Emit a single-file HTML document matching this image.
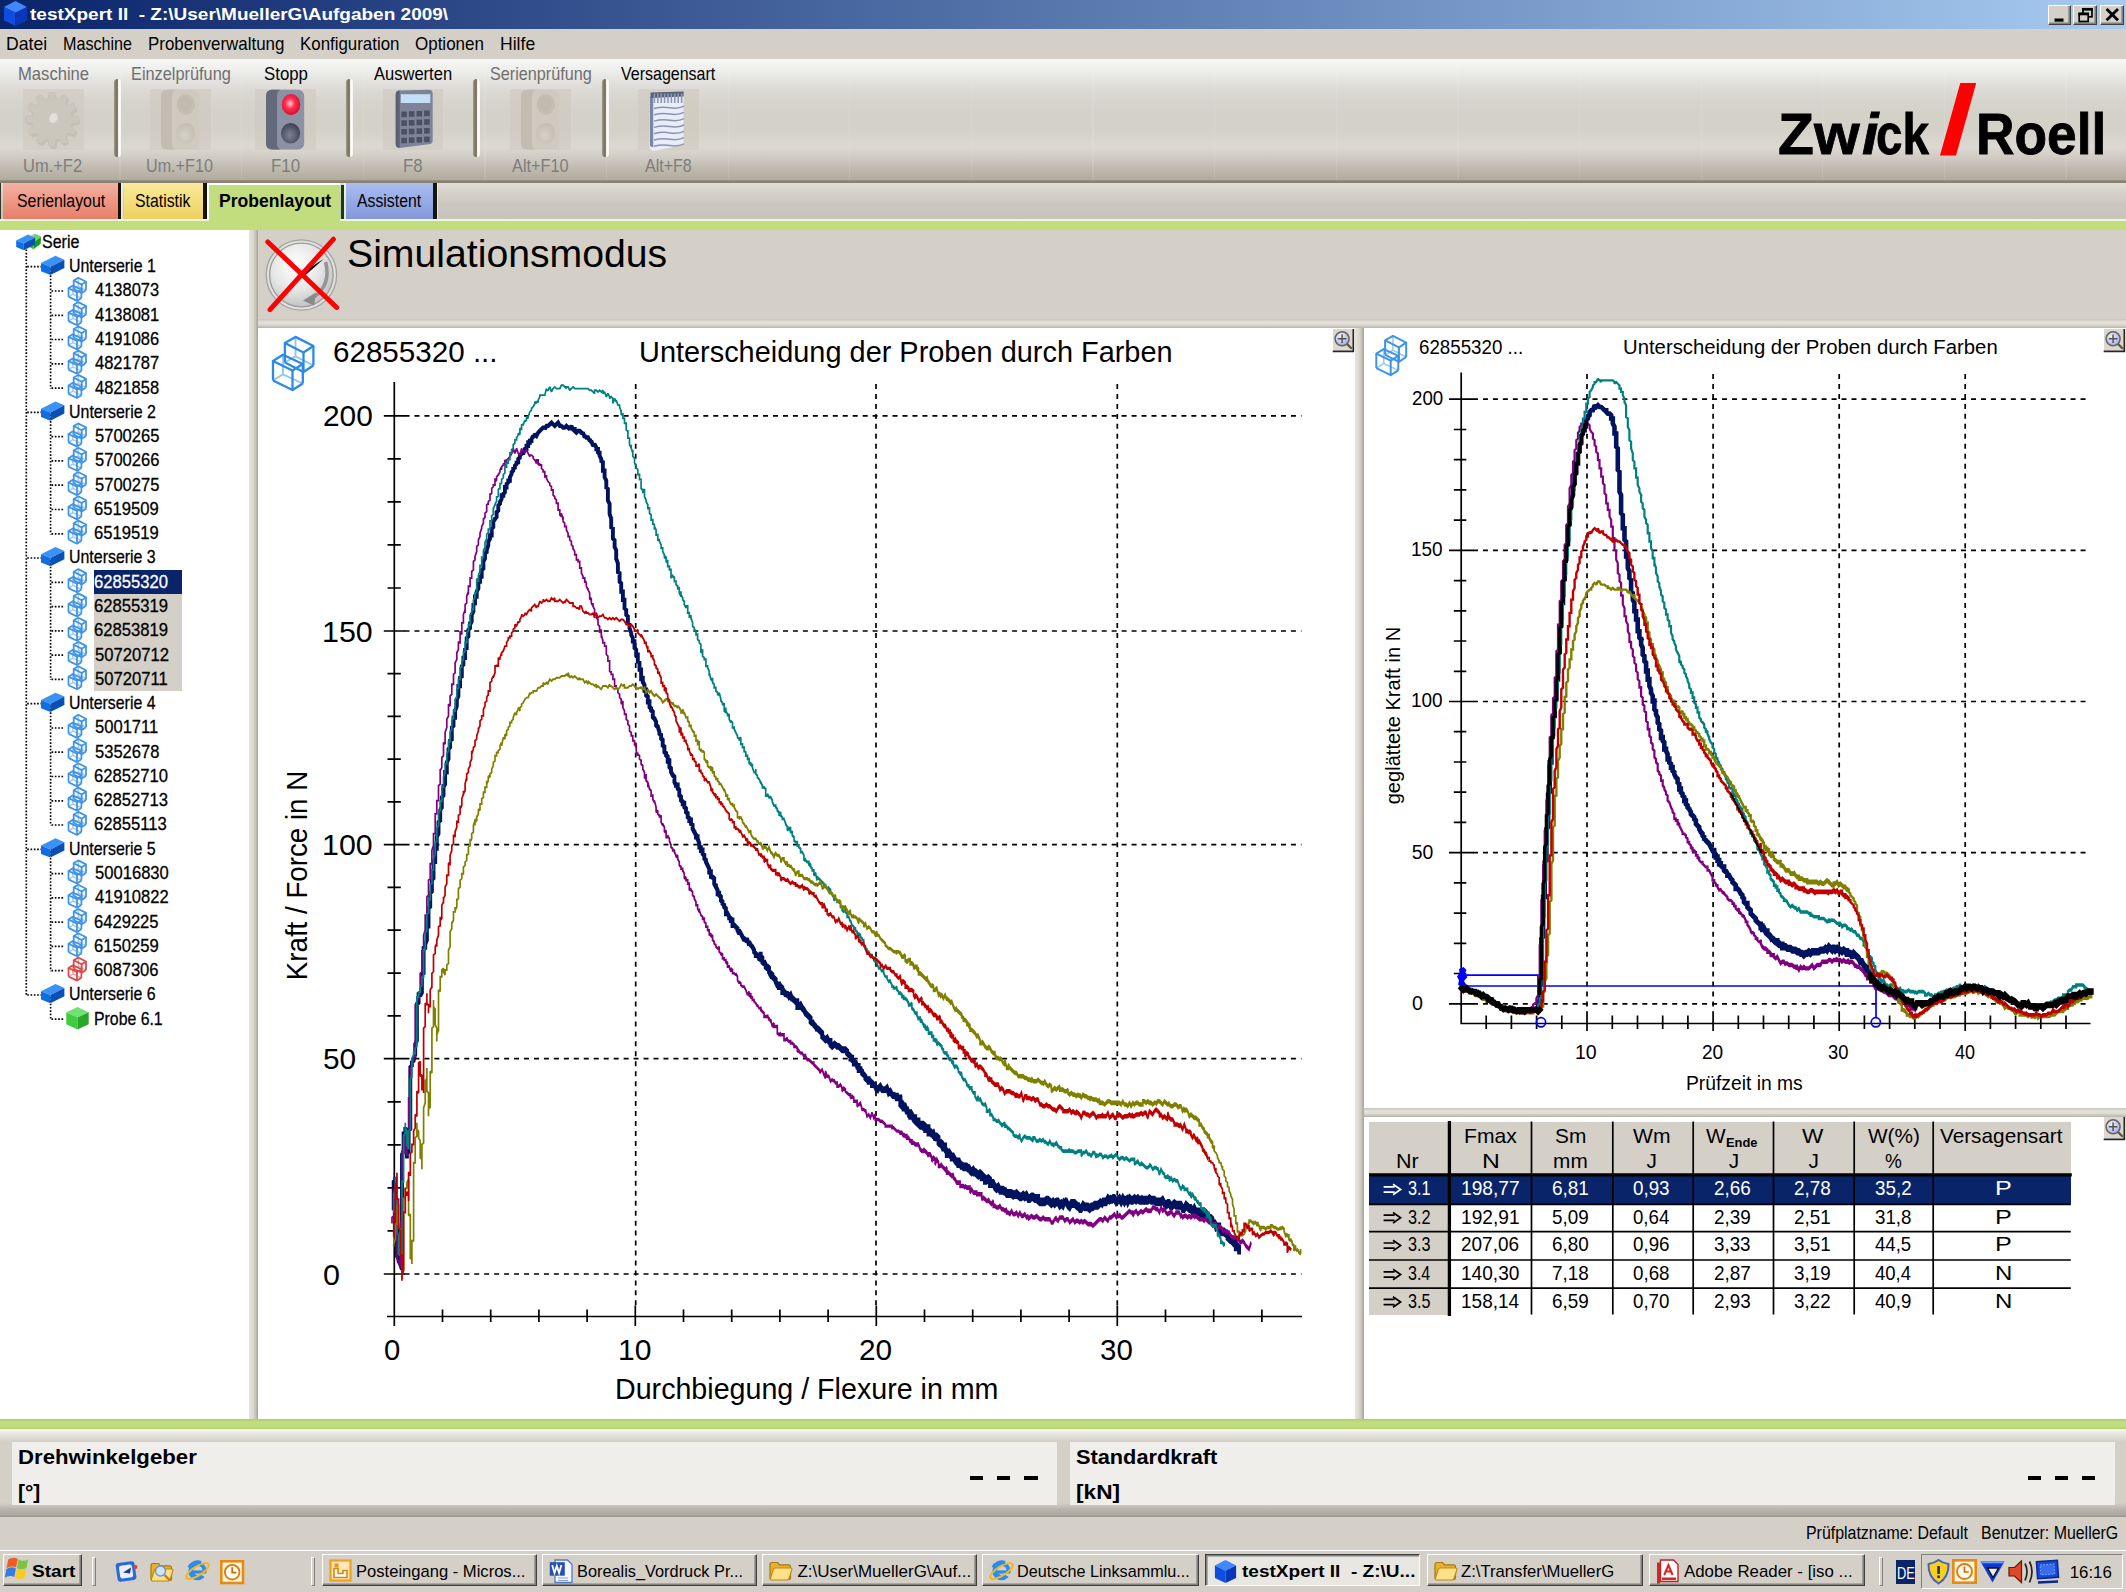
<!DOCTYPE html>
<html lang="de"><head><meta charset="utf-8"><title>testXpert II</title>
<style>
html,body{margin:0;padding:0;}
body{width:2126px;height:1592px;overflow:hidden;background:#d4d0c8;font-family:"Liberation Sans",sans-serif;color:#000;position:relative;}
.b{position:absolute;box-sizing:border-box;}
.t{position:absolute;white-space:pre;transform-origin:0 0;margin:0;padding:0;}
svg{position:absolute;overflow:visible;}
.dis{color:#6f6f6f;}
.tr{-webkit-text-stroke:0.3px currentColor;}
.logo{-webkit-text-stroke:0.8px #000;}
</style></head>
<body>
<div class="b titlebar" style="left:0.00px;top:0.00px;width:2126.00px;height:28.50px;background:linear-gradient(to right,#0a246a 0%,#a6caf0 100%);"></div>
<svg style="left:3.00px;top:1.00px" width="25.00" height="25.00" viewBox="3.00 1.00 25.00 25.00" ><polygon points="15.5,1.0 27.0,7.0 15.5,12.8 4.0,7.0" fill="#3f86ff"/><polygon points="4.0,7.0 15.5,12.8 15.5,26.0 4.0,20.5" fill="#0f4ce0"/><polygon points="15.5,12.8 27.0,7.0 27.0,20.5 15.5,26.0" fill="#0a36b8"/></svg>
<span class="t" style="left:30.07px;top:6.34px;font-size:17.20px;line-height:17.20px;transform:scaleX(1.1055);color:#fff;font-weight:bold;">testXpert II  - Z:\User\MuellerG\Aufgaben 2009\</span>
<div class="b" style="left:2048.2px;top:4.6px;width:22.6px;height:20.4px;background:#d4d0c8;border-top:1.7px solid #fff;border-left:1.7px solid #fff;border-right:1.7px solid #404040;border-bottom:1.7px solid #404040;box-shadow:inset -1.6px -1.6px 0 #808080;"></div><div class="b" style="left:2073.0px;top:4.6px;width:23.6px;height:20.4px;background:#d4d0c8;border-top:1.7px solid #fff;border-left:1.7px solid #fff;border-right:1.7px solid #404040;border-bottom:1.7px solid #404040;box-shadow:inset -1.6px -1.6px 0 #808080;"></div><div class="b" style="left:2100.0px;top:4.6px;width:23.8px;height:20.4px;background:#d4d0c8;border-top:1.7px solid #fff;border-left:1.7px solid #fff;border-right:1.7px solid #404040;border-bottom:1.7px solid #404040;box-shadow:inset -1.6px -1.6px 0 #808080;"></div><svg style="left:2040.00px;top:0.00px" width="86.00" height="28.00" viewBox="2040.00 0.00 86.00 28.00" ><rect x="2054.5" y="18.5" width="9" height="3.2" fill="#000"/><rect x="2083" y="8.8" width="9" height="8" fill="none" stroke="#000" stroke-width="1.7"/><rect x="2082.2" y="8" width="10.6" height="2.6" fill="#000"/><rect x="2079.2" y="13.5" width="9" height="8" fill="#d4d0c8" stroke="#000" stroke-width="1.7"/><rect x="2078.4" y="12.7" width="10.6" height="2.6" fill="#000"/><path d="M2106.6 9 L2118 20.3 M2118 9 L2106.6 20.3" stroke="#000" stroke-width="2.9" fill="none"/></svg>
<div class="b menubar" style="left:0.00px;top:28.50px;width:2126.00px;height:30.00px;background:#d4d0c8;"></div>
<span class="t" style="left:6.05px;top:34.76px;font-size:18.60px;line-height:18.60px;transform:scaleX(0.9473);">Datei</span>
<span class="t" style="left:62.68px;top:34.76px;font-size:18.60px;line-height:18.60px;transform:scaleX(0.8673);">Maschine</span>
<span class="t" style="left:147.61px;top:34.76px;font-size:18.60px;line-height:18.60px;transform:scaleX(0.9103);">Probenverwaltung</span>
<span class="t" style="left:299.62px;top:34.76px;font-size:18.60px;line-height:18.60px;transform:scaleX(0.9076);">Konfiguration</span>
<span class="t" style="left:415.20px;top:34.76px;font-size:18.60px;line-height:18.60px;transform:scaleX(0.9128);">Optionen</span>
<span class="t" style="left:499.56px;top:34.76px;font-size:18.60px;line-height:18.60px;transform:scaleX(0.9467);">Hilfe</span>
<div class="b toolbar" style="left:0.00px;top:58.50px;width:2126.00px;height:124.30px;background:linear-gradient(to bottom,#f6f6f4 0.00%,#efefed 8.05%,#e4e3e0 17.30%,#dcdad5 25.34%,#d7d4ce 33.39%,#d4d1c9 44.25%,#d4d1c9 57.52%,#dcd9d3 71.20%,#ccc8bf 81.66%,#c0bbb0 87.69%,#b7b1a5 94.13%,#b1ab9e 97.51%,#8b8374 98.15%,#877f70 100.00%);"></div>
<div class="b" style="left:119.45px;top:59.00px;width:1.20px;height:120.50px;background:rgba(255,255,255,0.09);"></div>
<div class="b" style="left:241.07px;top:59.00px;width:1.20px;height:120.50px;background:rgba(255,255,255,0.09);"></div>
<div class="b" style="left:362.70px;top:59.00px;width:1.20px;height:120.50px;background:rgba(255,255,255,0.09);"></div>
<div class="b" style="left:484.32px;top:59.00px;width:1.20px;height:120.50px;background:rgba(255,255,255,0.09);"></div>
<div class="b" style="left:605.95px;top:59.00px;width:1.20px;height:120.50px;background:rgba(255,255,255,0.09);"></div>
<div class="b" style="left:727.57px;top:59.00px;width:1.20px;height:120.50px;background:rgba(255,255,255,0.09);"></div>
<div class="b" style="left:849.20px;top:59.00px;width:1.20px;height:120.50px;background:rgba(255,255,255,0.09);"></div>
<div class="b" style="left:970.82px;top:59.00px;width:1.20px;height:120.50px;background:rgba(255,255,255,0.09);"></div>
<div class="b" style="left:1092.45px;top:59.00px;width:1.20px;height:120.50px;background:rgba(255,255,255,0.09);"></div>
<div class="b" style="left:1214.08px;top:59.00px;width:1.20px;height:120.50px;background:rgba(255,255,255,0.09);"></div>
<div class="b" style="left:1335.70px;top:59.00px;width:1.20px;height:120.50px;background:rgba(255,255,255,0.09);"></div>
<div class="b" style="left:1457.33px;top:59.00px;width:1.20px;height:120.50px;background:rgba(255,255,255,0.09);"></div>
<div class="b" style="left:1578.95px;top:59.00px;width:1.20px;height:120.50px;background:rgba(255,255,255,0.09);"></div>
<div class="b" style="left:1700.58px;top:59.00px;width:1.20px;height:120.50px;background:rgba(255,255,255,0.09);"></div>
<div class="b" style="left:1822.20px;top:59.00px;width:1.20px;height:120.50px;background:rgba(255,255,255,0.09);"></div>
<div class="b" style="left:1943.83px;top:59.00px;width:1.20px;height:120.50px;background:rgba(255,255,255,0.09);"></div>
<div class="b" style="left:2065.45px;top:59.00px;width:1.20px;height:120.50px;background:rgba(255,255,255,0.09);"></div>
<div class="b" style="left:23.00px;top:89.00px;width:60.50px;height:60.50px;background:rgba(205,200,190,0.55);"></div>
<svg style="left:23.00px;top:89.00px" width="60.50" height="60.50" viewBox="23.00 89.00 60.50 60.50" ><polygon points="71.7,115.4 78.3,116.8 78.3,122.2 71.7,123.6 71.0,126.0 76.1,130.6 73.5,135.3 67.1,133.1 65.3,134.9 67.5,141.4 62.9,144.1 58.4,138.9 56.0,139.6 54.6,146.4 49.4,146.4 48.0,139.6 45.6,138.9 41.1,144.1 36.5,141.4 38.7,134.9 36.9,133.1 30.5,135.3 27.9,130.6 33.0,126.0 32.3,123.6 25.7,122.2 25.7,116.8 32.3,115.4 33.0,113.0 27.9,108.4 30.5,103.7 36.9,105.9 38.7,104.1 36.5,97.6 41.1,94.9 45.6,100.1 48.0,99.4 49.4,92.6 54.6,92.6 56.0,99.4 58.4,100.1 62.9,94.9 67.5,97.6 65.3,104.1 67.1,105.9 73.5,103.7 76.1,108.4 71.0,113.0" fill="#cbc6ba" stroke="#c2bdb0" stroke-width="1"/><polygon points="73.2,117.9 79.8,119.3 79.8,124.7 73.2,126.1 72.5,128.5 77.6,133.1 75.0,137.8 68.6,135.6 66.8,137.4 69.0,143.9 64.4,146.6 59.9,141.4 57.5,142.1 56.1,148.9 50.9,148.9 49.5,142.1 47.1,141.4 42.6,146.6 38.0,143.9 40.2,137.4 38.4,135.6 32.0,137.8 29.4,133.1 34.5,128.5 33.8,126.1 27.2,124.7 27.2,119.3 33.8,117.9 34.5,115.5 29.4,110.9 32.0,106.2 38.4,108.4 40.2,106.6 38.0,100.1 42.6,97.4 47.1,102.6 49.5,101.9 50.9,95.1 56.1,95.1 57.5,101.9 59.9,102.6 64.4,97.4 69.0,100.1 66.8,106.6 68.6,108.4 75.0,106.2 77.6,110.9 72.5,115.5" fill="#bcb6a9" opacity="0.55"/><polygon points="71.7,115.4 78.3,116.8 78.3,122.2 71.7,123.6 71.0,126.0 76.1,130.6 73.5,135.3 67.1,133.1 65.3,134.9 67.5,141.4 62.9,144.1 58.4,138.9 56.0,139.6 54.6,146.4 49.4,146.4 48.0,139.6 45.6,138.9 41.1,144.1 36.5,141.4 38.7,134.9 36.9,133.1 30.5,135.3 27.9,130.6 33.0,126.0 32.3,123.6 25.7,122.2 25.7,116.8 32.3,115.4 33.0,113.0 27.9,108.4 30.5,103.7 36.9,105.9 38.7,104.1 36.5,97.6 41.1,94.9 45.6,100.1 48.0,99.4 49.4,92.6 54.6,92.6 56.0,99.4 58.4,100.1 62.9,94.9 67.5,97.6 65.3,104.1 67.1,105.9 73.5,103.7 76.1,108.4 71.0,113.0" fill="#ccc7bc"/><ellipse cx="53.5" cy="118.0" rx="4" ry="5" fill="#e4e1da" transform="rotate(25 53.5 118.0)"/></svg>
<span class="t dis" style="left:17.64px;top:64.76px;font-size:18.60px;line-height:18.60px;transform:scaleX(0.8932);">Maschine</span>
<span class="t" style="left:22.73px;top:156.76px;font-size:18.60px;line-height:18.60px;transform:scaleX(0.8866);color:#7d7d7d;">Um.+F2</span>
<div class="b" style="left:150.00px;top:89.00px;width:60.50px;height:60.50px;background:rgba(205,200,190,0.55);"></div>
<svg style="left:150.00px;top:89.00px" width="60.50" height="62.00" viewBox="150.00 89.00 60.50 62.00" ><defs><radialGradient id="ltd1" cx="45%" cy="45%" r="55%"><stop offset="0" stop-color="#c4beb2"/><stop offset="0.45" stop-color="#c0baae"/><stop offset="1" stop-color="#c6c1b6"/></radialGradient><radialGradient id="lbd1" cx="45%" cy="60%" r="60%"><stop offset="0" stop-color="#d6d2c9"/><stop offset="1" stop-color="#c3bdb1"/></radialGradient></defs><rect x="161.0" y="89.8" width="38.2" height="59.6" rx="6" ry="6" fill="#cfcabf"/><path d="M161.0 95.8 q0 -5.5 6 -6 l8.5 0 q-3.5 1.5 -3.5 6 l0 47.6 q0 4.5 3.5 6 l-8.5 0 q-6 -0.5 -6 -6 z" fill="#c3bdb1"/><ellipse cx="186.0" cy="104.6" rx="9.3" ry="10.6" fill="url(#ltd1)"/><ellipse cx="185.6" cy="133.2" rx="9.6" ry="10.2" fill="url(#lbd1)"/></svg>
<span class="t dis" style="left:130.66px;top:64.76px;font-size:18.60px;line-height:18.60px;transform:scaleX(0.8782);">Einzelprüfung</span>
<span class="t" style="left:146.25px;top:156.76px;font-size:18.60px;line-height:18.60px;transform:scaleX(0.8685);color:#7d7d7d;">Um.+F10</span>
<div class="b" style="left:255.00px;top:89.00px;width:60.50px;height:60.50px;background:rgba(205,200,190,0.55);"></div>
<svg style="left:255.00px;top:89.00px" width="60.50" height="62.00" viewBox="255.00 89.00 60.50 62.00" ><defs><radialGradient id="lte2" cx="45%" cy="45%" r="55%"><stop offset="0" stop-color="#ffd0d8"/><stop offset="0.45" stop-color="#ff3050"/><stop offset="1" stop-color="#d81030"/></radialGradient><radialGradient id="lbe2" cx="45%" cy="60%" r="60%"><stop offset="0" stop-color="#7c8494"/><stop offset="1" stop-color="#3c4454"/></radialGradient></defs><rect x="266.0" y="89.8" width="38.2" height="59.6" rx="6" ry="6" fill="#8c92a4"/><path d="M266.0 95.8 q0 -5.5 6 -6 l8.5 0 q-3.5 1.5 -3.5 6 l0 47.6 q0 4.5 3.5 6 l-8.5 0 q-6 -0.5 -6 -6 z" fill="#626a7c"/><ellipse cx="291.0" cy="104.6" rx="9.3" ry="10.6" fill="url(#lte2)"/><ellipse cx="290.6" cy="133.2" rx="9.6" ry="10.2" fill="url(#lbe2)"/></svg>
<span class="t" style="left:263.74px;top:64.76px;font-size:18.60px;line-height:18.60px;transform:scaleX(0.9046);">Stopp</span>
<span class="t" style="left:270.62px;top:156.76px;font-size:18.60px;line-height:18.60px;transform:scaleX(0.9061);color:#7d7d7d;">F10</span>
<div class="b" style="left:382.50px;top:89.00px;width:60.50px;height:60.50px;background:rgba(205,200,190,0.55);"></div>
<svg style="left:382.50px;top:89.00px" width="60.50" height="62.00" viewBox="382.50 89.00 60.50 62.00" ><path d="M395.2 94.5 q0 -4 4 -4 l29 -0.8 q4 0 4 4 l0 47 q0 3 -4 3.6 l-29 3.6 q-4 0.4 -4 -4 z" fill="#7d8498"/><path d="M395.2 94.5 q0 -4 4 -4 l0 57 q-4 0.4 -4 -4 z" fill="#5a6176"/><rect x="400.3" y="94.2" width="29.5" height="8.8" fill="#c4def8"/><rect x="400.8" y="111.6" width="5.6" height="5.6" fill="#4a5166"/><rect x="408.4" y="111.2" width="5.6" height="5.6" fill="#4a5166"/><rect x="416.0" y="110.9" width="5.6" height="5.6" fill="#4a5166"/><rect x="423.6" y="110.5" width="5.6" height="5.6" fill="#4a5166"/><rect x="400.8" y="120.3" width="5.6" height="5.6" fill="#4a5166"/><rect x="408.4" y="120.0" width="5.6" height="5.6" fill="#4a5166"/><rect x="416.0" y="119.6" width="5.6" height="5.6" fill="#4a5166"/><rect x="423.6" y="119.2" width="5.6" height="5.6" fill="#4a5166"/><rect x="400.8" y="129.0" width="5.6" height="5.6" fill="#4a5166"/><rect x="408.4" y="128.7" width="5.6" height="5.6" fill="#4a5166"/><rect x="416.0" y="128.3" width="5.6" height="5.6" fill="#4a5166"/><rect x="423.6" y="128.0" width="5.6" height="5.6" fill="#4a5166"/><rect x="400.8" y="137.7" width="5.6" height="5.6" fill="#4a5166"/><rect x="408.4" y="137.3" width="5.6" height="5.6" fill="#4a5166"/><rect x="416.0" y="137.0" width="5.6" height="5.6" fill="#4a5166"/><rect x="423.6" y="136.6" width="5.6" height="5.6" fill="#4a5166"/></svg>
<span class="t" style="left:373.97px;top:64.76px;font-size:18.60px;line-height:18.60px;transform:scaleX(0.8888);">Auswerten</span>
<span class="t" style="left:403.12px;top:156.76px;font-size:18.60px;line-height:18.60px;transform:scaleX(0.9034);color:#7d7d7d;">F8</span>
<div class="b" style="left:510.00px;top:89.00px;width:60.50px;height:60.50px;background:rgba(205,200,190,0.55);"></div>
<svg style="left:510.00px;top:89.00px" width="60.50" height="62.00" viewBox="510.00 89.00 60.50 62.00" ><defs><radialGradient id="ltd3" cx="45%" cy="45%" r="55%"><stop offset="0" stop-color="#c4beb2"/><stop offset="0.45" stop-color="#c0baae"/><stop offset="1" stop-color="#c6c1b6"/></radialGradient><radialGradient id="lbd3" cx="45%" cy="60%" r="60%"><stop offset="0" stop-color="#d6d2c9"/><stop offset="1" stop-color="#c3bdb1"/></radialGradient></defs><rect x="521.0" y="89.8" width="38.2" height="59.6" rx="6" ry="6" fill="#cfcabf"/><path d="M521.0 95.8 q0 -5.5 6 -6 l8.5 0 q-3.5 1.5 -3.5 6 l0 47.6 q0 4.5 3.5 6 l-8.5 0 q-6 -0.5 -6 -6 z" fill="#c3bdb1"/><ellipse cx="546.0" cy="104.6" rx="9.3" ry="10.6" fill="url(#ltd3)"/><ellipse cx="545.6" cy="133.2" rx="9.6" ry="10.2" fill="url(#lbd3)"/></svg>
<span class="t dis" style="left:490.26px;top:64.76px;font-size:18.60px;line-height:18.60px;transform:scaleX(0.8710);">Serienprüfung</span>
<span class="t" style="left:511.97px;top:156.76px;font-size:18.60px;line-height:18.60px;transform:scaleX(0.8770);color:#7d7d7d;">Alt+F10</span>
<div class="b" style="left:638.00px;top:89.00px;width:60.50px;height:60.50px;background:rgba(205,200,190,0.55);"></div>
<svg style="left:638.00px;top:89.00px" width="60.50" height="62.00" viewBox="638.00 89.00 60.50 62.00" ><path d="M650.0 96.0 l33.5 -1 l0 50 l-30 6 l-4 -2 z" fill="#e9edf8"/><path d="M650.0 96.5 l3.2 0 l0 51 l-3.2 -1.5 z" fill="#7a86a8"/><path d="M650.6 92.5 l33 -1 l0 5 l-33 1.5 z" fill="#59617a"/><rect x="653.6" y="93.5" width="1.6" height="9.5" fill="#8e98b4"/><rect x="657.0" y="93.5" width="1.6" height="9.5" fill="#8e98b4"/><rect x="660.4" y="93.5" width="1.6" height="9.5" fill="#8e98b4"/><rect x="663.8" y="93.5" width="1.6" height="9.5" fill="#8e98b4"/><rect x="667.2" y="93.5" width="1.6" height="9.5" fill="#8e98b4"/><rect x="670.6" y="93.5" width="1.6" height="9.5" fill="#8e98b4"/><rect x="674.0" y="93.5" width="1.6" height="9.5" fill="#8e98b4"/><rect x="677.4" y="93.5" width="1.6" height="9.5" fill="#8e98b4"/><rect x="680.8" y="93.5" width="1.6" height="9.5" fill="#8e98b4"/><path d="M654.0 108.5 q8 -2.2 16 -0.8 t14 -1.6" stroke="#8a93b2" stroke-width="1.5" fill="none"/><path d="M654.0 114.8 q8 -2.2 16 -0.8 t14 -1.6" stroke="#8a93b2" stroke-width="1.5" fill="none"/><path d="M654.0 121.1 q8 -2.2 16 -0.8 t14 -1.6" stroke="#8a93b2" stroke-width="1.5" fill="none"/><path d="M654.0 127.4 q8 -2.2 16 -0.8 t14 -1.6" stroke="#8a93b2" stroke-width="1.5" fill="none"/><path d="M654.0 133.7 q8 -2.2 16 -0.8 t14 -1.6" stroke="#8a93b2" stroke-width="1.5" fill="none"/><path d="M654.0 140.0 q8 -2.2 16 -0.8 t14 -1.6" stroke="#8a93b2" stroke-width="1.5" fill="none"/><path d="M654.0 146.3 q8 -2.2 16 -0.8 t14 -1.6" stroke="#8a93b2" stroke-width="1.5" fill="none"/></svg>
<span class="t" style="left:620.93px;top:64.76px;font-size:18.60px;line-height:18.60px;transform:scaleX(0.8604);">Versagensart</span>
<span class="t" style="left:644.97px;top:156.76px;font-size:18.60px;line-height:18.60px;transform:scaleX(0.8609);color:#7d7d7d;">Alt+F8</span>
<span class="t logo" style="left:1778.25px;top:107.37px;font-size:56.50px;line-height:56.50px;transform:scaleX(1.0405);font-weight:bold;">Zw</span>
<span class="t logo" style="left:1861.99px;top:107.37px;font-size:56.50px;line-height:56.50px;transform:scaleX(1.0511);font-weight:bold;font-style:italic;">i</span>
<span class="t logo" style="left:1876.14px;top:107.37px;font-size:56.50px;line-height:56.50px;transform:scaleX(0.8436);font-weight:bold;">ck</span>
<svg style="left:1935px;top:80px" width="50" height="80" viewBox="1935 80 50 80"><polygon points="1960.3,83 1976.2,83 1956,155.6 1940,155.6" fill="#ff0000"/></svg>
<span class="t logo" style="left:1976.43px;top:107.37px;font-size:56.50px;line-height:56.50px;transform:scaleX(0.9436);font-weight:bold;">Roell</span>
<div class="b" style="left:114.00px;top:79.00px;width:7.00px;height:78.00px;background:linear-gradient(to right,#a59c8c 0%,#7d7362 30%,#857b6a 50%,#f2f0ec 64%,#ffffff 80%,#f4f2ee 100%);border-radius:3.5px;"></div>
<div class="b" style="left:346.00px;top:79.00px;width:7.00px;height:78.00px;background:linear-gradient(to right,#a59c8c 0%,#7d7362 30%,#857b6a 50%,#f2f0ec 64%,#ffffff 80%,#f4f2ee 100%);border-radius:3.5px;"></div>
<div class="b" style="left:473.00px;top:79.00px;width:7.00px;height:78.00px;background:linear-gradient(to right,#a59c8c 0%,#7d7362 30%,#857b6a 50%,#f2f0ec 64%,#ffffff 80%,#f4f2ee 100%);border-radius:3.5px;"></div>
<div class="b" style="left:601.50px;top:79.00px;width:7.00px;height:78.00px;background:linear-gradient(to right,#a59c8c 0%,#7d7362 30%,#857b6a 50%,#f2f0ec 64%,#ffffff 80%,#f4f2ee 100%);border-radius:3.5px;"></div>
<div class="b tabstrip" style="left:0.00px;top:182.80px;width:2126.00px;height:37.70px;background:linear-gradient(to bottom,#e2dfd9 0%,#d6d3cc 22%,#ccc8bf 55%,#c8c4bb 100%);"></div>
<div class="b" style="left:2.50px;top:183.40px;width:115.00px;height:35.90px;background:linear-gradient(to bottom,#f3b3a3 0%,#ef9f8d 35%,#eb8e7a 70%,#e77f69 100%);"></div>
<div class="b" style="left:117.50px;top:183.40px;width:3.80px;height:35.90px;background:#1a1008;"></div>
<div class="b" style="left:121.30px;top:183.40px;width:1.40px;height:35.90px;background:rgba(255,255,255,0.55);"></div>
<span class="t" style="left:16.88px;top:192.39px;font-size:18.80px;line-height:18.80px;transform:scaleX(0.8443);">Serienlayout</span>
<div class="b" style="left:124.00px;top:183.40px;width:79.00px;height:35.90px;background:linear-gradient(to bottom,#f9ea9c 0%,#f5e184 35%,#f1d972 70%,#edcf60 100%);"></div>
<div class="b" style="left:203.00px;top:183.40px;width:3.80px;height:35.90px;background:#181000;"></div>
<div class="b" style="left:206.80px;top:183.40px;width:1.40px;height:35.90px;background:rgba(255,255,255,0.55);"></div>
<span class="t" style="left:135.48px;top:192.39px;font-size:18.80px;line-height:18.80px;transform:scaleX(0.8432);">Statistik</span>
<div class="b" style="left:207.30px;top:183.20px;width:133.20px;height:38.00px;background:#c1dd7e;border-left:2.1px solid #fff;border-top:2.7px solid #fff;"></div>
<div class="b" style="left:340.50px;top:184.50px;width:3.80px;height:34.80px;background:#0c4400;"></div>
<div class="b" style="left:344.30px;top:183.40px;width:1.40px;height:35.90px;background:rgba(255,255,255,0.55);"></div>
<span class="t" style="left:219.02px;top:191.25px;font-size:19.20px;line-height:19.20px;transform:scaleX(0.9153);font-weight:bold;">Probenlayout</span>
<div class="b" style="left:345.80px;top:183.40px;width:87.00px;height:35.90px;background:linear-gradient(to bottom,#abbef1 0%,#9bb0e9 35%,#8ea4e1 70%,#8397d7 100%);"></div>
<div class="b" style="left:432.80px;top:183.40px;width:3.80px;height:35.90px;background:#181410;"></div>
<div class="b" style="left:436.60px;top:183.40px;width:1.40px;height:35.90px;background:rgba(255,255,255,0.55);"></div>
<span class="t" style="left:356.97px;top:192.09px;font-size:18.80px;line-height:18.80px;transform:scaleX(0.8410);">Assistent</span>
<div class="b" style="left:0.00px;top:183.40px;width:1.00px;height:35.90px;background:#3a342c;"></div>
<div class="b" style="left:0.00px;top:219.40px;width:2126.00px;height:1.80px;background:#eef6dc;"></div>
<div class="b" style="left:0.00px;top:221.00px;width:2126.00px;height:9.00px;background:#c1dd7e;"></div>
<div class="b" style="left:209.40px;top:219.00px;width:131.10px;height:4.00px;background:#c1dd7e;"></div>
<div class="b tree" style="left:0.00px;top:230.00px;width:249.00px;height:1189.00px;background:#fff;"></div>
<div class="b" style="left:94.00px;top:570.00px;width:88.20px;height:23.90px;background:#0a246a;"></div>
<div class="b" style="left:94.00px;top:593.90px;width:88.20px;height:96.90px;background:#d4d0c8;"></div>
<svg class="tree-icons" style="left:0;top:230px" width="249" height="1189" viewBox="0 230 249 1189"><g stroke="#000" stroke-width="1.66" stroke-dasharray="1.66 1.66" fill="none"><path d="M26.3 249.4 V994.8"/><path d="M27.2 266.7 H41"/><path d="M50.6 268.7 V388.7"/><path d="M51.5 291.0 H64.5"/><path d="M51.5 315.3 H64.5"/><path d="M51.5 339.5 H64.5"/><path d="M51.5 363.8 H64.5"/><path d="M51.5 388.1 H64.5"/><path d="M27.2 412.4 H41"/><path d="M50.6 414.4 V534.4"/><path d="M51.5 436.6 H64.5"/><path d="M51.5 460.9 H64.5"/><path d="M51.5 485.2 H64.5"/><path d="M51.5 509.5 H64.5"/><path d="M51.5 533.8 H64.5"/><path d="M27.2 558.0 H41"/><path d="M50.6 560.0 V680.0"/><path d="M51.5 582.3 H64.5"/><path d="M51.5 606.6 H64.5"/><path d="M51.5 630.8 H64.5"/><path d="M51.5 655.1 H64.5"/><path d="M51.5 679.4 H64.5"/><path d="M27.2 703.7 H41"/><path d="M50.6 705.7 V825.6"/><path d="M51.5 728.0 H64.5"/><path d="M51.5 752.2 H64.5"/><path d="M51.5 776.5 H64.5"/><path d="M51.5 800.8 H64.5"/><path d="M51.5 825.0 H64.5"/><path d="M27.2 849.3 H41"/><path d="M50.6 851.3 V971.3"/><path d="M51.5 873.6 H64.5"/><path d="M51.5 897.9 H64.5"/><path d="M51.5 922.1 H64.5"/><path d="M51.5 946.4 H64.5"/><path d="M51.5 970.7 H64.5"/><path d="M27.2 995.0 H41"/><path d="M50.6 997.0 V1019.9"/><path d="M51.5 1019.2 H64.5"/></g><polygon points="26.2,237.9 35.2,233.5 40.7,235.9 32.0,240.2" fill="#b8b8b8"/><polygon points="26.2,237.9 32.0,240.2 32.0,245.3 26.2,243.0" fill="#8a8a8a"/><polygon points="32.0,240.2 40.7,235.9 40.7,240.9 32.0,245.3" fill="#707070"/><polygon points="28.7,240.1 36.1,234.5 40.7,237.5 33.5,242.9" fill="#5ee05e"/><polygon points="28.7,240.1 33.5,242.9 33.5,249.2 28.7,246.4" fill="#2cc02c"/><polygon points="33.5,242.9 40.7,237.5 40.7,243.8 33.5,249.2" fill="#1a9a1a"/><polygon points="16.2,240.4 28.0,234.5 35.2,237.7 23.8,243.5" fill="#3a92f6"/><polygon points="16.2,240.4 23.8,243.5 23.8,250.2 16.2,247.1" fill="#0e6ee6"/><polygon points="23.8,243.5 35.2,237.7 35.2,244.4 23.8,250.2" fill="#0a50b4"/><polygon points="41.0,263.0 55.5,255.7 64.4,259.7 50.4,266.8" fill="#3a92f6"/><polygon points="41.0,263.0 50.4,266.8 50.4,275.0 41.0,271.3" fill="#0e6ee6"/><polygon points="50.4,266.8 64.4,259.7 64.4,267.9 50.4,275.0" fill="#0a50b4"/><g fill="none" stroke="#3f93e6" stroke-width="1.75" stroke-linejoin="round"><path d="M73.7 289.0 L78.3 286.3 L86.0 290.3 M78.3 277.8 L78.3 286.3" opacity="0.5" stroke-width="1.40"/><polygon points="73.7,280.5 78.3,277.8 86.0,281.8 81.7,284.6"/><path d="M73.7 289.0 L81.7 293.1 L86.0 290.3"/><path d="M73.7 280.5 L73.7 289.0"/><path d="M86.0 281.8 L86.0 290.3"/><path d="M81.7 284.6 L81.7 293.1"/></g><g fill="none" stroke="#3f93e6" stroke-width="1.75" stroke-linejoin="round"><path d="M68.5 296.8 L72.8 294.1 L81.4 298.1 M72.8 285.6 L72.8 294.1" opacity="0.5" stroke-width="1.40"/><polygon points="68.5,288.3 72.8,285.6 81.4,289.6 77.0,292.4"/><path d="M68.5 296.8 L77.0 300.9 L81.4 298.1"/><path d="M68.5 288.3 L68.5 296.8"/><path d="M81.4 289.6 L81.4 298.1"/><path d="M77.0 292.4 L77.0 300.9"/></g><g fill="none" stroke="#3f93e6" stroke-width="1.75" stroke-linejoin="round"><path d="M73.7 313.2 L78.3 310.6 L86.0 314.5 M78.3 302.1 L78.3 310.6" opacity="0.5" stroke-width="1.40"/><polygon points="73.7,304.7 78.3,302.1 86.0,306.1 81.7,308.9"/><path d="M73.7 313.2 L81.7 317.4 L86.0 314.5"/><path d="M73.7 304.7 L73.7 313.2"/><path d="M86.0 306.1 L86.0 314.5"/><path d="M81.7 308.9 L81.7 317.4"/></g><g fill="none" stroke="#3f93e6" stroke-width="1.75" stroke-linejoin="round"><path d="M68.5 321.1 L72.8 318.4 L81.4 322.4 M72.8 309.9 L72.8 318.4" opacity="0.5" stroke-width="1.40"/><polygon points="68.5,312.6 72.8,309.9 81.4,313.9 77.0,316.7"/><path d="M68.5 321.1 L77.0 325.2 L81.4 322.4"/><path d="M68.5 312.6 L68.5 321.1"/><path d="M81.4 313.9 L81.4 322.4"/><path d="M77.0 316.7 L77.0 325.2"/></g><g fill="none" stroke="#3f93e6" stroke-width="1.75" stroke-linejoin="round"><path d="M73.7 337.5 L78.3 334.8 L86.0 338.8 M78.3 326.4 L78.3 334.8" opacity="0.5" stroke-width="1.40"/><polygon points="73.7,329.0 78.3,326.4 86.0,330.3 81.7,333.2"/><path d="M73.7 337.5 L81.7 341.6 L86.0 338.8"/><path d="M73.7 329.0 L73.7 337.5"/><path d="M86.0 330.3 L86.0 338.8"/><path d="M81.7 333.2 L81.7 341.6"/></g><g fill="none" stroke="#3f93e6" stroke-width="1.75" stroke-linejoin="round"><path d="M68.5 345.3 L72.8 342.6 L81.4 346.6 M72.8 334.2 L72.8 342.6" opacity="0.5" stroke-width="1.40"/><polygon points="68.5,336.9 72.8,334.2 81.4,338.2 77.0,341.0"/><path d="M68.5 345.3 L77.0 349.5 L81.4 346.6"/><path d="M68.5 336.9 L68.5 345.3"/><path d="M81.4 338.2 L81.4 346.6"/><path d="M77.0 341.0 L77.0 349.5"/></g><g fill="none" stroke="#3f93e6" stroke-width="1.75" stroke-linejoin="round"><path d="M73.7 361.8 L78.3 359.1 L86.0 363.1 M78.3 350.6 L78.3 359.1" opacity="0.5" stroke-width="1.40"/><polygon points="73.7,353.3 78.3,350.6 86.0,354.6 81.7,357.4"/><path d="M73.7 361.8 L81.7 365.9 L86.0 363.1"/><path d="M73.7 353.3 L73.7 361.8"/><path d="M86.0 354.6 L86.0 363.1"/><path d="M81.7 357.4 L81.7 365.9"/></g><g fill="none" stroke="#3f93e6" stroke-width="1.75" stroke-linejoin="round"><path d="M68.5 369.6 L72.8 366.9 L81.4 370.9 M72.8 358.4 L72.8 366.9" opacity="0.5" stroke-width="1.40"/><polygon points="68.5,361.1 72.8,358.4 81.4,362.4 77.0,365.3"/><path d="M68.5 369.6 L77.0 373.7 L81.4 370.9"/><path d="M68.5 361.1 L68.5 369.6"/><path d="M81.4 362.4 L81.4 370.9"/><path d="M77.0 365.3 L77.0 373.7"/></g><g fill="none" stroke="#3f93e6" stroke-width="1.75" stroke-linejoin="round"><path d="M73.7 386.1 L78.3 383.4 L86.0 387.4 M78.3 374.9 L78.3 383.4" opacity="0.5" stroke-width="1.40"/><polygon points="73.7,377.6 78.3,374.9 86.0,378.9 81.7,381.7"/><path d="M73.7 386.1 L81.7 390.2 L86.0 387.4"/><path d="M73.7 377.6 L73.7 386.1"/><path d="M86.0 378.9 L86.0 387.4"/><path d="M81.7 381.7 L81.7 390.2"/></g><g fill="none" stroke="#3f93e6" stroke-width="1.75" stroke-linejoin="round"><path d="M68.5 393.9 L72.8 391.2 L81.4 395.2 M72.8 382.7 L72.8 391.2" opacity="0.5" stroke-width="1.40"/><polygon points="68.5,385.4 72.8,382.7 81.4,386.7 77.0,389.5"/><path d="M68.5 393.9 L77.0 398.0 L81.4 395.2"/><path d="M68.5 385.4 L68.5 393.9"/><path d="M81.4 386.7 L81.4 395.2"/><path d="M77.0 389.5 L77.0 398.0"/></g><polygon points="41.0,408.7 55.5,401.4 64.4,405.3 50.4,412.4" fill="#3a92f6"/><polygon points="41.0,408.7 50.4,412.4 50.4,420.7 41.0,416.9" fill="#0e6ee6"/><polygon points="50.4,412.4 64.4,405.3 64.4,413.6 50.4,420.7" fill="#0a50b4"/><g fill="none" stroke="#3f93e6" stroke-width="1.75" stroke-linejoin="round"><path d="M73.7 434.6 L78.3 431.9 L86.0 435.9 M78.3 423.5 L78.3 431.9" opacity="0.5" stroke-width="1.40"/><polygon points="73.7,426.1 78.3,423.5 86.0,427.4 81.7,430.3"/><path d="M73.7 434.6 L81.7 438.7 L86.0 435.9"/><path d="M73.7 426.1 L73.7 434.6"/><path d="M86.0 427.4 L86.0 435.9"/><path d="M81.7 430.3 L81.7 438.7"/></g><g fill="none" stroke="#3f93e6" stroke-width="1.75" stroke-linejoin="round"><path d="M68.5 442.4 L72.8 439.7 L81.4 443.7 M72.8 431.3 L72.8 439.7" opacity="0.5" stroke-width="1.40"/><polygon points="68.5,434.0 72.8,431.3 81.4,435.3 77.0,438.1"/><path d="M68.5 442.4 L77.0 446.6 L81.4 443.7"/><path d="M68.5 434.0 L68.5 442.4"/><path d="M81.4 435.3 L81.4 443.7"/><path d="M77.0 438.1 L77.0 446.6"/></g><g fill="none" stroke="#3f93e6" stroke-width="1.75" stroke-linejoin="round"><path d="M73.7 458.9 L78.3 456.2 L86.0 460.2 M78.3 447.7 L78.3 456.2" opacity="0.5" stroke-width="1.40"/><polygon points="73.7,450.4 78.3,447.7 86.0,451.7 81.7,454.5"/><path d="M73.7 458.9 L81.7 463.0 L86.0 460.2"/><path d="M73.7 450.4 L73.7 458.9"/><path d="M86.0 451.7 L86.0 460.2"/><path d="M81.7 454.5 L81.7 463.0"/></g><g fill="none" stroke="#3f93e6" stroke-width="1.75" stroke-linejoin="round"><path d="M68.5 466.7 L72.8 464.0 L81.4 468.0 M72.8 455.5 L72.8 464.0" opacity="0.5" stroke-width="1.40"/><polygon points="68.5,458.2 72.8,455.5 81.4,459.5 77.0,462.4"/><path d="M68.5 466.7 L77.0 470.8 L81.4 468.0"/><path d="M68.5 458.2 L68.5 466.7"/><path d="M81.4 459.5 L81.4 468.0"/><path d="M77.0 462.4 L77.0 470.8"/></g><g fill="none" stroke="#3f93e6" stroke-width="1.75" stroke-linejoin="round"><path d="M73.7 483.2 L78.3 480.5 L86.0 484.5 M78.3 472.0 L78.3 480.5" opacity="0.5" stroke-width="1.40"/><polygon points="73.7,474.7 78.3,472.0 86.0,476.0 81.7,478.8"/><path d="M73.7 483.2 L81.7 487.3 L86.0 484.5"/><path d="M73.7 474.7 L73.7 483.2"/><path d="M86.0 476.0 L86.0 484.5"/><path d="M81.7 478.8 L81.7 487.3"/></g><g fill="none" stroke="#3f93e6" stroke-width="1.75" stroke-linejoin="round"><path d="M68.5 491.0 L72.8 488.3 L81.4 492.3 M72.8 479.8 L72.8 488.3" opacity="0.5" stroke-width="1.40"/><polygon points="68.5,482.5 72.8,479.8 81.4,483.8 77.0,486.6"/><path d="M68.5 491.0 L77.0 495.1 L81.4 492.3"/><path d="M68.5 482.5 L68.5 491.0"/><path d="M81.4 483.8 L81.4 492.3"/><path d="M77.0 486.6 L77.0 495.1"/></g><g fill="none" stroke="#3f93e6" stroke-width="1.75" stroke-linejoin="round"><path d="M73.7 507.4 L78.3 504.8 L86.0 508.7 M78.3 496.3 L78.3 504.8" opacity="0.5" stroke-width="1.40"/><polygon points="73.7,498.9 78.3,496.3 86.0,500.3 81.7,503.1"/><path d="M73.7 507.4 L81.7 511.6 L86.0 508.7"/><path d="M73.7 498.9 L73.7 507.4"/><path d="M86.0 500.3 L86.0 508.7"/><path d="M81.7 503.1 L81.7 511.6"/></g><g fill="none" stroke="#3f93e6" stroke-width="1.75" stroke-linejoin="round"><path d="M68.5 515.3 L72.8 512.6 L81.4 516.6 M72.8 504.1 L72.8 512.6" opacity="0.5" stroke-width="1.40"/><polygon points="68.5,506.8 72.8,504.1 81.4,508.1 77.0,510.9"/><path d="M68.5 515.3 L77.0 519.4 L81.4 516.6"/><path d="M68.5 506.8 L68.5 515.3"/><path d="M81.4 508.1 L81.4 516.6"/><path d="M77.0 510.9 L77.0 519.4"/></g><g fill="none" stroke="#3f93e6" stroke-width="1.75" stroke-linejoin="round"><path d="M73.7 531.7 L78.3 529.0 L86.0 533.0 M78.3 520.6 L78.3 529.0" opacity="0.5" stroke-width="1.40"/><polygon points="73.7,523.2 78.3,520.6 86.0,524.5 81.7,527.4"/><path d="M73.7 531.7 L81.7 535.8 L86.0 533.0"/><path d="M73.7 523.2 L73.7 531.7"/><path d="M86.0 524.5 L86.0 533.0"/><path d="M81.7 527.4 L81.7 535.8"/></g><g fill="none" stroke="#3f93e6" stroke-width="1.75" stroke-linejoin="round"><path d="M68.5 539.5 L72.8 536.8 L81.4 540.8 M72.8 528.4 L72.8 536.8" opacity="0.5" stroke-width="1.40"/><polygon points="68.5,531.1 72.8,528.4 81.4,532.4 77.0,535.2"/><path d="M68.5 539.5 L77.0 543.7 L81.4 540.8"/><path d="M68.5 531.1 L68.5 539.5"/><path d="M81.4 532.4 L81.4 540.8"/><path d="M77.0 535.2 L77.0 543.7"/></g><polygon points="41.0,554.3 55.5,547.0 64.4,551.0 50.4,558.1" fill="#3a92f6"/><polygon points="41.0,554.3 50.4,558.1 50.4,566.3 41.0,562.6" fill="#0e6ee6"/><polygon points="50.4,558.1 64.4,551.0 64.4,559.2 50.4,566.3" fill="#0a50b4"/><g fill="none" stroke="#3f93e6" stroke-width="1.75" stroke-linejoin="round"><path d="M73.7 580.3 L78.3 577.6 L86.0 581.6 M78.3 569.1 L78.3 577.6" opacity="0.5" stroke-width="1.40"/><polygon points="73.7,571.8 78.3,569.1 86.0,573.1 81.7,575.9"/><path d="M73.7 580.3 L81.7 584.4 L86.0 581.6"/><path d="M73.7 571.8 L73.7 580.3"/><path d="M86.0 573.1 L86.0 581.6"/><path d="M81.7 575.9 L81.7 584.4"/></g><g fill="none" stroke="#3f93e6" stroke-width="1.75" stroke-linejoin="round"><path d="M68.5 588.1 L72.8 585.4 L81.4 589.4 M72.8 576.9 L72.8 585.4" opacity="0.5" stroke-width="1.40"/><polygon points="68.5,579.6 72.8,576.9 81.4,580.9 77.0,583.7"/><path d="M68.5 588.1 L77.0 592.2 L81.4 589.4"/><path d="M68.5 579.6 L68.5 588.1"/><path d="M81.4 580.9 L81.4 589.4"/><path d="M77.0 583.7 L77.0 592.2"/></g><g fill="none" stroke="#3f93e6" stroke-width="1.75" stroke-linejoin="round"><path d="M73.7 604.5 L78.3 601.9 L86.0 605.8 M78.3 593.4 L78.3 601.9" opacity="0.5" stroke-width="1.40"/><polygon points="73.7,596.0 78.3,593.4 86.0,597.4 81.7,600.2"/><path d="M73.7 604.5 L81.7 608.7 L86.0 605.8"/><path d="M73.7 596.0 L73.7 604.5"/><path d="M86.0 597.4 L86.0 605.8"/><path d="M81.7 600.2 L81.7 608.7"/></g><g fill="none" stroke="#3f93e6" stroke-width="1.75" stroke-linejoin="round"><path d="M68.5 612.4 L72.8 609.7 L81.4 613.7 M72.8 601.2 L72.8 609.7" opacity="0.5" stroke-width="1.40"/><polygon points="68.5,603.9 72.8,601.2 81.4,605.2 77.0,608.0"/><path d="M68.5 612.4 L77.0 616.5 L81.4 613.7"/><path d="M68.5 603.9 L68.5 612.4"/><path d="M81.4 605.2 L81.4 613.7"/><path d="M77.0 608.0 L77.0 616.5"/></g><g fill="none" stroke="#3f93e6" stroke-width="1.75" stroke-linejoin="round"><path d="M73.7 628.8 L78.3 626.1 L86.0 630.1 M78.3 617.7 L78.3 626.1" opacity="0.5" stroke-width="1.40"/><polygon points="73.7,620.3 78.3,617.7 86.0,621.6 81.7,624.5"/><path d="M73.7 628.8 L81.7 632.9 L86.0 630.1"/><path d="M73.7 620.3 L73.7 628.8"/><path d="M86.0 621.6 L86.0 630.1"/><path d="M81.7 624.5 L81.7 632.9"/></g><g fill="none" stroke="#3f93e6" stroke-width="1.75" stroke-linejoin="round"><path d="M68.5 636.6 L72.8 633.9 L81.4 637.9 M72.8 625.5 L72.8 633.9" opacity="0.5" stroke-width="1.40"/><polygon points="68.5,628.2 72.8,625.5 81.4,629.5 77.0,632.3"/><path d="M68.5 636.6 L77.0 640.8 L81.4 637.9"/><path d="M68.5 628.2 L68.5 636.6"/><path d="M81.4 629.5 L81.4 637.9"/><path d="M77.0 632.3 L77.0 640.8"/></g><g fill="none" stroke="#3f93e6" stroke-width="1.75" stroke-linejoin="round"><path d="M73.7 653.1 L78.3 650.4 L86.0 654.4 M78.3 641.9 L78.3 650.4" opacity="0.5" stroke-width="1.40"/><polygon points="73.7,644.6 78.3,641.9 86.0,645.9 81.7,648.7"/><path d="M73.7 653.1 L81.7 657.2 L86.0 654.4"/><path d="M73.7 644.6 L73.7 653.1"/><path d="M86.0 645.9 L86.0 654.4"/><path d="M81.7 648.7 L81.7 657.2"/></g><g fill="none" stroke="#3f93e6" stroke-width="1.75" stroke-linejoin="round"><path d="M68.5 660.9 L72.8 658.2 L81.4 662.2 M72.8 649.7 L72.8 658.2" opacity="0.5" stroke-width="1.40"/><polygon points="68.5,652.4 72.8,649.7 81.4,653.7 77.0,656.6"/><path d="M68.5 660.9 L77.0 665.0 L81.4 662.2"/><path d="M68.5 652.4 L68.5 660.9"/><path d="M81.4 653.7 L81.4 662.2"/><path d="M77.0 656.6 L77.0 665.0"/></g><g fill="none" stroke="#3f93e6" stroke-width="1.75" stroke-linejoin="round"><path d="M73.7 677.4 L78.3 674.7 L86.0 678.7 M78.3 666.2 L78.3 674.7" opacity="0.5" stroke-width="1.40"/><polygon points="73.7,668.9 78.3,666.2 86.0,670.2 81.7,673.0"/><path d="M73.7 677.4 L81.7 681.5 L86.0 678.7"/><path d="M73.7 668.9 L73.7 677.4"/><path d="M86.0 670.2 L86.0 678.7"/><path d="M81.7 673.0 L81.7 681.5"/></g><g fill="none" stroke="#3f93e6" stroke-width="1.75" stroke-linejoin="round"><path d="M68.5 685.2 L72.8 682.5 L81.4 686.5 M72.8 674.0 L72.8 682.5" opacity="0.5" stroke-width="1.40"/><polygon points="68.5,676.7 72.8,674.0 81.4,678.0 77.0,680.8"/><path d="M68.5 685.2 L77.0 689.3 L81.4 686.5"/><path d="M68.5 676.7 L68.5 685.2"/><path d="M81.4 678.0 L81.4 686.5"/><path d="M77.0 680.8 L77.0 689.3"/></g><polygon points="41.0,700.0 55.5,692.7 64.4,696.6 50.4,703.7" fill="#3a92f6"/><polygon points="41.0,700.0 50.4,703.7 50.4,712.0 41.0,708.2" fill="#0e6ee6"/><polygon points="50.4,703.7 64.4,696.6 64.4,704.9 50.4,712.0" fill="#0a50b4"/><g fill="none" stroke="#3f93e6" stroke-width="1.75" stroke-linejoin="round"><path d="M73.7 725.9 L78.3 723.2 L86.0 727.2 M78.3 714.8 L78.3 723.2" opacity="0.5" stroke-width="1.40"/><polygon points="73.7,717.4 78.3,714.8 86.0,718.7 81.7,721.6"/><path d="M73.7 725.9 L81.7 730.0 L86.0 727.2"/><path d="M73.7 717.4 L73.7 725.9"/><path d="M86.0 718.7 L86.0 727.2"/><path d="M81.7 721.6 L81.7 730.0"/></g><g fill="none" stroke="#3f93e6" stroke-width="1.75" stroke-linejoin="round"><path d="M68.5 733.7 L72.8 731.0 L81.4 735.0 M72.8 722.6 L72.8 731.0" opacity="0.5" stroke-width="1.40"/><polygon points="68.5,725.3 72.8,722.6 81.4,726.6 77.0,729.4"/><path d="M68.5 733.7 L77.0 737.9 L81.4 735.0"/><path d="M68.5 725.3 L68.5 733.7"/><path d="M81.4 726.6 L81.4 735.0"/><path d="M77.0 729.4 L77.0 737.9"/></g><g fill="none" stroke="#3f93e6" stroke-width="1.75" stroke-linejoin="round"><path d="M73.7 750.2 L78.3 747.5 L86.0 751.5 M78.3 739.0 L78.3 747.5" opacity="0.5" stroke-width="1.40"/><polygon points="73.7,741.7 78.3,739.0 86.0,743.0 81.7,745.8"/><path d="M73.7 750.2 L81.7 754.3 L86.0 751.5"/><path d="M73.7 741.7 L73.7 750.2"/><path d="M86.0 743.0 L86.0 751.5"/><path d="M81.7 745.8 L81.7 754.3"/></g><g fill="none" stroke="#3f93e6" stroke-width="1.75" stroke-linejoin="round"><path d="M68.5 758.0 L72.8 755.3 L81.4 759.3 M72.8 746.8 L72.8 755.3" opacity="0.5" stroke-width="1.40"/><polygon points="68.5,749.5 72.8,746.8 81.4,750.8 77.0,753.7"/><path d="M68.5 758.0 L77.0 762.1 L81.4 759.3"/><path d="M68.5 749.5 L68.5 758.0"/><path d="M81.4 750.8 L81.4 759.3"/><path d="M77.0 753.7 L77.0 762.1"/></g><g fill="none" stroke="#3f93e6" stroke-width="1.75" stroke-linejoin="round"><path d="M73.7 774.5 L78.3 771.8 L86.0 775.8 M78.3 763.3 L78.3 771.8" opacity="0.5" stroke-width="1.40"/><polygon points="73.7,766.0 78.3,763.3 86.0,767.3 81.7,770.1"/><path d="M73.7 774.5 L81.7 778.6 L86.0 775.8"/><path d="M73.7 766.0 L73.7 774.5"/><path d="M86.0 767.3 L86.0 775.8"/><path d="M81.7 770.1 L81.7 778.6"/></g><g fill="none" stroke="#3f93e6" stroke-width="1.75" stroke-linejoin="round"><path d="M68.5 782.3 L72.8 779.6 L81.4 783.6 M72.8 771.1 L72.8 779.6" opacity="0.5" stroke-width="1.40"/><polygon points="68.5,773.8 72.8,771.1 81.4,775.1 77.0,777.9"/><path d="M68.5 782.3 L77.0 786.4 L81.4 783.6"/><path d="M68.5 773.8 L68.5 782.3"/><path d="M81.4 775.1 L81.4 783.6"/><path d="M77.0 777.9 L77.0 786.4"/></g><g fill="none" stroke="#3f93e6" stroke-width="1.75" stroke-linejoin="round"><path d="M73.7 798.7 L78.3 796.1 L86.0 800.0 M78.3 787.6 L78.3 796.1" opacity="0.5" stroke-width="1.40"/><polygon points="73.7,790.2 78.3,787.6 86.0,791.6 81.7,794.4"/><path d="M73.7 798.7 L81.7 802.9 L86.0 800.0"/><path d="M73.7 790.2 L73.7 798.7"/><path d="M86.0 791.6 L86.0 800.0"/><path d="M81.7 794.4 L81.7 802.9"/></g><g fill="none" stroke="#3f93e6" stroke-width="1.75" stroke-linejoin="round"><path d="M68.5 806.6 L72.8 803.9 L81.4 807.9 M72.8 795.4 L72.8 803.9" opacity="0.5" stroke-width="1.40"/><polygon points="68.5,798.1 72.8,795.4 81.4,799.4 77.0,802.2"/><path d="M68.5 806.6 L77.0 810.7 L81.4 807.9"/><path d="M68.5 798.1 L68.5 806.6"/><path d="M81.4 799.4 L81.4 807.9"/><path d="M77.0 802.2 L77.0 810.7"/></g><g fill="none" stroke="#3f93e6" stroke-width="1.75" stroke-linejoin="round"><path d="M73.7 823.0 L78.3 820.3 L86.0 824.3 M78.3 811.9 L78.3 820.3" opacity="0.5" stroke-width="1.40"/><polygon points="73.7,814.5 78.3,811.9 86.0,815.8 81.7,818.7"/><path d="M73.7 823.0 L81.7 827.1 L86.0 824.3"/><path d="M73.7 814.5 L73.7 823.0"/><path d="M86.0 815.8 L86.0 824.3"/><path d="M81.7 818.7 L81.7 827.1"/></g><g fill="none" stroke="#3f93e6" stroke-width="1.75" stroke-linejoin="round"><path d="M68.5 830.8 L72.8 828.1 L81.4 832.1 M72.8 819.7 L72.8 828.1" opacity="0.5" stroke-width="1.40"/><polygon points="68.5,822.4 72.8,819.7 81.4,823.7 77.0,826.5"/><path d="M68.5 830.8 L77.0 835.0 L81.4 832.1"/><path d="M68.5 822.4 L68.5 830.8"/><path d="M81.4 823.7 L81.4 832.1"/><path d="M77.0 826.5 L77.0 835.0"/></g><polygon points="41.0,845.6 55.5,838.3 64.4,842.3 50.4,849.4" fill="#3a92f6"/><polygon points="41.0,845.6 50.4,849.4 50.4,857.6 41.0,853.9" fill="#0e6ee6"/><polygon points="50.4,849.4 64.4,842.3 64.4,850.5 50.4,857.6" fill="#0a50b4"/><g fill="none" stroke="#3f93e6" stroke-width="1.75" stroke-linejoin="round"><path d="M73.7 871.6 L78.3 868.9 L86.0 872.9 M78.3 860.4 L78.3 868.9" opacity="0.5" stroke-width="1.40"/><polygon points="73.7,863.1 78.3,860.4 86.0,864.4 81.7,867.2"/><path d="M73.7 871.6 L81.7 875.7 L86.0 872.9"/><path d="M73.7 863.1 L73.7 871.6"/><path d="M86.0 864.4 L86.0 872.9"/><path d="M81.7 867.2 L81.7 875.7"/></g><g fill="none" stroke="#3f93e6" stroke-width="1.75" stroke-linejoin="round"><path d="M68.5 879.4 L72.8 876.7 L81.4 880.7 M72.8 868.2 L72.8 876.7" opacity="0.5" stroke-width="1.40"/><polygon points="68.5,870.9 72.8,868.2 81.4,872.2 77.0,875.0"/><path d="M68.5 879.4 L77.0 883.5 L81.4 880.7"/><path d="M68.5 870.9 L68.5 879.4"/><path d="M81.4 872.2 L81.4 880.7"/><path d="M77.0 875.0 L77.0 883.5"/></g><g fill="none" stroke="#3f93e6" stroke-width="1.75" stroke-linejoin="round"><path d="M73.7 895.8 L78.3 893.2 L86.0 897.1 M78.3 884.7 L78.3 893.2" opacity="0.5" stroke-width="1.40"/><polygon points="73.7,887.3 78.3,884.7 86.0,888.7 81.7,891.5"/><path d="M73.7 895.8 L81.7 900.0 L86.0 897.1"/><path d="M73.7 887.3 L73.7 895.8"/><path d="M86.0 888.7 L86.0 897.1"/><path d="M81.7 891.5 L81.7 900.0"/></g><g fill="none" stroke="#3f93e6" stroke-width="1.75" stroke-linejoin="round"><path d="M68.5 903.7 L72.8 901.0 L81.4 905.0 M72.8 892.5 L72.8 901.0" opacity="0.5" stroke-width="1.40"/><polygon points="68.5,895.2 72.8,892.5 81.4,896.5 77.0,899.3"/><path d="M68.5 903.7 L77.0 907.8 L81.4 905.0"/><path d="M68.5 895.2 L68.5 903.7"/><path d="M81.4 896.5 L81.4 905.0"/><path d="M77.0 899.3 L77.0 907.8"/></g><g fill="none" stroke="#3f93e6" stroke-width="1.75" stroke-linejoin="round"><path d="M73.7 920.1 L78.3 917.4 L86.0 921.4 M78.3 909.0 L78.3 917.4" opacity="0.5" stroke-width="1.40"/><polygon points="73.7,911.6 78.3,909.0 86.0,912.9 81.7,915.8"/><path d="M73.7 920.1 L81.7 924.2 L86.0 921.4"/><path d="M73.7 911.6 L73.7 920.1"/><path d="M86.0 912.9 L86.0 921.4"/><path d="M81.7 915.8 L81.7 924.2"/></g><g fill="none" stroke="#3f93e6" stroke-width="1.75" stroke-linejoin="round"><path d="M68.5 927.9 L72.8 925.2 L81.4 929.2 M72.8 916.8 L72.8 925.2" opacity="0.5" stroke-width="1.40"/><polygon points="68.5,919.5 72.8,916.8 81.4,920.8 77.0,923.6"/><path d="M68.5 927.9 L77.0 932.1 L81.4 929.2"/><path d="M68.5 919.5 L68.5 927.9"/><path d="M81.4 920.8 L81.4 929.2"/><path d="M77.0 923.6 L77.0 932.1"/></g><g fill="none" stroke="#3f93e6" stroke-width="1.75" stroke-linejoin="round"><path d="M73.7 944.4 L78.3 941.7 L86.0 945.7 M78.3 933.2 L78.3 941.7" opacity="0.5" stroke-width="1.40"/><polygon points="73.7,935.9 78.3,933.2 86.0,937.2 81.7,940.0"/><path d="M73.7 944.4 L81.7 948.5 L86.0 945.7"/><path d="M73.7 935.9 L73.7 944.4"/><path d="M86.0 937.2 L86.0 945.7"/><path d="M81.7 940.0 L81.7 948.5"/></g><g fill="none" stroke="#3f93e6" stroke-width="1.75" stroke-linejoin="round"><path d="M68.5 952.2 L72.8 949.5 L81.4 953.5 M72.8 941.0 L72.8 949.5" opacity="0.5" stroke-width="1.40"/><polygon points="68.5,943.7 72.8,941.0 81.4,945.0 77.0,947.9"/><path d="M68.5 952.2 L77.0 956.3 L81.4 953.5"/><path d="M68.5 943.7 L68.5 952.2"/><path d="M81.4 945.0 L81.4 953.5"/><path d="M77.0 947.9 L77.0 956.3"/></g><g fill="none" stroke="#d84a4a" stroke-width="1.75" stroke-linejoin="round"><path d="M73.7 968.7 L78.3 966.0 L86.0 970.0 M78.3 957.5 L78.3 966.0" opacity="0.5" stroke-width="1.40"/><polygon points="73.7,960.2 78.3,957.5 86.0,961.5 81.7,964.3"/><path d="M73.7 968.7 L81.7 972.8 L86.0 970.0"/><path d="M73.7 960.2 L73.7 968.7"/><path d="M86.0 961.5 L86.0 970.0"/><path d="M81.7 964.3 L81.7 972.8"/></g><g fill="none" stroke="#d84a4a" stroke-width="1.75" stroke-linejoin="round"><path d="M68.5 976.5 L72.8 973.8 L81.4 977.8 M72.8 965.3 L72.8 973.8" opacity="0.5" stroke-width="1.40"/><polygon points="68.5,968.0 72.8,965.3 81.4,969.3 77.0,972.1"/><path d="M68.5 976.5 L77.0 980.6 L81.4 977.8"/><path d="M68.5 968.0 L68.5 976.5"/><path d="M81.4 969.3 L81.4 977.8"/><path d="M77.0 972.1 L77.0 980.6"/></g><polygon points="41.0,991.3 55.5,984.0 64.4,987.9 50.4,995.0" fill="#3a92f6"/><polygon points="41.0,991.3 50.4,995.0 50.4,1003.3 41.0,999.5" fill="#0e6ee6"/><polygon points="50.4,995.0 64.4,987.9 64.4,996.2 50.4,1003.3" fill="#0a50b4"/><polygon points="77.5,1007.0 88.7,1012.2 77.5,1017.4 66.3,1012.2" fill="#6fe26f"/><polygon points="66.3,1012.2 77.5,1017.4 77.5,1029.5 66.3,1024.3" fill="#3fcc3f"/><polygon points="77.5,1017.4 88.7,1012.2 88.7,1024.3 77.5,1029.5" fill="#2aa62a"/></svg>
<span class="t tr" style="left:42.47px;top:232.47px;font-size:19.00px;line-height:19.00px;transform:scaleX(0.8441);">Serie</span>
<span class="t tr" style="left:68.57px;top:256.14px;font-size:19.00px;line-height:19.00px;transform:scaleX(0.8388);">Unterserie 1</span>
<span class="t tr" style="left:94.82px;top:280.42px;font-size:19.00px;line-height:19.00px;transform:scaleX(0.8666);">4138073</span>
<span class="t tr" style="left:94.82px;top:304.69px;font-size:19.00px;line-height:19.00px;transform:scaleX(0.8677);">4138081</span>
<span class="t tr" style="left:94.82px;top:328.97px;font-size:19.00px;line-height:19.00px;transform:scaleX(0.8666);">4191086</span>
<span class="t tr" style="left:94.82px;top:353.24px;font-size:19.00px;line-height:19.00px;transform:scaleX(0.8680);">4821787</span>
<span class="t tr" style="left:94.82px;top:377.52px;font-size:19.00px;line-height:19.00px;transform:scaleX(0.8665);">4821858</span>
<span class="t tr" style="left:68.57px;top:401.79px;font-size:19.00px;line-height:19.00px;transform:scaleX(0.8390);">Unterserie 2</span>
<span class="t tr" style="left:94.54px;top:426.07px;font-size:19.00px;line-height:19.00px;transform:scaleX(0.8700);">5700265</span>
<span class="t tr" style="left:94.54px;top:450.34px;font-size:19.00px;line-height:19.00px;transform:scaleX(0.8705);">5700266</span>
<span class="t tr" style="left:94.54px;top:474.62px;font-size:19.00px;line-height:19.00px;transform:scaleX(0.8700);">5700275</span>
<span class="t tr" style="left:94.36px;top:498.89px;font-size:19.00px;line-height:19.00px;transform:scaleX(0.8737);">6519509</span>
<span class="t tr" style="left:94.36px;top:523.17px;font-size:19.00px;line-height:19.00px;transform:scaleX(0.8737);">6519519</span>
<span class="t tr" style="left:68.57px;top:547.44px;font-size:19.00px;line-height:19.00px;transform:scaleX(0.8380);">Unterserie 3</span>
<span class="t tr" style="left:94.36px;top:571.72px;font-size:19.00px;line-height:19.00px;transform:scaleX(0.8753);color:#fff;">62855320</span>
<span class="t tr" style="left:94.35px;top:595.99px;font-size:19.00px;line-height:19.00px;transform:scaleX(0.8770);">62855319</span>
<span class="t tr" style="left:94.35px;top:620.27px;font-size:19.00px;line-height:19.00px;transform:scaleX(0.8770);">62853819</span>
<span class="t tr" style="left:94.53px;top:644.54px;font-size:19.00px;line-height:19.00px;transform:scaleX(0.8754);">50720712</span>
<span class="t tr" style="left:94.53px;top:668.82px;font-size:19.00px;line-height:19.00px;transform:scaleX(0.8751);">50720711</span>
<span class="t tr" style="left:68.57px;top:693.09px;font-size:19.00px;line-height:19.00px;transform:scaleX(0.8357);">Unterserie 4</span>
<span class="t tr" style="left:94.54px;top:717.37px;font-size:19.00px;line-height:19.00px;transform:scaleX(0.8716);">5001711</span>
<span class="t tr" style="left:94.54px;top:741.64px;font-size:19.00px;line-height:19.00px;transform:scaleX(0.8704);">5352678</span>
<span class="t tr" style="left:94.36px;top:765.92px;font-size:19.00px;line-height:19.00px;transform:scaleX(0.8753);">62852710</span>
<span class="t tr" style="left:94.35px;top:790.19px;font-size:19.00px;line-height:19.00px;transform:scaleX(0.8763);">62852713</span>
<span class="t tr" style="left:94.35px;top:814.47px;font-size:19.00px;line-height:19.00px;transform:scaleX(0.8763);">62855113</span>
<span class="t tr" style="left:68.57px;top:838.74px;font-size:19.00px;line-height:19.00px;transform:scaleX(0.8377);">Unterserie 5</span>
<span class="t tr" style="left:94.54px;top:863.02px;font-size:19.00px;line-height:19.00px;transform:scaleX(0.8732);">50016830</span>
<span class="t tr" style="left:94.82px;top:887.29px;font-size:19.00px;line-height:19.00px;transform:scaleX(0.8720);">41910822</span>
<span class="t tr" style="left:94.36px;top:911.57px;font-size:19.00px;line-height:19.00px;transform:scaleX(0.8725);">6429225</span>
<span class="t tr" style="left:94.36px;top:935.84px;font-size:19.00px;line-height:19.00px;transform:scaleX(0.8737);">6150259</span>
<span class="t tr" style="left:94.36px;top:960.12px;font-size:19.00px;line-height:19.00px;transform:scaleX(0.8730);">6087306</span>
<span class="t tr" style="left:68.57px;top:984.39px;font-size:19.00px;line-height:19.00px;transform:scaleX(0.8380);">Unterserie 6</span>
<span class="t tr" style="left:93.70px;top:1008.67px;font-size:19.00px;line-height:19.00px;transform:scaleX(0.8335);">Probe 6.1</span>
<div class="b" style="left:248.80px;top:230.00px;width:9.00px;height:1189.00px;background:linear-gradient(to right,#e6e3dc 0%,#dedbd3 35%,#cfcbc1 65%,#b3ada2 90%,#a8a297 100%);"></div>
<div class="b simpanel" style="left:258.00px;top:230.00px;width:1868.00px;height:89.00px;background:#d4d0c8;"></div>
<svg style="left:258.00px;top:232.00px" width="90.00" height="86.00" viewBox="258.00 232.00 90.00 86.00" ><defs><radialGradient id="simg" cx="42%" cy="35%" r="70%"><stop offset="0" stop-color="#ffffff"/><stop offset="0.55" stop-color="#e6e6e6"/><stop offset="1" stop-color="#bdbdbd"/></radialGradient></defs><circle cx="301.4" cy="275.0" r="35.2" fill="#e3e1dc" stroke="#a2a2a2" stroke-width="1.3"/><circle cx="301.4" cy="275.0" r="31.8" fill="url(#simg)" stroke="#9c9c9c" stroke-width="1.3"/><path d="M325.6 262 Q331.5 285 313.5 297.5" stroke="#959595" stroke-width="3.6" fill="none"/><polygon points="303,300.5 316,292.5 314,305.5" fill="#8a8a8a"/><polygon points="302.8,277.4 324,258.8 300.6,273.6" fill="#000"/><path d="M267.8 241.9 L336.7 307.5 M333.5 239.2 L270 309.7" stroke="#ff0000" stroke-width="4.9" stroke-linecap="round" fill="none"/></svg>
<span class="t" style="left:347.22px;top:234.49px;font-size:39.00px;line-height:39.00px;transform:scaleX(1.0049);">Simulationsmodus</span>
<div class="b" style="left:258.00px;top:318.70px;width:1868.00px;height:9.70px;background:linear-gradient(to bottom,#c9c5bc 0%,#e4e1da 35%,#dedbd4 60%,#b9b4a9 100%);"></div>
<div class="b chart-panel" style="left:258.00px;top:328.40px;width:1097.00px;height:1090.60px;background:#fff;"></div>
<svg style="left:258px;top:328px" width="70" height="70" viewBox="258 328 70 70"><g fill="none" stroke="#2c8ae4" stroke-width="2.30" stroke-linejoin="round"><path d="M284.9 362.5 L295.5 356.4 L313.4 365.5 M295.5 336.9 L295.5 356.4" opacity="0.5" stroke-width="1.84"/><polygon points="284.9,343.0 295.5,336.9 313.4,346.0 303.5,352.5"/><path d="M284.9 362.5 L303.5 372.0 L313.4 365.5"/><path d="M284.9 343.0 L284.9 362.5"/><path d="M313.4 346.0 L313.4 365.5"/><path d="M303.5 352.5 L303.5 372.0"/></g><g fill="none" stroke="#2c8ae4" stroke-width="2.30" stroke-linejoin="round"><path d="M273.0 380.5 L283.0 374.3 L302.8 383.5 M283.0 354.8 L283.0 374.3" opacity="0.5" stroke-width="1.84"/><polygon points="273.0,361.0 283.0,354.8 302.8,364.0 292.5,370.5"/><path d="M273.0 380.5 L292.5 390.0 L302.8 383.5"/><path d="M273.0 361.0 L273.0 380.5"/><path d="M302.8 364.0 L302.8 383.5"/><path d="M292.5 370.5 L292.5 390.0"/></g></svg>
<svg class="chart-main" style="left:258px;top:328px" width="1097" height="1091" viewBox="258 328 1097 1091"><g stroke="#000" stroke-width="1.7" fill="none"><path d="M394.3 382 V1326 M387 1316.5 H1302"/><g stroke-dasharray="5 4.96"><path d="M404.5 1274.0 H1301.5"/><path d="M404.5 1058.7 H1301.5"/><path d="M404.5 844.6 H1301.5"/><path d="M404.5 631.0 H1301.5"/><path d="M404.5 415.8 H1301.5"/><path d="M635.7 384 V1306"/><path d="M876.0 384 V1306"/><path d="M1117.3 384 V1306"/></g><path d="M383.8 1274.0 H405M387.5 1230.9 H400.8M387.5 1187.9 H400.8M387.5 1144.8 H400.8M387.5 1101.8 H400.8M383.8 1058.7 H405M387.5 1015.9 H400.8M387.5 973.1 H400.8M387.5 930.2 H400.8M387.5 887.4 H400.8M383.8 844.6 H405M387.5 801.9 H400.8M387.5 759.2 H400.8M387.5 716.4 H400.8M387.5 673.7 H400.8M383.8 631.0 H405M387.5 588.0 H400.8M387.5 544.9 H400.8M387.5 501.9 H400.8M387.5 458.8 H400.8M383.8 415.8 H405M442.5 1309.5 V1322M490.7 1309.5 V1322M538.9 1309.5 V1322M587.1 1309.5 V1322M635.3 1305.5 V1326M683.5 1309.5 V1322M731.7 1309.5 V1322M779.9 1309.5 V1322M828.1 1309.5 V1322M876.3 1305.5 V1326M924.5 1309.5 V1322M972.7 1309.5 V1322M1020.9 1309.5 V1322M1069.1 1309.5 V1322M1117.3 1305.5 V1326M1165.5 1309.5 V1322M1213.7 1309.5 V1322M1261.9 1309.5 V1322"/></g><g stroke="#00135f" fill="none" stroke-linejoin="miter" stroke-miterlimit="1.6" stroke-linecap="square"><path transform="scale(1 1.11)" d="M393.7 1088.42l0-2.98 0-2.99 0-4.48 0-1.49 0,1.49 0-2.99 0-1.49 0-2.98 0-1.5 0,2.99 0-5.97 0-1.5 1.6-1.49 0-1.49 0-1.5 0,2.99 0,1.49 0,1.5 0,2.98 0,2.99 0-1.49 0,2.98 0,1.49 0,1.5 0,5.97 0-2.99 0,2.99 0-1.49 0,2.98 0,1.5 0,2.98 0,4.48 1.7-1.49 0,4.48 0-1.5 0,2.99 0,1.49 0,1.5 0,2.98 0,2.99 0,1.49 0,2.99 0,1.49 0,2.99 0-1.5 0,2.99 0,1.49 0,1.5 0,1.49 0,1.49 0,1.49 0,2.99 0,2.99 0,1.49 1.6,1.49 0,1.5 0,1.49 1.7,2.98 0-1.49 0,1.49 1.7,4.48 0-2.98 0-1.5 0-4.47 0,2.98 0-1.49 0-2.99 0-1.49 0-1.49 0-2.99 0-1.49 0-1.5 0-1.49 0-4.48 0-2.98 0-2.99 0-1.49 0-4.48 0-1.5 0-1.49 0-4.48 0,2.99 0-2.99 0-2.98 0-1.5 0,1.5 0-4.48 0-1.5 0-2.98 0,1.49 0-4.48 0-1.49 0-2.99 0-1.49 0-4.48 0-1.49 0-2.99 0-1.49 0-2.99 0-1.49 0-2.99 0-1.49 0-2.99 0,2.99 0-1.49 0-4.48 0-1.49 0-1.5 0-1.49 0,1.49 0-4.48 0-1.49 0-4.48 0,4.48 0-2.99 1.6-4.47 0,1.49 0-2.99 0,4.48 0-4.48 0-1.49 0-2.99 0-2.98 0-2.99 0,1.49 0-4.47 1.7,0 0,1.49 0-1.49 0-4.48 0-1.5 0,4.48 0,1.5 0,1.49 0,2.98 0,2.99 1.6,1.49 0,2.99 0-1.49 0,1.49 0,1.49 0,1.5 0,4.47 0,1.5 0,1.49 0-2.99 0-1.49 1.7-1.49 0-1.49 0-1.5 0-2.98 0-1.5 0,1.5 0-1.5 0-1.49 0-2.99 0-1.49 0-2.98 0-2.99 0,1.49 0-2.98 1.7,1.49 0-2.99 0-1.49 0-4.48 0,1.49 0-2.98 0-1.5 0-1.49 0-1.49 0-4.48 0-4.48 0,1.49 0-2.98 0-1.5 0-4.47 0-1.5 0,1.5 0-2.99 0-2.99 0-1.49 0-1.49 0-1.5 0-1.49 0-2.99 0,1.5 0-2.99 0-2.98 0-1.5 0-1.49 0-2.99 1.6-1.49 0-1.49 0-1.5 1.7-1.49 0-1.49 0,1.49 1.6-5.97 0,1.49 0-1.49 0-1.49 0-2.99 0-1.49 0-1.5 0-1.49 1.7-2.98 0-2.99 0-1.49 0-1.5 0,1.5 0-2.99 0-1.49 0-2.99 0-1.49 0-4.48 0-1.49 0-4.48 0,1.49 0-2.99 0-1.49 0-1.49 0-1.5 0-2.98 0-1.49 0,1.49 1.7-1.49 0-4.48 0-2.99 1.6,0 0-1.49 0,2.98 1.7-2.98 0-2.99 0-1.49 0-4.48 0-1.49 0-1.5 0-1.49 0-1.49 0-1.5 0-1.49 1.7,1.49 0-2.98 0-1.5 0-2.98 0-4.48 0,1.49 0-2.98 0-2.99 0-2.99 0-4.47 0-1.5 1.6,2.99 0-2.99 0-1.49 1.7-4.48 0,1.49 0-2.98 0-2.99 0-1.49 0-2.99 0-1.49 0-1.49 1.6,0 0-2.99 0-2.99 0,1.5 0-2.99 0-1.49 0-1.5 0-2.98 0,1.49 0-4.48 1.7-1.49 0,1.49 0-2.98 0-1.5 0-4.48 0-1.49 0-2.98 1.7-1.5 0-1.49 0-1.49 0-1.5 0-2.98 0-1.5 0-1.49 1.6-1.49 0-1.5 0-1.49 0-2.98 0-4.48 0-1.5 0-2.98 1.7,0 0-1.5 0-2.98 0-1.49 0-2.99 0-2.99 1.6,0 0-4.48 0,2.99 0-2.99 0-1.49 0,1.49 0-2.98 0,1.49 0-4.48 1.7-2.98 0-2.99 0-1.49 0-2.99 0-2.99 1.7-1.49 0,1.49 0-2.98 0-1.49 0-2.99 0-1.49 0,1.49 0-2.99 1.6-2.98 0,1.49 0-2.99 0-1.49 0-1.49 0-1.49 0-1.5 0-1.49 1.7-1.49 0-1.5 0-1.49 0-1.49 0-5.98 0,2.99 1.6-2.99 0,1.5 0-2.99 0-4.48 0,1.5 0-1.5 0-4.48 1.7,0 0-1.49 0-1.49 0-1.5 0-2.98 0,1.49 0-2.98 1.7-2.99 0-2.99 0-4.48 0-1.49 1.6-1.49 0-1.49 0-1.5 0-1.49 0,1.49 0-2.98 0-1.5 1.7,1.5 0-4.48 0-2.99 0,1.49 0-2.98 0,1.49 0-4.48 1.7-1.49 0-1.49 0-2.99 0-1.49 0-1.5 1.6,0 0-1.49 0-1.49 0-2.99 0-1.49 0,1.49 1.7-4.48 0-1.49 0-1.49 0-1.5 0-1.49 1.6-2.99 0-1.49 0-2.98 0,1.49 0-2.99 0-1.49 0-1.49 1.7,0 0-1.5 0-2.98 0-1.5 0-2.98 1.7,1.49 0-4.48 0-2.98 0-2.99 1.6-1.49 0-1.5 0-1.49 0-1.49 0,2.98 0-4.48 1.7,0 0-1.49 0-1.49 0-1.49 0-2.99 0-1.49 1.6,1.49 0-2.99 0-2.98 0-1.5 0-2.98 1.7-1.5 0-1.49 0,1.49 0-2.98 0-1.49 0-1.5 1.7-1.49 0-5.97 0,2.98 1.6-2.98 0-1.5 0,1.5 0-4.48 0,1.49 0-2.98 1.7-2.99 0-1.49 0-1.5 0-4.48 1.6,1.5 0-1.5 0-2.98 0,2.98 0-4.47 0-1.5 1.7,0 0-2.98 0-1.5 1.7-2.98 0-1.5 0-1.49 0-2.99 1.6,0 0-2.98 0-2.99 1.7,2.99 0-4.48 0-1.49 0-2.99 0,1.49 1.7-1.49 0-1.49 0-4.48 1.6-2.99 0-1.49 0-1.49 0-1.5 1.7-1.49 0,1.49 0-2.98 1.6-4.48 0-1.49 0-1.5 1.7-2.98 0-1.5 0-1.49 1.7,0 0-1.49 0-4.48 1.6-1.5 0-1.49 0-2.98 1.7-2.99 0,1.49 0-1.49 1.6-1.49 0-2.99 0-1.49 1.7-1.5 0-1.49 0-2.98 1.7-1.5 0-2.98 0,1.49 1.6-2.99 0-2.98 1.7,0 0-1.5 1.6-1.49 0-1.49 0-2.99 1.7,0 0-1.49 0-1.49 1.7-1.5 0-1.49 1.6,0 0-1.49 0-1.5 1.7-2.98 0-2.99 0,1.49 1.6-1.49 0-2.98 1.7,1.49 0-2.99 1.7-1.49 0-2.99 1.6,2.99 0-4.48 1.7-1.49 0-1.5 1.7-1.49 0-1.49 1.6,1.49 1.7-4.48 1.6,0 0-2.98 1.7,0 0-2.99 1.7,0 0-1.49 1.6,0 0-1.5 1.7-2.98 0,1.49 1.6-2.99 1.7,1.5 1.7-2.99 1.6-1.49 1.7-1.49 1.6-1.5 1.7,0 0,1.5 1.7-2.99 1.6,0 1.7-1.49 1.7-1.5 1.6,1.5 1.7,1.49 1.6-1.49 1.7-1.5 1.7,2.99 1.6,0 1.7,1.49 1.6,0 1.7-1.49 1.7,1.49 1.6,1.5 1.7-2.99 1.6,2.99 1.7,0 0,1.49 1.7,1.49 1.6-1.49 1.7,0 1.7,1.49 0,1.49 1.6-1.49 1.7,4.48 0-1.49 1.6,1.49 1.7,0 1.7,2.99 0-1.5 1.6,2.99 0-1.49 1.7,4.48 1.6-1.5 1.7,2.99 0,1.49 1.7,0 0,1.5 0,1.49 1.6,1.49 0-2.98 0,4.47 1.7,2.99 0,2.99 1.6-1.5 0,5.98 0-1.5 0,1.5 0,1.49 0,1.49 1.7,0 0,1.49 0,2.99 0-1.49 0,2.98 1.7,2.99 0,1.49 0,2.99 0,2.98 0-1.49 1.6,1.49 0,2.99 0,1.49 0,1.5 0,1.49 0,2.99 1.7,2.98 0,2.99 0-1.49 0,4.47 0,1.5 0,1.49 1.6,4.48 0-1.49 0,1.49 0,1.49 0,1.5 0,1.49 0,4.48 1.7-1.5 0,4.48 0,2.99 0,2.99 1.7,1.49 0,1.49 0,1.5 0,1.49 0,1.49 1.6,2.99 0,2.98 0,1.5 0,1.49 0,1.49 0,1.5 0-1.5 1.7,4.48 0,1.49 0,1.5 0,2.98 0,2.99 1.7-1.49 0,2.98 0,1.5 0,2.98 0,1.49 1.6,1.5 0,1.49 0,1.49 0,2.99 0,1.49 1.7,0 0,2.99 0,1.49 0-1.49 0,4.48 1.6,0 0,2.98 0,1.5 0,1.49 0-2.99 0,4.48 1.7,1.5 0,2.98 0,1.5 1.7,1.49 0,2.98 0,4.48 0-1.49 1.6,1.49 0,1.5 0,1.49 1.7,4.48 0,1.49 1.6,2.99 0,2.98 1.7,0 0,4.48 0-1.49 0,1.49 0,1.5 1.7,1.49 0,1.49 0,1.5 0,1.49 1.6,0 0,4.48 0,1.49 0,1.49 1.7-1.49 0,2.99 0,1.49 0,1.49 0,1.5 1.6,0" stroke-width="3.90"/><path transform="scale(1 1.38)" d="M641.1 488.03l0,1.21 0,2.42 1.7,0 0,2.41 0,1.21 0-1.21 1.7,2.42 0,2.41 0,1.21 1.6,0 0,2.42 0,2.41 0-1.2 1.7,1.2 0,3.63 1.7,0 0,2.41 0,1.21 1.6,1.21 0-1.21 0,2.42 1.7,1.21 0,2.41 0,1.21 1.6,1.21 0-1.21 0,1.21 1.7,2.41 0,1.21 0,1.21 1.7,1.21 0,1.21 0-1.21 1.6,3.62 0,2.42 0-1.21 1.7,1.21 0,2.41 1.6,1.21 0,1.21 0,3.62 1.7-1.2 0,2.41 0,1.21 0,1.21 1.7,1.21 0,1.2 0-2.41 0,2.41 1.6,1.21 0,1.21 0,3.62 1.7-3.62 0,3.62 0-1.2 0,3.62 1.6,1.21 0,2.41 1.7,2.42 1.7,1.21 0,1.21 0,1.2 0,1.21 1.6,2.42 0-1.21 0,1.21 1.7,0 0,1.21 0,1.2 1.6,1.21 0,2.42 0,1.21 1.7,1.2 0,2.42 1.7,1.21 0,1.21 1.6,0 0,2.41 1.7,1.21 0,1.21 0,1.21 1.7,1.2 0,3.63 1.6-1.21 0,1.21 0,1.21 1.7,0 0,1.2 0,2.42 1.6-1.21 0,3.63 1.7,2.41 0-1.21 0,1.21 1.7,2.42 0-1.21 0,2.42 1.6,0 0,2.41 0-1.21 1.7,3.63 0,2.41 1.6,0 0-1.2 0,3.62 1.7,0 0,1.21 0,1.21 1.7,1.2 0,1.21 0,1.21 1.6,1.21 0,1.21 1.7,2.41 1.6,2.42 0,2.41 1.7,0 0,1.21 0,3.63 1.7-2.42 0,1.21 1.6,1.21 0,3.62 1.7,2.42 0-2.42 0,2.42 1.7,2.41 0,1.21 0,1.21 1.6,0 0,1.21 1.7,1.2 0,2.42 1.6,1.21 0,2.41 0-1.2 1.7,1.2 0,1.21 1.7,1.21 0,3.62 1.6,0 1.7,2.42 0,2.42 0-2.42 1.6,1.21 0,1.21 1.7,0 0,3.62 1.7,0 1.6,1.21 1.7,1.21 0,1.2 1.6,2.42 0-2.42 1.7,2.42 1.7,2.42 1.6,2.41 0-1.21 1.7,1.21 1.7,0 1.6,3.63 0-2.42 1.7,2.42 1.6,1.2 1.7,2.42 0,1.21 1.7,1.21 0,1.2 1.6,0 1.7,2.42 0,1.21 1.6-1.21" stroke-width="3.90"/><path transform="scale(1 1.75)" d="M760.7 545.76l0,0.95 1.7,0.95 0,1.89 1.7,0.95 0-0.95 1.6,1.9 0,0.95 1.7,0.95 0-0.95 1.6,0.95 0,1.9 1.7,1.9 1.7-0.95 0,1.9 1.6,0.95 1.7,0.94 0,0.95 1.6,1.9 1.7,0 0,0.95 1.7,0 1.6,0.95 0,1.9 1.7,0 1.7,1.9 0-0.95 1.6,0.95 0-0.95 1.7,1.9 1.6-0.95 1.7,2.84 0-0.95 1.7,0.95 1.6,0.95 1.7,0 0,2.85 1.6,0 1.7-0.95 1.7,1.9 1.6,0.95 1.7,1.9 1.6,0.95 1.7,0.95 0,0.94 1.7-0.94 0,2.84 1.6,0.95 0-0.95 1.7,1.9 1.7,0.95 1.6,1.9 0-0.95 1.7,0.95 1.6,0.95 1.7,0.95 0,1.9 1.7,0.94 1.6,0.95 1.7-0.95 1.6,1.9 1.7,0 0,1.9 1.7,0.95 1.6-0.95 1.7-0.95 0,0.95 1.6,0.95 1.7,0 1.7,0.95 1.6,0.95 1.7,0 1.6,0 1.7,0.95 0,0.95 1.7,0.95 1.6,0.94 0,0.95 1.7,0 0,0.95 1.7,0.95 0,0.95 1.6,0 0-0.95 1.7,2.85 1.6,0 0,1.9 1.7,0 0,0.95 1.7-0.95 0,1.9 1.6,0.95 0,0.94 1.7-0.94 0,1.89 1.6,0.95 1.7,0 0,0.95 1.7,0 1.6,0.95 0,0.95 1.7,0 1.6,0.95 1.7,2.85 1.7-1.9 1.6-0.95 1.7,1.9 1.7,0 1.6,0 1.7-0.95 1.6,2.85 1.7-0.95 1.7,1.9 1.6,0.94 0-0.94 1.7,0.94 1.6,0 0,0.95 1.7,0 1.7,0" stroke-width="3.90"/><path transform="scale(1 2.28)" d="M900.3 482.60l0,1.46 1.6,0.73 1.7-0.73 0,1.46 1.6,0 1.7,2.19 0-1.46 1.7,2.19 1.6,0 0,0.73 1.7,0 1.7,1.46 1.6,0 0,0.73 1.7,0.73 1.6,0 0,0.73 1.7,0.73 1.7,0 0,0.73 1.6-0.73 1.7,0.73 0,0.73 1.6,0 1.7,0 0,1.46 1.7,0 1.6,0.73 0,0.73 1.7-0.73 1.6,2.2 0-0.73 1.7,0 1.7,0.73 0,1.46 1.6,0.73 0-0.73 1.7,1.46 1.6-0.73 0,1.46 1.7,0 0,0.73 1.7,1.46 0,0.73 1.6,0 1.7-0.73 0,2.19 1.7-0.73 0,0.73 1.6,0 1.7,1.46 1.6,0.73 1.7,0 0,0.73 1.7,0 1.6,1.46 0-0.73 1.7,0.73 1.6,0 1.7,0 1.7,0.73 0-0.73 1.6,1.46 1.7,0.73 1.6-0.73 1.7,1.46 0-0.73 1.7,0.73 1.6,0.73 1.7-0.73 1.7,0.73 0,0.73 1.6,0 1.7,0.73 0,0.73 1.6,0 1.7-0.73 1.7,0.73 0,1.46 1.6,0 1.7,0 1.6,1.46 1.7,0.73 1.7-0.73 1.6,1.46 1.7,0 1.6,0 1.7,0.73 0-0.73 1.7,1.46 1.6,0 1.7,0 1.6,0 1.7,0.73 1.7-0.73 0,0.73 1.6-0.73 1.7,0.73 1.7,0.73 1.6,0 1.7-0.73 1.6,0.73 1.7-0.73 1.7,1.46 1.6,0 1.7-0.73 1.6,0 1.7,0.73 1.7,0 1.6,0 0,0.73 1.7,0.73 1.6,0 1.7,0 1.7,0 1.6-0.73 1.7,0 1.7,0.73 1.6,0.73 1.7-0.73 1.6,0.73 1.7-0.73 1.7,0 1.6,1.46 1.7-0.73 1.6,0.73 1.7-2.19 0,0.73 1.7,0 1.6,1.46 1.7,0.73 1.6-1.46 1.7,0 1.7,0 1.6,0.73 1.7,0.73 0-0.73 1.7,1.46 1.6,0 1.7-1.46 1.6,0.73 1.7,0 1.7,0 1.6,0.73 1.7-0.73 1.6,0 1.7-0.73 1.7,0 1.6,0 1.7-0.73 1.6-0.73 0,1.46 1.7-1.46 1.7,0 1.6,0 1.7-1.46 1.6,0.73 1.7-0.73 0,0.73 1.7-0.73 1.6,0 1.7,1.46 1.7-0.73 1.6-0.73 1.7,1.46 1.6-1.46 1.7,1.46 1.7-1.46 0-0.73 1.6,2.19 1.7-1.46 1.6,0.73 1.7,0 1.7-0.73 1.6,0.73 1.7-0.73 1.6,0.73 1.7,0 0-0.73 1.7,0.73 1.6,0 1.7,0 1.7,0 1.6-0.73 1.7,0.73 1.6,0 1.7,0 1.7,0.73 1.6,0 1.7,0 1.6,0 1.7-0.73 1.7,1.46 1.6,0.73 1.7-0.73 1.6,0 1.7,1.46 1.7-0.73 1.6-0.73 1.7,0.73 1.6,0 1.7,0 1.7,0 1.6,1.46 1.7,0 1.7-1.46 1.6,0.73 1.7,0.73 1.6,0 1.7,1.46 1.7-1.46 1.6,1.46 1.7,0 1.6,0 1.7,0.73 1.7,0.73 1.6-1.46 1.7,0.73 0,1.46 1.6,0 1.7,0.73 1.7,0 1.6,0.73 1.7,2.19 0-1.46 1.7,2.19 1.6-0.73 0,0.73 1.7,0 0,0.73 1.6,1.46 1.7,0 1.7,0 1.6,0.73 1.7,0.73 0,0.73 1.6,0.73 1.7,0.73 0-0.73 1.7,1.46 0,0.73 1.6-0.73 1.7,0.73 0,1.46 1.6,0 1.7,0.73 0,0.73" stroke-width="3.90"/></g><g stroke="#800080" fill="none" stroke-linejoin="miter" stroke-miterlimit="1.6" stroke-linecap="square"><path transform="scale(1 1.15)" d="M392.0 1063.04l0-1.44 0-1.45 0-1.44 1.7-1.45 0-2.89 0-2.88 0-1.45 0-1.44 0-1.45 0-1.44 0-2.89 0-1.45 0-2.88 0-1.45 0-2.89 0,1.45 1.6,1.44 0,4.33 0-1.44 0,2.89 0,1.44 0,1.45 0,1.44 0,1.45 0,1.44 0,2.89 0,2.89 0-2.89 0,2.89 0,1.44 0,1.45 0,2.89 0-1.45 0,7.22 0-1.44 0,1.44 0,2.89 0-1.44 1.7,1.44 0,2.89 0,1.44 0,2.89 0,1.45 0-1.45 0,5.78 0-1.44 0,2.89 0,1.44 0,1.44 0-1.44 0,4.33 0,1.45 0,1.44 0,1.45 1.6,1.44 0,1.44 1.7,2.89 0,1.45 0-1.45 0-5.77 0,2.88 0-5.77 0,2.89 0-4.34 0-1.44 0-1.45 0-4.33 0,2.89 0-2.89 0-2.89 0-1.44 0-2.89 0,2.89 0-5.78 0-1.44 0-1.45 0-1.44 0,1.44 0-2.89 0-2.89 1.7-4.33 0-1.44 0,2.89 0-4.34 0-2.89 0-1.44 0,2.89 0-4.33 0,1.44 0-5.78 0-1.44 0-1.45 0-1.44 0-2.89 0-1.44 0,1.44 0-1.44 0-2.89 0-5.78 0,2.89 0-4.33 0,2.88 0-5.77 0-2.89 0-1.45 0-1.44 0,1.44 0-4.33 0-1.44 0-2.89 0,1.44 0-2.89 0-4.33 0,2.89 0-5.78 0-1.44 0-1.45 1.6-1.44 0-1.45 0-2.88 0-2.89 0-1.45 0-1.44 0-2.89 0,1.44 1.7-1.44 0,4.33 0,1.45 0,4.33 0-1.44 0,4.33 0,2.89 1.6,0 0,2.89 0-2.89 0-1.45 0-1.44 0-1.45 0-1.44 0-1.44 0-5.78 1.7,1.44 0-1.44 0-4.33 0-1.45 0-1.44 0-4.34 0,1.45 0-2.89 0-2.89 0-1.44 0-1.45 0,1.45 0-2.89 0-1.45 0-1.44 0-2.89 0-1.44 0-1.45 0-2.89 0-2.89 1.7,0 0-1.44 0-2.89 0,1.45 0-2.89 0-2.89 0,1.44 0-1.44 0-2.89 0-1.45 0-1.44 0-2.89 0-2.89 0-1.44 0-1.45 0-2.88 1.6-1.45 0-2.89 1.7-1.44 0-2.89 0,1.44 0-2.88 1.6,0 0-4.34 0-1.44 0,1.44 0-2.89 0-5.77 0,1.44 0,1.44 0-2.88 0-2.89 0-2.89 0-4.33 0-1.45 0-1.44 0-4.34 0,1.45 0-1.45 0-4.33 0-2.89 0-2.89 0-1.44 0-1.45 0-1.44 1.7-2.89 0,1.45 0-2.89 0-1.45 1.7,1.45 0-2.89 0-4.33 1.6,2.88 0-4.33 0-1.44 0-2.89 0-1.45 0-1.44 0-1.44 0-1.45 0-1.44 0-1.45 0-1.44 1.7-1.45 0-5.77 0,2.88 0-4.33 0-1.44 0-1.45 0,1.45 0-5.78 0-1.44 0-2.89 0,1.44 1.7,1.45 0-4.34 0-1.44 0,2.89 0-2.89 0-2.89 0-1.44 0,1.44 0-5.78 0-1.44 1.6-4.34 0,1.45 0-4.33 0-7.23 0,1.45 0-2.89 0-1.44 1.7,0 0-4.34 0,1.45 0-1.45 0-1.44 0-4.33 0-1.45 0-1.44 0-2.89 1.6-1.45 0-2.89 0-1.44 0-1.44 0-1.45 0-2.89 0-2.89 1.7-1.44 0-1.44 0-4.34 0,1.45 0-1.45 0-2.89 0-1.44 0,1.44 0-4.33 1.7,0 0-1.44 0-1.45 0-1.44 0-1.45 0-1.44 0,1.44 0-1.44 0-4.33 1.6-4.34 0,2.89 0-4.33 0-4.33 0-1.45 0-1.44 0,1.44 0-2.89 1.7,0 0-2.89 0-2.88 0-1.45 0-2.89 0,1.45 0-2.89 0-2.89 0-1.45 0-1.44 1.6,0 0-2.89 0-4.33 0-2.89 0,2.89 0-2.89 0-1.44 1.7,0 0-4.34 0-2.89 0-1.44 0-1.44 0-1.45 0-1.44 1.7-1.45 0-2.89 0-4.33 0-1.44 0-4.34 0,1.45 1.6-2.89 0-1.45 0-4.33 0-2.89 0,1.45 0-1.45 1.7-1.44 0-2.89 0-1.44 0-1.45 0,1.45 0-5.78 0-1.45 1.6,1.45 0-2.89 0-1.45 0-1.44 0-4.33 1.7-4.34 0-1.44 0-2.89 0-1.44 0-1.45 1.7-2.89 0-2.88 0-1.45 0,2.89 0-1.44 0-1.45 0-4.33 0-1.45 1.6,1.45 0-2.89 0-1.45 0-1.44 0-1.44 0-1.45 1.7-1.44 0-1.45 0-1.44 0-1.45 0-1.44 0-2.89 1.7,0 0-1.44 0-5.78 0,1.44 0-2.88 1.6-1.45 0-2.89 0-4.33 0,1.44 0-2.89 1.7-2.88 0-2.89 0-1.45 0,1.45 0-2.89 1.6-2.89 0-2.89 0-4.33 0,1.44 1.7,0 0-2.89 0-2.88 0-1.45 0-2.89 1.7,2.89 0-4.33 0-1.45 0-1.44 0-1.45 0-1.44 1.6,0 0-1.44 0-1.45 0-4.33 0,2.89 0-2.89 1.7-4.33 0,2.88 0-2.88 0-4.34 1.6-1.44 0-1.45 0-2.88 0-1.45 1.7-4.33 0,2.89 0-1.45 0-2.89 0-1.44 0-1.45 1.7,0 0-2.88 0,2.88 0-4.33 0-1.44 0-1.45 1.6,0 0-4.33 0-1.44 1.7-1.45 0-5.78 0,4.34 0-5.78 1.6-1.44 0-1.45 0,1.45 0-1.45 0,1.45 0-2.89 1.7-4.34 0-1.44 0-1.45 0-1.44 1.7-1.44 0-1.45 0-1.44 0-1.45 1.6-2.89 0-1.44 0,1.44 0-2.88 1.7-4.34 0-1.44 1.7-2.89 0-2.89 0-1.44 0,1.44 1.6-2.89 0,1.45 0-4.34 1.7-1.44 0-1.45 0-4.33 1.6-1.44 0-1.45 0,2.89 0-2.89 1.7-1.44 0-1.45 0-4.33 0,1.45 1.7-1.45 0-1.44 0-1.45 0-1.44 1.6-1.45 0-1.44 1.7,0 0-5.78 0,2.89 1.6-1.44 0-2.89 1.7-1.45 0-1.44 0,1.44 1.7-2.89 0-1.44 1.6-2.89 0,2.89 0-2.89 1.7-1.44 0-1.45 1.6,1.45 0-4.34 1.7,1.45 0-1.45 1.7-1.44 1.6-1.44 1.7-2.89 1.6-2.89 0-1.45 1.7,4.34 1.7-4.34 1.6,4.34 1.7,1.44 1.7-5.78 1.6,2.89 1.7,0 1.6-1.44 1.7,2.89 1.7,2.89 0-1.45 1.6,0 1.7,1.45 0,1.44 1.6,1.44 1.7,2.89 0-2.89 1.7,0 0,4.34 1.6-1.45 0,1.45 1.7,0 0,2.89 1.6,1.44 0,1.44 1.7,0 0,4.34 1.7,0 0-1.45 0,2.89 1.6,2.89 1.7,1.45 0,1.44 1.7,1.44 0,2.89 1.6,0 0,2.89 0,1.45 1.7,1.44 0,1.44 1.6,1.45 0,2.89 1.7,0 0,2.89 0,1.44 0,1.44 1.7,0 0,1.45 0,2.89 1.6,1.44 0-1.44 0-1.45 1.7,5.78 0-2.89 0,4.34 1.6,1.44 0,2.89 0-1.45 0,1.45 1.7,0 0,2.89 1.7,2.89 0,1.44 0,1.44 1.6,0 0,1.45 0,1.44 1.7,1.45 0,1.44 0,1.45 1.6,1.44 0,2.89 0-1.45 1.7,2.89 0,1.45 0,1.44 1.7,0 0,1.45 0,2.89 1.6,0 0,1.44 1.7,0 0,4.33 0,1.45 1.7,0 0,1.44 0,1.45 0,1.44 1.6,2.89 0,1.44 1.7,0 0,4.34 0-2.89 1.6,2.89 0,1.44 0,1.44 1.7,2.89 0-1.44 0,1.44 1.7,2.89 0,1.45 0,4.33 1.6-1.44 0,1.44 0,2.89 1.7,2.89 0-2.89 0,2.89 1.6,2.89 0,2.88 0,1.45 1.7,0 0,2.89 1.7,1.44 0,2.89 0-1.44 0,2.88 1.6,1.45 0,2.89 0-2.89 0,5.78 1.7-2.89 0,2.89 0,4.33 0-2.89 1.6,5.78 0-1.45 0,2.89 1.7,0 0,2.89 1.7,0 0,4.33 0-1.44 0,4.33 1.6,1.45 0,1.44 0,2.89 1.7,0 0,1.44 0,1.45 0,2.89 0,2.89 1.6,1.44 0-1.44 0,1.44 0,1.45 1.7,0 0,1.44 0-1.44 0,4.33 1.7,0 0,2.89 0,2.89 1.6,0 0,1.44 0,1.44 0-1.44 1.7,1.44 0,2.89 1.7,1.45 0,2.89 1.6,1.44 0,2.89 0,1.44 1.7-2.89 0,4.34 0,1.44 1.6,2.89 0,1.45 0,1.44 1.7,0 0,4.33 1.7,1.45 0,1.44 0,1.45 1.6,1.44 0,2.89 0-1.45 0,2.89 1.7,1.45 0,2.89 1.6,0 0,2.88 0,1.45 1.7,0 0,4.33 0-1.44 1.7,0 0,2.89 0,1.44 0,1.45 1.6,4.33 0-2.89 0,2.89 0-1.45 1.7,1.45 0,1.44 0,1.45 1.6,1.44" stroke-width="1.70"/><path transform="scale(1 1.5)" d="M641.1 507.16l0,1.11 0,1.1 1.7,1.11 0,2.22 1.7,2.21 0,2.21 0-2.21 0,3.32 1.6,1.11 0-3.32 0,4.43 1.7,1.1 0,3.33 0-3.33 1.7,4.43 1.6,1.11 0,3.32 1.7,0 0,2.22 0,1.1 0-1.1 1.6,2.21 0-1.11 1.7,4.43 0,1.11 0,2.22 1.7-1.11 0,2.21 1.6,1.11 0,1.11 1.7-1.11 0,2.22 0,2.21 1.6,2.21 0-1.1 1.7,2.21 0,2.22 0,1.1 1.7-1.1 0,2.21 0,2.22 1.6,0 0-1.11 1.7,2.21 0,1.11 1.6,3.32 0-1.1 0,2.21 1.7,1.11 0,1.1 1.7,0 0,1.11 1.6,2.22 0,1.1 1.7-1.1 0,2.21 1.6,2.22 0,2.21 1.7,1.11 0-1.11 0,2.22 1.7,0 0,2.21 0-1.11 1.6,2.22 0,3.32 1.7-1.11 0,2.22 1.7,0 0,1.1 0,1.11 1.6,0 0,2.22 0,2.21 1.7-1.11 0,1.11 1.6,1.11 0,2.21 1.7,1.11 0,1.11 1.7,2.21 0,1.11 0,1.11 1.6,0 0,2.21 1.7,2.22 0-2.22 0,1.11 1.6,3.32 1.7,1.11 0,2.21 0-1.1 1.7,0 0,1.1 0,1.11 1.6,1.11 0,2.21 1.7,0 0,2.22 1.6,0 0,2.21 0,1.11 1.7-1.11 0,2.22 1.7-1.11 0,3.32 1.6,1.11 0,1.11 1.7,1.1 0,1.11 1.7,1.11 1.6-1.11 0,3.32 1.7,1.11 0,1.11 1.6-1.11 0,3.32 1.7,0 0,1.11 1.7,0 0,2.21 1.6-1.1 0,3.32 1.7,0 0-1.11 0,1.11 1.6,3.32 0-2.21 1.7,1.1 0,2.22 1.7,0 1.6,1.1 0-1.1 1.7,2.21 0,2.22 1.6,2.21 0-1.11 1.7,1.11 0,1.11 1.7,1.11 1.6,0 1.7,2.21 1.7,3.32 1.6-2.21 0,3.32 1.7-2.21 0,3.32 1.6-1.11 0,2.21 1.7,0 0,1.11 1.7,1.11 1.6,2.21 0-1.1 1.7,2.21 1.6,0" stroke-width="1.70"/><path transform="scale(1 2)" d="M760.7 504.11l0,0.83 1.7,0.83 1.7,0.84 0,1.66 1.6,0 1.7,0 0-0.83 1.6,2.49 0-0.83 1.7,1.66 0-0.83 1.7,3.32 1.6-1.66 0,1.66 1.7,0 1.6,0 0,3.32 1.7,0.83 1.7-0.83 0,0.83 1.6,0 1.7,0 0,2.49 1.7,0 1.6-0.83 0,0.83 1.7,0.83 1.6,0 0,0.83 1.7,0 1.7,0.83 0,0.84 1.6,0 1.7,0.83 0,1.66 1.6-0.83 0,0.83 1.7,0.83 1.7,0 1.6,1.66 1.7-0.83 0,0.83 1.6,1.66 1.7,0 1.7,0.83 1.6,0.83 1.7,0 0,0.83 1.7,0.83 1.6,0.83 1.7,0.83 1.6,1.66 0-0.83 1.7-0.83 1.7,2.49 1.6,1.66 0-3.32 1.7,2.49 1.6,0 1.7,2.5 1.7-0.83 1.6,0.83 0-0.83 1.7,1.66 1.6,0 0,1.66 1.7,0 1.7-0.83 1.6,1.66 0,1.66 1.7-1.66 1.6,0.83 0,0.83 1.7,0.83 1.7,0.83 1.6,0 0,1.66 1.7-0.83 1.7,0.83 0,1.66 1.6,0 1.7,0 0,2.49 1.6-0.83 1.7-0.83 1.7,3.32 1.6,0 1.7,0.83 0-0.83 1.6,3.33 1.7-0.83 1.7,1.66 1.6-2.49 1.7,2.49 1.6-1.66 0,2.49 1.7,0 1.7,0 1.6,0.83 1.7,0 1.7,0.83 1.6,0.83 0,0.83 1.7,0 1.6,0 1.7,0 1.7,0 0,0.83 1.6,0 1.7,0.83 1.6,0.83 1.7,0 1.7,0.83" stroke-width="1.70"/><path transform="scale(1 2.7)" d="M900.3 419.56l1.6,0 1.7,1.23 0-0.62 1.6,0.62 1.7,0 0,0.61 1.7,0 1.6,1.23 1.7,0 0,0.62 1.7,0 1.6,0.61 1.7,0 1.6,0 1.7,1.85 1.7,0.61 1.6,0 0-0.61 1.7,0.61 1.6,0.62 1.7,1.23 0-0.62 1.7,0 1.6,1.23 0,1.23 1.7-1.23 1.6,0.62 0,1.84 1.7-1.84 1.7,1.23 0,1.23 1.6,0 1.7-0.62 0,0.62 1.6,0.62 1.7,0.61 0,0.62 1.7-1.23 0,1.84 1.6,0 1.7,0.62 1.7,0.61 1.6-0.61 0,1.23 1.7,0.61 1.6,1.23 1.7,0 1.7,0 0,1.23 1.6,0 1.7,0 1.6,0.62 0-0.62 1.7,0.62 1.7,0 1.6,0 0,1.84 1.7-1.23 1.6,1.23 1.7,0 1.7,0 0,0.62 1.6,0 1.7,0 1.7,0 0,1.84 1.6-0.61 1.7,0.61 1.6,0.62 1.7,0 0-0.62 1.7,1.23 1.6,0.62 1.7-1.23 0,1.84 1.6,0 1.7,0.62 1.7,0 1.6-0.62 1.7,1.23 1.6,0 1.7,0.62 1.7-0.62 0,1.24 1.6,0 1.7,0.61 1.6-1.23 1.7,1.23 1.7,0 1.6-0.61 1.7,1.23 1.7-1.23 1.6,1.23 1.7,0 1.6-0.62 1.7,1.23 1.7-0.61 0,1.23 1.6-0.62 1.7-0.61 1.6,0.61 1.7,0 1.7-0.61 1.6,0.61 1.7,0.62 1.6,0 1.7-0.62 1.7,0.62 1.6,0 1.7,0 1.7,0 1.6,1.23 1.7,0 1.6-1.23 1.7-0.62 0,0.62 1.7,0.61 1.6-1.23 1.7,0 1.6,0 1.7,1.23 1.7-0.61 1.6,0 1.7,1.23 1.6-0.62 1.7-0.61 1.7,1.23 1.6-0.62 1.7,0 1.7,0.62 1.6-0.62 1.7,0.62 1.6-0.62 1.7,0.62 1.7,0.61 1.6,0 1.7,0 1.6,0.62 1.7-0.62 1.7-0.61 1.6-0.62 1.7-0.61 1.6,0 1.7,0.61 1.7-1.23 1.6,0.62 1.7,0.61 1.6-1.23 1.7,0 1.7-0.61 1.6-0.62 1.7,1.23 1.7-0.61 1.6,0 0-0.62 1.7,1.23 1.6,0 1.7-0.61 1.7-0.62 1.6-0.61 1.7-0.62 1.6,0.62 1.7,0 0,1.23 1.7-1.23 1.6-0.62 1.7,1.23 1.6-0.61 1.7-0.62 1.7,0.62 1.6-0.62 1.7-0.62 1.7,0.62 1.6,0 1.7,0 1.6-1.23 1.7,0 1.7,0.61 1.6,0 1.7,1.24 1.6-1.85 1.7,1.23 1.7-0.62 1.6,1.24 1.7,0.61 1.6-0.61 0,0.61 1.7-1.23 1.7,1.23 1.6,0.62 1.7-1.23 1.6,0 1.7,0 1.7,1.84 0-1.23 1.6,1.23 1.7-0.61 1.7,0 1.6,0.61 1.7-0.61 1.6,0.61 1.7-0.61 1.7,0 0,0.61 1.6-0.61 1.7,0.61 1.6,0.62 1.7,0 1.7,0 1.6,0.61 1.7-1.23 0,0.62 1.6,0.61 1.7,0.62 1.7,0 1.6,0.61 0,0.62 1.7-0.62 1.7,0 1.6,1.23 0,0.62 1.7-1.23 1.6,0.61 1.7,0.62 0,0.61 1.7,0 1.6,0.62 1.7-0.62 0,0.62 1.6,0 1.7,1.23 1.7,0.61 1.6,0 1.7,0 1.6,0.62 1.7-0.62 0,1.23 1.7,0.62 1.6-0.62 1.7,0.62 1.7,1.23 1.6,0.61 1.7,0.62 1.6-1.85" stroke-width="1.70"/></g><g stroke="#008080" fill="none" stroke-linejoin="miter" stroke-miterlimit="1.6" stroke-linecap="square"><path transform="scale(1 1.1)" d="M393.7 1101.82l0-4.51 0-1.5 0,1.5 0-1.5 0-1.5 0-1.51 0-1.5 0-3.01 0-1.5 0-1.5 1.6-1.51 0-4.51 0,1.51 0-1.51 0-1.5 0-3.01 0-3 0,1.5 0-3 0,6.01 0-1.51 0,1.51 0,4.51 0-4.51 0,4.51 0,1.5 0,1.5 0,3.01 0,1.5 1.7,3.01 0-3.01 0,6.02 0-1.51 0,3.01 0,3.01 0,1.5 0,1.5 0,1.5 0,3.01 0,3.01 0-1.51 0,1.51 0,3 0,1.51 0,3 0,3.01 0,1.5 1.6,1.51 0,1.5 0-1.5 0,6.01 0,3.01 0-3.01 0,3.01 0,1.5 0,4.51 0,3 1.7-3 1.7,3 0,1.51 0-4.51 0,1.5 0-1.5 0-6.01 0-1.51 0-4.51 0-1.5 0,1.5 0-4.51 0-1.5 0-1.5 0-1.51 0-1.5 0-1.5 0-3.01 0-1.5 0,1.5 0-3.01 0-1.5 0-1.5 0,3 0-6.01 0-1.5 0-3.01 0,1.51 0-1.51 0-3 0-3.01 0,1.5 0-1.5 0-3.01 0-4.51 0,1.51 0-1.51 0-3 0-1.51 0,1.51 0-3.01 0-4.51 1.6,1.5 0-3 0-3.01 0-1.5 0-1.5 0-3.01 0-1.5 0-1.51 0-3 0-1.51 0-1.5 0-1.5 0-3.01 0-1.5 0-1.51 0-3 0-1.5 0-1.51 0-1.5 0-1.5 0-1.51 0-1.5 0-1.5 1.7-3.01 0,1.5 0-7.51 0,3 0-3 0-1.51 0-1.5 0,4.51 0-1.5 0,1.5 1.6,3.01 0,1.5 0,1.5 0,3.01 0,4.51 0,3.01 0-3.01 0,1.5 1.7,4.51 0-1.5 0,1.5 0-4.51 0-1.5 0,1.5 0-1.5 0-1.5 0-1.51 0-4.51 0,3.01 0-6.01 1.7-1.51 0-1.5 0-1.5 0-1.51 0-1.5 0-3.01 0,3.01 0-4.51 0-3.01 0,1.51 0-1.51 0-3 0,1.5 0-3 0-1.51 0-1.5 0-3.01 0-1.5 0,1.5 0-3 0-1.51 0-3 0-3.01 0,3.01 0-4.51 0,1.5 0-3.01 0-3 0,1.5 0-3.01 0-3 1.6-4.51 0,3.01 0-3.01 0-1.5 0-1.51 0-1.5 0-4.51 0-1.5 0-3.01 0-1.5 1.7-3.01 0-3.01 0,1.51 1.6,0 0-4.51 1.7-1.51 0-1.5 0-1.5 0-1.5 0-3.01 0,1.5 0-3 0-1.51 0-1.5 0-3.01 0-1.5 0-1.5 0-1.51 0-1.5 0-3.01 0-1.5 0-1.5 0-3.01 0,1.5 0-3 0,1.5 0-1.5 0-1.5 0-4.51 0-3.01 0-3.01 0-1.5 1.7,0 0-4.51 1.6,0 0-3.01 0-1.5 1.7-1.5 0-3.01 0-3 0-1.51 1.7,0 0-3 0-3.01 0-1.5 0-3.01 0,1.5 0-3 0,1.5 0-1.5 0-4.51 0,1.5 0-1.5 0-6.02 0,1.51 0-3.01 0-1.5 1.6,1.5 0-1.5 0-1.51 0-1.5 0-3 0,3 0-4.51 0,1.51 0-4.51 0-1.51 0-3 1.7-1.51 0-1.5 0-1.5 0-1.51 0-1.5 0-3.01 0-1.5 0-4.51 1.6-1.5 0-1.5 0-1.51 0-3 0,1.5 0-1.5 0-1.51 0-4.51 1.7,0 0-3 0-3.01 0-3.01 0,1.51 0-6.02 1.7-1.5 0,1.5 0-1.5 0-1.5 0-1.5 0-3.01 0-3.01 0-3 1.6,0 0-1.51 0-1.5 0-1.5 0-1.51 0-3 0-1.51 0,1.51 0-1.51 1.7-3 0-1.51 0-1.5 0-1.5 0,1.5 0-3.01 0-1.5 0-3 0-1.51 1.6,0 0-3 0-1.51 0-3 0-1.51 0-1.5 0,1.5 0-3 1.7-3.01 0-3.01 0-1.5 0-1.5 0,1.5 0-4.51 0,1.5 0-3 1.7-3.01 0-1.5 0,1.5 0-3 0-3.01 0-3.01 1.6,1.51 0-4.51 0,1.5 0-4.51 0-3.01 0-3 1.7,0 0-4.51 0,3 0-4.5 0-1.51 0-1.5 1.6-4.51 0,1.5 0-3 0-1.51 0-3 0,1.5 0-3.01 1.7,0 0-3 0-1.51 0-3 0,1.5 0-3.01 1.7-3 0-3.01 0-1.5 0-3.01 0-1.5 1.6,1.5 0-1.5 0-1.5 0-1.51 0-4.51 0-1.5 0,1.5 1.7-3 0-1.51 0-1.5 0-4.51 0,1.5 0-1.5 1.7-4.51 0,3.01 0-1.51 0-4.5 0,3 0-3 0-1.51 1.6,0 0-7.51 0,3 0-1.5 0-3.01 0-1.5 1.7-1.5 0-1.51 0-1.5 0-3.01 0-1.5 1.6-1.5 0-1.51 0-1.5 0-1.5 0-1.51 0-1.5 1.7,0 0-1.5 0-1.5 0-3.01 0-1.5 0-3.01 1.7-1.5 0-3.01 0,4.51 0-1.5 0-3.01 0-1.5 1.6-1.51 0-4.51 0-1.5 0-1.5 0,1.5 1.7-1.5 0-3.01 0-1.5 0-1.5 0-1.51 0-1.5 1.6,1.5 0-3 0-1.51 0-1.5 0-1.5 0-1.51 1.7-3 0,1.5 0-4.51 0-1.5 1.7,0 0-1.51 0-4.51 0,3.01 0-3.01 0-3 1.6-1.5 0-3.01 0-1.5 1.7,1.5 0-1.5 0-4.51 0-1.51 0-1.5 1.6-3.01 0,1.51 0-4.51 0-1.51 0,1.51 1.7-1.51 0-4.51 0-3 0-4.51 1.7,1.5 0,1.5 0-4.5 0,1.5 0-3.01 1.6-4.51 0,3.01 0-3.01 0-3 0-1.51 1.7,0 0-3 0-1.51 0,1.51 0-4.51 1.7,0 0-1.51 0-3 0-1.51 1.6-3 0,3 0-6.01 0,1.51 0-3.01 1.7-3.01 0-1.5 0-3.01 1.6-1.5 0-1.5 0-1.51 1.7,0 0-1.5 0-4.51 0-1.5 1.7,0 0-3.01 0-1.5 1.6-1.5 0-1.51 0-4.51 0,1.51 1.7-4.51 0,1.5 0-1.5 1.6-3.01 0-1.5 0-3.01 0,1.5 1.7-1.5 0-4.51 0-1.5 1.7-1.51 0-1.5 0,3.01 0-6.02 0,1.51 1.6-1.51 0-3 1.7-1.5 0-3.01 1.6-1.5 0-1.51 0-4.51 1.7-1.5 0,3.01 0-1.51 0-3 1.7,0 0-3.01 1.6,0 0-3.01 0-3 1.7,0 0-1.51 0-1.5 1.6-1.5 0-3.01 1.7-1.5 0-3.01 1.7,0 0-3 0,1.5 1.6-3.01 0-1.5 1.7,1.5 0-1.5 0-4.51 1.7,1.5 0-4.51 1.6,0 0-1.5 0,1.5 1.7-4.51 0,1.51 1.6-1.51 0-1.5 0-1.5 1.7,1.5 0-1.5 1.7-4.51 1.6-1.5 0-1.51 1.7-1.5 1.6-3.01 0-1.5 1.7,1.5 0-1.5 1.7,0 0-1.5 1.6-3.01 0-1.5 1.7,0 1.6,0 1.7,0 1.7-6.02 0,1.51 1.6,0 1.7-3.01 1.7,4.51 1.6-3.01 1.7-1.5 1.6,1.5 1.7,0 1.7,0 1.6-3 1.7,0 1.6,1.5 1.7,1.5 0-1.5 1.7,0 1.6,3.01 1.7-1.51 1.6-1.5 1.7,1.5 1.7,0 1.6,0 1.7,0 1.7,0 1.6,0 1.7,0 1.6,0 1.7,0 1.7,1.51 1.6,0 1.7,1.5 1.6,1.5 0-3 1.7,0 1.7,1.5 1.6-1.5 1.7,1.5 1.6-1.5 0,3 1.7-1.5 1.7,4.51 1.6-3.01 1.7,3.01 0,1.5 1.6-1.5 1.7,1.5 0,4.51 1.7-4.51 1.6,3.01 0-1.5 1.7,4.51 1.7,0 0,1.5 1.6,4.51 0-1.5 0,4.51 1.7-1.51 0,1.51 0,3 1.6,0 0,3.01 0,1.5 1.7,0 0,1.5 0,1.51 0-1.51 0,4.51 1.7,1.51 0-1.51 0,3.01 0,3.01 0,1.5 1.6,0 0,1.5 0,4.51 1.7,3.01 0-3.01 0,3.01 1.6,4.51 0-3.01 0,4.51 0,1.5 1.7,1.51 0,1.5 0,3.01 1.7,3 0,1.51 1.6,1.5 0,3.01 0,1.5 1.7,0 0,1.5 0,3.01 1.6,0" stroke-width="1.70"/><path transform="scale(1 1.35)" d="M641.1 356.81l0,1.23 0,2.46 0,1.23 1.7,1.23 0,2.46 0-2.46 1.7,0 0,3.69 0,1.23 1.6,2.46 0,1.23 1.7,2.46 0,1.23 0,1.23 1.7,0 0,1.23 0,2.46 1.6,1.23 0,1.24 0,2.46 1.7,0 0,3.69 0-1.23 1.6,1.23 0,3.69 0-3.69 0,1.23 1.7,2.46 0,1.23 0,2.46 1.7,0 0,3.69 1.6,0 0,1.23 1.7,2.46 0,2.46 1.6,0 0,2.46 1.7,2.46 0,2.46 1.7-1.23 0,2.46 0,1.24 1.6,1.23 0-2.47 0,4.93 1.7,0 0,1.23 0,1.23 1.6,0 0,6.15 1.7-2.46 0,1.23 1.7,1.23 0-1.23 0,3.69 1.6,0 0,2.46 1.7,1.23 0,2.46 0-1.23 1.6,0 0,2.46 0,1.23 1.7,2.46 0-3.69 0,2.46 1.7,2.46 0,1.23 1.6,1.23 0,2.46 1.7,2.47 0-1.23 1.7,0 0,2.46 0,2.46 1.6,0 0,3.69 0-1.23 1.7,0 0,2.46 0-1.23 1.6,3.69 0,2.46 1.7,1.23 0,2.46 0-1.23 1.7,1.23 0,1.23 0,1.23 1.6,0 0,2.46 0,1.23 1.7,1.23 0,1.23 1.6,1.23 0,2.46 0,1.23 0,2.47 1.7-2.47 0,1.24 0,1.23 0,2.46 1.7,1.23 0,1.23 1.6,0 0,1.23 0,1.23 0,2.46 1.7,0 0,1.23 1.6,2.46 0,3.69 0-2.46 1.7,4.92 0-1.23 0,1.23 1.7,1.23 0-2.46 0,3.69 1.6,1.23 0,1.23 0,1.23 1.7,0 0,2.46 1.7,1.23 0,1.23 1.6,0 0,1.24 0-2.47 1.7,4.93 0,1.23 1.6,1.23 0,1.23 1.7,0 0,1.23 0,3.69 1.7,1.23 0-3.69 0,2.46 1.6,2.46 0,1.23 1.7-1.23 0,2.46 0,1.23 1.6,2.46 0-1.23 1.7,1.23 0,1.23 0,2.46 1.7,0 0,1.23 1.6,2.46 1.7,2.46 0,1.23 1.6,1.23 0,1.24 0-1.24 1.7-1.23 0,2.47 0,2.46 1.7,0 0,2.46 1.6,0 0,3.69 0-1.23 1.7,1.23 0,1.23 0,1.23 1.7,0 0,2.46 1.6,0 0-1.23 0,4.92 1.7-1.23 0,2.46 1.6-1.23 0,2.46 1.7,3.69 1.7,0 0-2.46 0,3.69 1.6,1.23 0,1.23 1.7,1.23 1.6,2.46" stroke-width="1.70"/><path transform="scale(1 1.7)" d="M760.7 460.19l1.7,1.96 0,0.98 1.7,0 1.6,0.97 0,3.91 1.7,0 0-0.98 1.6,1.96 1.7,0 1.7,1.95 0,0.98 1.6,1.95 1.7,0 0,0.98 1.6,0.98 0,0.97 1.7,0.98 0,1.96 1.7-1.96 0,1.96 1.6,0.97 0,0.98 1.7,0 1.7,2.93 0,0.98 0-0.98 1.6,1.96 0,1.95 1.7-1.95 0,1.95 1.6-1.95 0,2.93 1.7,0 0,1.95 1.7,0.98 0,1.95 1.6,0.98 1.7,0 0,0.98 0,0.97 1.6,0 0,0.98 1.7,0.98 0,1.95 1.7,0 1.6,1.96 0,2.93 1.7-0.98 0,0.98 1.6,0.97 1.7,0 0,1.96 1.7-0.98 0,1.95 1.6,0.98 0,0.98 1.7,0 0,2.93 1.7-0.98 1.6,3.91 0-1.95 1.7,0.97 1.6,0.98 1.7,0.98 1.7,0.98 0,0.97 1.6,0 0,0.98 1.7,0.98 1.6-0.98 0,2.93 1.7-1.95 0,1.95 1.7,0.98 0,0.97 1.6,0.98 0,1.96 1.7-0.98 1.6,0.98 0,0.97 1.7,0 1.7,0.98 0,1.95 1.6,0 0,1.96 1.7,0.98 0-1.96 1.6,0.98 0,0.98 1.7,0.97 0,1.96 1.7,0 1.6,2.93 0-0.98 1.7,2.93 1.7,0.98 0,0.98 1.6,0 0,0.97 1.7,0.98 0,1.95 1.6-0.97 1.7,0.97 0,1.96 0-0.98 1.7,0.98 0,0.98 1.6,0 0,2.93 1.7,1.95 0,0.98 1.6-0.98 0,1.95 1.7,0 1.7,1.96 1.6,0 0,0.98 1.7,0.97 0,0.98 1.6,0.98 0-0.98 1.7,1.95 1.7,2.94 1.6,0 1.7,1.95 0-0.98 1.7,0.98 0,0.98 1.6,1.95 1.7,0 0,0.98 1.6,1.95 1.7-0.98 0,0.98 1.7,1.96 0,0.97 1.6,0 0,0.98 1.7,0 1.6-0.98 0,1.96 1.7,0.97 0,0.98 1.7,0" stroke-width="1.70"/><path transform="scale(1 2.19)" d="M900.3 453.55l1.6,0.76 0,0.76 1.7,0 0,0.76 1.6,0 1.7,0.76 1.7,1.51 0,0.76 1.6,0 1.7-0.76 0,2.28 1.7,0.76 1.6,1.51 1.7,0 0,0.76 1.6,2.28 0-0.76 1.7,0 0,1.52 1.7-0.76 0,0.76 1.6,1.51 0,0.76 1.7-0.76 0,1.52 1.6,0.76 0-1.52 1.7,1.52 0,1.51 1.7,0 1.6,0 0,1.52 1.7,0 0,1.52 1.6,0 0,0.76 1.7-0.76 0,2.27 1.7-0.75 1.6,0.75 1.7,0.76 0,0.76 1.6,0.76 0,0.76 1.7,0.76 1.7,0 0,0.75 1.6,0.76 0,0.76 1.7,0.76 0-0.76 1.7,1.52 0,0.76 1.6-0.76 0,1.51 1.7,1.52 0-0.76 1.6,0 1.7,1.52 0,0.76 1.7,0.76 0,0.76 1.6-0.76 0,1.51 1.7,1.52 0,0.76 0-0.76 1.6,0 1.7,1.52 0,0.76 1.7,0.75 0-0.75 1.6,2.27 0-0.76 1.7,0 0,0.76 1.6,1.52 1.7,0 0,1.52 1.7,1.51 1.6-1.51 0,1.51 1.7,0 0-0.76 1.7,2.28 1.6,0.76 1.7,0 0-0.76 1.6,2.27 0,1.52 1.7,0 1.7-0.76 0,2.28 1.6,0 1.7,1.52 0,0.75 1.6,0 1.7,0.76 1.7,0 0-0.76 1.6,1.52 1.7,0.76 0,0.76 1.6-0.76 1.7-0.76 0,1.52 1.7,0 1.6,1.51 0-0.75 1.7,0.75 1.6,0.76 1.7,0.76 0,0.76 1.7,0.76 1.6,0 1.7,0.76 1.7-1.52 0,1.52 1.6,1.51 1.7-1.51 1.6-0.76 1.7,0.76 1.7,0 1.6,0 1.7,0.75 1.6,0.76 0-1.51 1.7,0 1.7,1.51 1.6,0 1.7-0.76 1.6,0.76 1.7-0.76 1.7,1.52 0-0.76 1.6,0.76 1.7,0.76 1.7-1.52 1.6,1.52 1.7,0 0,0.76 1.6-0.76 1.7-0.76 1.7,1.52 1.6,0.76 1.7,0 0,0.76 1.6,0.75 1.7,0 1.7,0 1.6,0 1.7-0.75 0,0.75 1.6,0 1.7,0 1.7,0.76 1.6,0 1.7-0.76 1.7,0 1.6,0 0,2.28 1.7-1.52 1.6,0 1.7-0.76 1.7,1.52 1.6,0 1.7,0.76 1.6-1.52 1.7,0 1.7,2.28 0-1.52 1.6,0.76 1.7-0.76 1.6,0 1.7,1.52 1.7-0.76 1.6,0 1.7,0.76 1.6-0.76 1.7,0 0-0.76 1.7,1.52 1.6-0.76 1.7-0.76 1.7,1.52 1.6,0.76 1.7-0.76 1.6,0 1.7,0.76 1.7-0.76 1.6,0.76 1.7,0.75 1.6-0.75 1.7,0 1.7,0 0,2.27 1.6-0.76 1.7-0.76 1.6,1.52 1.7,0 0-0.76 1.7,0.76 1.6,0.76 1.7,0.76 1.7,0 1.6-0.76 0-0.76 1.7,0.76 1.6,1.52 1.7-0.76 1.7,0 1.6,0.76 0-0.76 1.7,3.03 1.6-2.27 1.7,1.51 1.7,0.76 0,0.76 1.6,0.76 1.7-0.76 1.6,0.76 0,1.52 1.7-1.52 1.7,1.52 1.6-0.76 1.7,0.76 1.6,0 1.7,2.27 1.7,1.52 1.6-1.52 1.7,0.76 0,0.76 1.7,0 1.6,0 0,0.76 1.7,1.51 1.6-0.75 0,2.27 1.7-1.52 1.7,1.52 0,0.76 1.6-0.76 0,0.76 1.7,1.52 0-0.76 1.6,1.51 1.7,0 0,1.52 1.7,0.76 1.6,0 0,0.76 1.7,0 1.6,3.03 0-1.51 1.7-0.76 0,3.03 1.7-0.76 0,1.52 0,1.52 1.6,0.75 1.7,0 1.7,0 0,0.76 1.6,1.52 0,2.27 1.7-0.75 0,0.75 1.6,1.52 0-0.76 0,2.28 1.7,0 1.7,1.52 0-0.76" stroke-width="1.70"/></g><g stroke="#808000" fill="none" stroke-linejoin="miter" stroke-miterlimit="1.6" stroke-linecap="square"><path transform="scale(1 1.15)" d="M393.7 1083.26l0-1.44 1.6-4.34 0-2.89 0,1.45 0-2.89 0-2.89 0,1.45 0-4.34 0,1.45 0-2.89 0-1.45 1.7,0 0-2.88 0-1.45 0,1.45 0-4.34 0-1.44 0-1.45 0-1.44 0,1.44 0-1.44 0-1.44 0-1.45 0-1.44 1.6-1.45 0,1.45 0,2.89 0-1.45 0,1.45 0,2.88 0,1.45 0,1.44 0,2.89 0,1.45 0,1.44 0,2.89 0,1.44 1.7,1.45 0,2.89 0-1.45 0,1.45 0,1.44 0,2.89 0,1.44 0,1.45 0,1.44 0,1.45 0,2.89 0,2.88 0,2.89 1.7,0 0,1.45 0,1.44 0,1.45 0,2.88 0-2.88 0,4.33 0,1.44 0,5.78 0,1.44 0,4.34 0-2.89 0-1.45 0-2.88 1.6-1.45 0-1.44 0-2.89 0-2.89 0-1.44 0,1.44 0-4.33 0-1.45 0-1.44 0-1.45 0-1.44 0-2.89 0-1.44 0,1.44 0-2.89 0-2.89 0-2.89 0-1.44 0,1.44 0-4.33 0-2.89 0-1.44 0-2.89 0-1.44 0-2.89 0,1.44 0-2.89 0-1.44 0,2.89 0-5.78 0-1.44 0-1.45 0-1.44 0-1.45 0-1.44 0-4.34 0,1.45 1.7-2.89 0,1.44 0-2.88 0-2.89 0-1.45 1.6-1.44 0-1.45 0-2.88 1.7-2.89 0-1.45 0,1.45 0,5.77 0-1.44 0,4.33 0,1.45 0,2.89 0,1.44 0-1.44 0,4.33 0,1.44 0,4.34 0-2.89 0,5.78 0,1.44 0-2.89 0,4.33 0,2.89 1.7-1.44 0,4.33 0,1.45 0,1.44 0-1.44 0,4.33 0-1.45 0,2.89 0,1.45 0,4.33 0-1.44 0,2.88 0,1.45 0,1.44 0,1.45 0,2.89 0-1.45 0,4.34 0-2.89 0,1.44 0,4.33 0-1.44 0,4.33 0,1.45 0,2.89 0-1.45 0,1.45 1.6-1.45 0,1.45 0,4.33 0-1.45 0,1.45 0-1.45 0-1.44 0-4.33 0-1.45 0,1.45 0-1.45 0-2.89 0-1.44 0-1.44 0-2.89 0-1.45 0,1.45 0-2.89 1.7,0 0-2.89 0-1.45 0-2.88 0,1.44 0-1.44 0-2.89 0-1.45 0-2.89 0-1.44 0-1.44 0-1.45 0-1.44 0-2.89 0-2.89 0-1.44 0,1.44 0-4.33 0,1.44 0-4.33 0,1.44 0-2.89 0,1.45 0-2.89 0-2.89 0,1.44 0-1.44 0-1.44 0-4.34 0,1.45 0-4.34 0-2.88 0-2.89 0-2.89 0,2.89 0-2.89 0-1.45 0-2.88 0-1.45 0-1.44 0-4.34 1.6,0 0-4.33 0,1.44 0-2.88 0-4.34 0-1.44 0,1.44 0-1.44 0-2.89 0-1.44 0-1.45 0-2.89 0-1.44 1.7-1.45 0-2.88 0-2.89 0-1.45 0-2.89 0-1.44 0,5.78 1.7,1.44 0,1.45 0,1.44 0-1.44 0,2.88 0,1.45 1.6,2.89 0,2.89 0,1.44 0-2.89 0,1.45 0,4.33 0,1.44 0,1.45 0,1.44 0,2.89 1.7,1.44 0-1.44 0,2.89 0,2.89 0,2.89 0,1.44 0-1.44 0-4.34 0-1.44 0-1.45 0-1.44 0-1.44 0-1.45 0-1.44 0-1.45 0-2.89 0,1.45 0-4.33 1.7-1.45 0-2.89 0-2.89 0,1.45 0-5.78 0-4.33 0,4.33 0-1.44 0-5.78 0-2.89 0-1.44 0-2.89 0-2.89 0-1.45 0-1.44 1.6-4.33 0-1.45 0-1.44 0-2.89 0,1.44 0-4.33 0,1.45 0-4.34 0-1.44 0-2.89 0-4.33 0,2.88 0-2.88 0,1.44 1.7-2.89 0-4.33 0,1.44 0-4.33 0-1.44 0,4.33 0-2.89 0,4.33 0,2.89 0,1.45 0,2.88 0,2.89 0,4.34 1.6,1.44 0,2.89 0,1.44 0-1.44 0,5.78 0-1.45 0,2.89 0,2.89 0,1.44 0,2.89 0,1.45 0-1.45 0,2.89 0-4.33 0-1.45 0-1.44 0-1.44 1.7,1.44 0-4.33 0-1.45 0-2.89 0-2.88 0,1.44 0-2.89 0-4.33 0,2.89 0-2.89 0-1.45 0,1.45 0-2.89 0-1.45 0-4.33 0-2.89 0-1.44 0-1.45 1.7,1.45 0-2.89 0-1.44 0-2.89 0-1.45 0-1.44 0,2.89 0-2.89 0-2.89 0-2.89 0-2.89 0,2.89 0-4.33 0,1.44 0-2.89 0-2.89 0-1.44 0-1.44 0-1.45 0-2.89 0-1.44 0-1.45 0-1.44 0-1.44 0-1.45 1.6-1.44 0-2.89 0-2.89 0,1.44 0-2.88 0,1.44 0-2.89 0-5.78 0,1.45 0-2.89 0-2.89 0-1.44 0,1.44 0-2.89 0-1.44 0,1.44 0,1.45 0,2.88 1.7,2.89 0-1.44 0,1.44 0,4.34 0-2.89 0,1.44 0,2.89 0,2.89 0,2.89 0-1.45 0,2.89 1.6,2.89 0,2.89 0,1.44 0,1.45 0,1.44 0,1.45 0,2.89 0-1.45 0-1.44 0-1.45 0-2.89 0-1.44 0,2.89 1.7-4.33 0,1.44 0-4.33 0-1.45 0-1.44 0-1.45 0,2.89 0-5.77 0-2.89 0,1.44 0,1.45 0-2.89 0-4.34 0,1.45 0-1.45 0-2.89 0-1.44 0-2.89 0-1.44 0-1.45 0-2.89 0,1.45 0-1.45 0-4.33 1.7,1.45 0-2.89 0-2.89 0,1.44 0-2.89 0-1.44 0-4.33 1.6,0 0-1.45 0-1.44 0-1.45 0-1.44 1.7-1.45 0,2.89 1.6,2.89 0-2.89 0-1.44 1.7,0 0-4.33 1.7-1.45 0-1.44 0-2.89 0-1.45 0-1.44 0-2.89 0-1.44 1.6-2.89 0-1.45 0-1.44 0-1.44 0-2.89 0-4.34 0,1.45 0-2.89 1.7-2.89 0-2.89 0-2.89 0,1.45 1.7-2.89 0-2.89 0-2.89 0-1.44 1.6,0 0-1.45 0-2.89 0,2.89 1.7-2.89 0-2.88 0-1.45 0-1.44 0-1.45 0,1.45 1.6-1.45 0-2.89 0-4.33 0-1.44 1.7-1.45 0-1.44 0-1.45 0-2.89 1.7-1.44 0-2.89 0-1.44 1.6,0 0-2.89 0-1.45 0-1.44 1.7-1.44 0-1.45 0,1.45 0-2.89 1.6-1.45 0-2.89 0-2.89 0,1.45 1.7-1.45 0-4.33 0-1.44 1.7-1.45 0-5.77 0,1.44 0,1.44 1.6-2.88 0-2.89 0,1.44 0-1.44 0-1.45 1.7-1.44 0-1.45 0-4.33 1.6-4.33 0,4.33 0-5.78 0,2.89 1.7-1.44 0-1.45 0-2.89 0,1.45 1.7-2.89 0-1.44 0-1.45 0-1.44 1.6,1.44 0-2.89 0-1.44 0-1.45 1.7,0 0-1.44 0-1.44 0-1.45 1.7-1.44 0-1.45 0-2.89 1.6,0 0-1.44 0-1.44 0-1.45 1.7,0 0-5.78 0,2.89 1.6-2.89 0-2.89 0-1.44 1.7,1.44 0-1.44 0-1.44 1.7-1.45 0-2.89 0,2.89 0-2.89 1.6-2.89 0-1.44 0-1.44 1.7-1.45 0-1.44 0-1.45 0-1.44 1.6,0 0-2.89 1.7,0 0-1.44 1.7-1.45 0-2.89 1.6-2.89 0,2.89 1.7-7.22 1.6,1.44 0-2.88 0-1.45 1.7,1.45 0-2.89 0-1.45 1.7-1.44 0-1.45 1.6-1.44 0-2.89 1.7,0 0-1.44 1.6-1.45 0-1.44 1.7-4.33 0,1.44 1.7,0 0-1.44 1.6-2.89 0-1.45 1.7,2.89 0-2.89 1.7-1.44 0-1.45 1.6-1.44 1.7-2.89 1.6-1.44 1.7,0 1.7-4.34 0,1.45 1.6-1.45 1.7,0 0-1.44 1.6,0 1.7,0 1.7-2.89 1.6,0 1.7-1.44 1.6,0 0-2.89 1.7,1.44 1.7-1.44 1.6,1.44 0-1.44 1.7-2.89 1.7,1.44 1.6-1.44 1.7,0 1.6-1.45 1.7,0 1.7,0 1.6-1.44 1.7,0 1.6,0 1.7-1.44 1.7,1.44 0-2.89 1.6,4.33 1.7-1.44 1.6,1.44 1.7-1.44 1.7,1.44 1.6,1.45 1.7-1.45 0,1.45 1.7,0 1.6,0 1.7,2.89 1.6-1.45 1.7,2.89 0-2.89 1.7,1.45 1.6,1.44 1.7,0 1.6,1.45 1.7-1.45 0,2.89 1.7-1.44 1.6,1.44 1.7,1.44 1.6-2.88 1.7,0 1.7,0 1.6,1.44 1.7-2.89 0,1.45 1.6,0 1.7,1.44 1.7,1.44 1.6-1.44 1.7,1.44 1.7-1.44 1.6-2.89 1.7,1.45 1.6-1.45 0,2.89 1.7,0 1.7,0 1.6-1.44 1.7,0 1.6-1.45 1.7,1.45 1.7,2.88 1.6-1.44 0,1.44 1.7-1.44 1.6,0" stroke-width="1.70"/><path transform="scale(1 1.5)" d="M641.1 458.44l1.7,1.1 1.7-1.1 1.6,3.32 1.7-1.11 0-1.11 1.7,2.22 1.6-1.11 1.7,2.22 1.6,1.1 1.7-1.1 1.7,1.1 1.6,1.11 1.7,1.11 1.6,2.21 1.7-1.11 1.7-1.1 1.6,0 0,1.1 1.7,0 1.6,1.11 1.7,1.11 0-1.11 1.7,2.22 1.6,0 1.7,1.1 0-1.1 1.6,1.1 1.7,2.22 0,1.11 1.7,0 0-2.22 1.6,3.32 0-1.1 1.7,3.32 1.7,0 0,2.21 1.6,1.11 0,1.11 0,1.1 1.7,0 0,1.11 1.6,2.22 0,1.1 0-1.1 1.7,1.1 0,2.22 1.7,0 0,3.32 1.6,0 0,2.22 1.7,0 0-2.22 0,5.54 1.6,1.1 0-1.1 1.7,2.21 0-1.11 1.7,1.11 0,4.43 1.6,1.11 0,1.11 1.7-1.11 0,2.21 0,1.11 1.6,1.11 1.7,0 0,2.21 1.7-2.21 0,3.32 1.6,0 0,1.11 0,1.1 1.7,1.11 0,1.11 1.7,0 0,1.11 1.6,1.1 0,1.11 1.7,0 1.6,2.22 1.7,2.21 0-1.11 1.7,3.33 0,1.1 1.6,0 0,2.22 1.7,0 0,1.1 1.6,2.22 1.7,0 0,1.11 1.7,0 0,1.1 1.6,2.22 1.7,1.11 0,3.32 1.6,0 0,1.11 1.7-1.11 1.7,2.21 0,1.11 1.6,1.11 1.7,2.21 0-1.11 1.7,2.22 1.6,2.21 1.7-1.1 0,2.21 1.6,2.22 1.7,1.1 1.7,0 1.6,2.22 0-1.11 1.7,2.22 1.6,0" stroke-width="1.70"/><path transform="scale(1 2)" d="M760.7 421.89l1.7,1.67 0,0.83 1.7-0.83 1.6,0 1.7,1.66 1.6-1.66 1.7,2.49 1.7,0.83 1.6,1.66 1.7-2.49 0,0.83 1.6,0.83 1.7,0 1.7,1.66 0,1.66 1.6-1.66 1.7,0 0,0.83 1.7,1.66 1.6-0.83 0,1.66 1.7,0 1.6,0.83 0-0.83 1.7,1.66 1.7,0.83 0-0.83 1.6,3.32 1.7-1.66 1.6,0 0,1.66 1.7,0 1.7,0 1.6,1.66 1.7,0 1.6,0 1.7,0.84 0-0.84 1.7,1.67 1.6,0 1.7,0.83 1.7,0.83 0-0.83 1.6,0.83 1.7-0.83 1.6-0.83 1.7,2.49 0,0.83 1.7-0.83 1.6-0.83 1.7,1.66 1.6,1.66 1.7,0.83 0-0.83 1.7,0.83 1.6,1.66 1.7-0.83 0,1.66 1.6,0.83 1.7,0.83 0-0.83 1.7,0.83 0,1.66 1.6,0.83 1.7,0 0,1.66 1.6-1.66 1.7,1.66 1.7,1.67 1.6-1.67 0,1.67 1.7,1.66 1.7-0.83 0,0.83 1.6,0 1.7,0.83 1.6,2.49 0-2.49 1.7,0.83 1.7,0.83 1.6,0.83 0,1.66 1.7-1.66 1.6,2.49 1.7-0.83 1.7,0.83 1.6,1.66 1.7,0 1.6,1.66 1.7-1.66 0,1.66 1.7,0 1.6,1.66 1.7,0.83 1.7,0.83 1.6,0.83 0,0.83 1.7,0.83 1.6,0.84 1.7,0 1.7,0.83 1.6,0.83 1.7,0 1.6,0.83 0-0.83 1.7,0 1.7,0.83" stroke-width="1.70"/><path transform="scale(1 2.7)" d="M900.3 353.12l1.6,1.23 1.7,0 1.6-0.62 0,1.85 1.7,0.61 1.7-0.61 1.6,0 0,1.23 1.7,0 1.7,0.61 0,1.23 1.6-0.61 1.7,0 0,1.23 1.6-0.62 0,1.85 1.7,0 1.7,0.61 1.6,0.62 1.7,0.61 1.6,0.62 0-1.23 1.7,2.46 0-0.62 1.7,1.23 1.6,0.62 0-0.62 1.7,0.62 0,1.23 1.6,0 1.7-0.61 1.7,2.46 1.6-0.62 0,1.23 1.7-0.61 1.6,1.23 1.7-1.23 1.7,1.84 0-0.61 1.6,0.61 1.7,0.62 0,0.61 1.7-0.61 1.6,1.84 1.7,1.23 1.6-0.61 0,0.61 1.7,0.62 1.7,0.61 1.6,0.62 0,0.61 1.7,0.62 0,0.61 1.6,0 1.7,0.62 0,1.23 1.7-0.62 0,1.23 1.6-0.61 0,1.84 1.7,0 1.6,0.62 1.7,0.62 1.7,1.23 1.6-0.62 0,0.62 1.7,1.23 0,1.23 1.7,0 0-0.62 1.6,0.62 1.7,1.23 1.6,0.61 1.7,0 0-0.61 1.7,0.61 1.6,1.23 1.7,0.62 1.6,0 0,0.61 1.7,1.23 1.7,0 1.6,0.62 0-0.62 1.7,0.62 1.6,1.23 1.7,0.61 0-1.84 1.7,3.07 1.6,0 0-1.23 1.7,1.23 1.6,0.62 1.7,0.61 1.7,0.62 1.6,0 1.7,1.23 1.7,0 1.6,0 1.7,0 1.6,0.62 1.7,0 1.7,0.61 1.6,0 1.7,0.62 0-1.23 1.6,1.23 1.7,0 1.7,0 1.6-0.62 1.7,0.62 1.6,0.61 1.7,0 0,0.62 1.7-1.23 1.6,1.23 1.7,0.61 1.7-0.61 1.6,0.61 0,1.85 1.7-0.62 1.6-0.61 1.7,0.61 1.7-0.61 1.6-0.62 0,1.23 1.7,0 1.6,0 1.7,0.62 1.7,0 1.6-0.62 0,1.23 1.7,0.62 1.6-0.62 1.7,0.62 1.7,0 1.6,0.61 1.7-0.61 1.7,0.61 0-0.61 1.6,1.23 1.7-1.23 1.6,0.61 1.7,0 1.7,0.62 1.6,0 0,0.61 1.7-0.61 1.6,0.61 1.7,0 1.7,0 1.6,0.62 1.7-0.62 0,1.23 1.6,0 1.7,0 1.7,0.62 1.6-0.62 1.7-0.61 1.6,0 1.7,0.61 1.7,0 1.6,0 1.7,0 1.7,0 1.6,0 1.7,0.62 1.6-1.23 1.7,1.23 1.7,0 1.6,0.61 1.7-1.23 1.6,1.23 1.7-1.23 1.7,0.62 1.6-0.62 1.7,0 1.6,0.62 1.7,0 1.7,0 0-1.23 1.6,0 1.7,0.61 1.7-0.61 1.6,0.61 1.7,0 1.6,0.62 1.7-0.62 1.7,0 0,0.62 1.6-1.23 1.7,0 1.6,0.61 1.7,0.62 1.7-1.23 1.6,0.61 1.7,0.62 1.6-0.62 0,0.62 1.7,0.61 1.7,0 1.6-0.61 1.7,0 1.6,0.61 0,0.62 1.7-0.62 1.7,0 1.6,1.85 1.7-1.23 0,1.23 1.7-0.62 1.6,0.62 1.7,1.84 1.6-0.61 1.7,0.61 1.7,0.62 1.6,0 1.7,0.61 1.6,0.62 0,1.23 1.7,0 1.7,1.23 1.6,0.62 0,0.61 1.7,0.62 1.6,0.61 0,0.62 1.7,0 0,0.61 1.7,1.23 1.6,0.62 0,1.23 1.7,0.61" stroke-width="1.70"/><path d="M1214.2 1147.75l0,3.32 1.7,1.66 1.6,3.33 0,1.66 1.7,3.32 0,1.66 1.6,0 0,1.66 0-1.66 1.7,6.64 0-3.32 0,3.32 1.7,1.67 0,3.32 0,1.66 1.6,1.66 0,1.66 0,1.66 1.7,1.66 0,1.66 0,3.33 0-1.67 1.6,1.67 0,1.66 0,1.66 1.7,3.32 0,1.66 1.7,3.32 0,3.32 0-1.66 0,3.33 1.6,4.98 0,1.66 0-1.66 0,3.32 0,1.66 0,1.66 1.7,0 0,1.66 0,1.66 0,1.67 0,3.32 1.6-1.66 0,1.66 0,1.66 0,3.32 0,3.32 1.7-1.66 0,4.98 1.7,0 0-3.32 1.6,3.32 1.7-1.66 1.7-3.32 0-4.98 1.6,1.66" stroke-width="1.70"/><path transform="scale(1 2)" d="M1247.4 613.74l0-1.66 0,0.83 1.7-1.66 0-0.83 1.6,0 1.7,0.83 1.7,0.83 0-0.83 1.6,0 1.7,1.66 0-1.66 1.6,1.66 1.7,2.49 0-1.66 1.7,0 1.6,0 1.7,0.83 1.6-0.83 1.7,0 1.7,0 0-0.83 1.6,0 1.7,0.83 1.6,0 1.7,0.83 1.7,0 1.6-0.83 0,0.83 1.7-0.83 1.7,0.83 0,0.83 1.6,2.49 1.7-0.83 0,0.83 1.6,0 0,1.66 1.7,0.83 0-0.83 1.7,1.66 0,0.83 1.6,0.84 0,2.49 1.7-2.49 0,1.66 1.6,0.83 0-0.83 1.7,1.66 1.7,0.83 0-1.66" stroke-width="1.70"/></g><g stroke="#c00000" fill="none" stroke-linejoin="miter" stroke-miterlimit="1.6" stroke-linecap="square"><path transform="scale(1 1.15)" d="M393.7 1074.59l0-1.44 0-2.89 0-1.44 0-4.34 0,2.89 0-8.66 1.6,2.89 0-2.89 0-1.45 0-1.44 0-4.33 0-1.45 0-2.89 0-4.33 0-2.89 0-4.33 0-1.45 0,1.45 0-5.78 1.7-1.44 0,1.44 0-1.44 0-1.45 0-4.33 0-2.89 0,1.44 0,2.89 0,1.45 0,1.44 0,1.45 0-1.45 0,4.33 0,1.45 0,1.44 0,1.45 0,2.89 0,1.44 0,2.89 1.6,0 0,2.89 0,1.44 0,1.45 0,2.89 0-1.45 0,2.89 0,1.44 0,2.89 0,2.89 0-2.89 0,2.89 0,1.45 0,4.33 0,1.44 1.7,2.89 0,1.45 0,4.33 0-1.45 0,2.89 0,1.45 0,2.89 0,2.89 0,1.44 0,2.89 0,2.89 1.7-1.45 0,1.45 0,1.44 0,1.45 0,2.88 0-1.44 0,5.78 0-2.89 0,4.33 0,4.33 0-1.44 0,2.89 0,1.44 0,2.89 0-7.22 0,2.89 1.6-4.33 0-1.45 0-1.44 0,1.44 0-2.89 0-2.89 0,1.45 0-2.89 0-4.33 0,2.89 0-1.45 0-4.33 0-1.45 0-1.44 0-1.44 0-2.89 0-2.89 0-1.45 0,1.45 0-4.34 0,2.89 0-1.44 0-2.89 0-1.44 0-1.45 0-4.33 0-1.45 0-2.88 0-2.89 0-1.45 0-2.89 1.7,0 0-2.88 0-2.89 0,2.89 0-7.23 0,1.45 0-2.89 0-2.89 0,4.33 0-2.89 0-2.88 0-4.34 0-1.44 0,2.89 0,1.44 1.6,0 0,2.89 0-1.44 1.7,1.44 0,2.89 0,1.44 0-1.44 0-1.45 0-1.44 0-2.89 0,1.45 0-1.45 0-2.89 0-2.89 0-1.44 0-2.89 0-2.89 0,1.45 0-5.78 1.7,0 0,2.89 0-4.33 0-1.45 0-1.44 0-1.45 0-2.89 0-2.89 0-1.44 0-4.33 0,1.44 1.6-2.89 0,1.45 0-4.34 0,1.45 0-2.89 0-1.44 1.7,0 0-2.89 0-4.34 0,2.89 0-2.89 0-1.44 0-2.89 1.6-2.89 0-1.44 0-2.89 0,1.44 0-4.33 0,1.44 0-2.88 0-2.89 1.7,1.44 0-4.33 0-1.45 0-2.88 0-1.45 0-1.44 0,1.44 0-1.44 0-1.45 0-2.89 0-1.44 0-2.89 0-1.44 1.7,1.44 0-1.44 0-4.34 0-1.44 0,1.44 0-4.33 0,2.89 0-1.45 0-4.33 0-1.44 0-2.89 0-1.45 0-1.44 0-1.44 0-1.45 0-2.89 1.6-1.44 0,1.44 0,2.89 0,2.89 0,2.89 0,1.44 0,1.45 1.7-1.45 0,4.34 0,1.44 0-1.44 0,2.88 0,2.89 0,1.45 0-1.45 0,2.89 1.7,0 0,2.89 0-1.44 0-1.45 0-1.44 0-1.45 0-4.33 0-1.44 0-1.45 0-1.44 0,1.44 0-1.44 0-2.89 0,1.44 0-4.33 0,1.44 0-5.77 0-1.45 0,2.89 0-2.89 0-2.89 0-1.44 0-1.44 0-1.45 0-1.44 0-1.45 0-2.89 0-2.89 0-1.44 0-1.44 0-4.34 0-1.44 0-2.89 0-2.89 1.6-1.44 0-1.45 0-1.44 0-1.45 0-1.44 0-2.89 0-2.89 0,4.34 0-4.34 0-4.33 0-1.45 0-2.88 1.7,1.44 0-4.33 0,1.44 0-4.33 0-2.89 0,4.33 0,2.89 0,1.45 1.6,1.44 0,1.44 0,1.45 0,4.33 0-4.33 0-1.45 1.7,0 0-2.88 0,1.44 0-2.89 0-2.89 0-1.44 0-1.45 0-2.88 0-1.45 1.7-2.89 0,1.45 0-1.45 0-4.33 0-2.89 0,4.33 0-4.33 0-1.44 0-2.89 1.6-1.45 0-2.89 0-1.44 0-1.44 0-4.34 0,4.34 0-2.89 0-2.89 0,1.44 0-1.44 0-2.89 1.7-1.44 0-2.89 0-1.45 0-1.44 1.6-2.89 0,2.89 0-4.33 0-1.45 0,2.89 0-2.89 1.7-4.33 0-2.89 0-1.45 0-2.88 1.7-1.45 0,1.45 0-4.34 0-2.89 0-1.44 0,2.89 1.6-1.45 0-1.44 0-2.89 0-1.44 0-2.89 0-2.89 1.7-2.89 0,1.45 0-2.89 0,1.44 0-4.33 0,1.44 1.6-2.89 0-1.44 0-4.33 0,2.88 0-4.33 1.7-2.89 0-2.89 0,1.45 0-2.89 0-2.89 1.7,0 0-2.89 0-2.89 0,1.45 0-1.45 0-2.88 0-1.45 1.6-1.44 0,2.89 0-4.34 0-1.44 0-1.45 0-1.44 1.7-4.33 0-2.89 0,1.44 0-2.89 1.7-1.44 0-4.33 0,2.88 0-5.77 1.6,0 0,1.44 0-4.33 0-1.45 0,1.45 1.7-4.33 0-2.89 0-2.89 0,1.44 1.6,0 0-2.89 0-2.89 1.7-1.44 0-4.33 0-2.89 0,2.89 1.7-2.89 0-1.45 0,1.45 0-4.33 0,1.44 0-2.89 1.6-4.33 0,1.44 0-1.44 0-1.45 0-1.44 0,2.89 1.7-2.89 0-1.44 0-2.89 0-1.45 1.6-5.78 0,2.89 0-1.44 0-2.89 0-1.44 1.7-1.45 0-1.44 0-1.45 1.7-2.89 0-2.88 0,1.44 0-1.44 1.6-2.89 0-4.34 0,1.45 0-4.33 0,2.88 1.7-4.33 0-1.44 0,1.44 0-1.44 1.6-1.45 0-4.33 1.7-1.45 0-1.44 0-1.44 1.7-4.34 0-2.89 0,1.45 1.6-2.89 0-2.89 0,1.45 0-2.89 1.7-1.45 0-1.44 0-1.45 1.7,0 0-2.88 0-2.89 1.6-2.89 0-1.45 0-1.44 1.7-1.45 0-1.44 0-1.44 1.6-2.89 0,1.44 0-4.33 1.7,0 0-2.89 0-1.44 0-2.89 1.7-1.45 0-1.44 1.6-2.89 0,1.44 1.7-4.33 0-2.89 0,1.45 0-4.34 1.6,0 0-1.44 0,1.44 1.7,0 0-2.89 0-1.44 0-2.89 1.7,1.45 0-1.45 1.6-4.33 0,2.89 0-2.89 1.7-1.45 0-1.44 0,1.44 1.6-4.33 1.7,0 0-2.89 1.7-2.89 0-1.44 1.6,0 0-1.44 1.7,0 0-2.89 1.6-1.45 0-1.44 1.7-1.45 0-2.89 1.7,1.45 1.6-4.33 0,1.44 1.7-1.44 0-1.45 1.7-2.89 0-1.44 1.6,1.44 1.7-1.44 0-1.45 1.6,1.45 1.7-2.89 1.7-1.44 1.6,1.44 0-2.89 1.7-1.44 1.6-1.45 1.7,2.89 0-1.44 1.7,0 1.6-4.34 1.7,1.45 1.6-1.45 0-1.44 1.7,1.44 1.7-1.44 1.6,1.44 1.7,0 1.7-2.88 1.6,1.44 1.7-1.44 0,2.88 1.6,0 1.7,0 1.7-1.44 1.6,1.44 1.7,1.45 1.6-1.45 0,1.45 1.7-2.89 1.7,1.44 1.6,1.45 1.7,0 1.6,0 0,2.89 1.7,0 1.7,1.44 1.6,0 1.7,1.45 0-2.89 1.7,0 1.6,4.33 1.7,1.44 1.6-1.44 0,1.44 1.7,0 1.7,1.45 1.6,0 1.7-1.45 1.6,4.34 0-2.89 1.7-1.45 1.7,4.34 1.6-1.45 1.7,0 1.6-1.44 1.7,2.89 1.7,0 1.6,1.44 1.7-1.44 1.6,1.44 1.7-1.44 1.7,1.44 1.6-1.44 1.7,1.44 1.7,1.45 1.6-1.45 1.7,0 1.6,1.45 1.7,2.88 1.7-1.44 0,1.44 1.6,1.45 1.7-1.45 1.6,1.45 1.7,2.89 1.7,1.44 1.6-1.44 0,2.89 1.7,1.44 1.6,1.45" stroke-width="1.70"/><path transform="scale(1 1.5)" d="M641.1 424.11l0-1.11 1.7,2.22 1.7,2.21 0,1.11 1.6,0 0,1.11 1.7,3.32 0-2.22 0,3.32 1.7,0 1.6,2.22 0-1.11 0,2.22 1.7,0 0,2.21 0-1.11 1.6,2.22 0,2.21 1.7,1.11 0,1.11 1.7,1.11 0,2.21 1.6,0 0,1.11 1.7,2.21 0,3.32 0-1.1 0,1.1 1.6,0 0,2.22 1.7,0 0,1.11 0,2.21 1.7-2.21 0,3.32 1.6,1.11 0,2.21 1.7,2.21 0-1.1 0,2.21 1.6,3.32 0-1.1 1.7,2.21 0,1.11 0-1.11 1.7,2.22 0,1.1 1.6,2.22 0-1.11 0,2.22 0,1.1 1.7,2.22 1.6,2.21 0,2.22 0,1.1 1.7-3.32 0,5.54 0-2.22 1.7,1.11 0,2.22 1.6,0 0,2.21 1.7,0 0,1.11 1.7,2.21 0,1.11 0,1.11 1.6,0 0,1.1 1.7,3.33 0-1.11 1.6,1.11 0,2.21 1.7,0 0,1.11 1.7,1.11 0,2.21 1.6,0 1.7-1.11 0,4.43 1.6,0 0,1.11 1.7,1.11 0,1.1 1.7,1.11 0,2.22 1.6-1.11 1.7,2.21 1.6,0 1.7,3.33 0,2.21 1.7-1.11 0,2.22 1.6,1.11 0,1.1 1.7-1.1 0,2.21 1.7,0 0,1.11 1.6,0 0,2.21 1.7,0 0,1.11 1.6,0 0,1.11 1.7,1.1 1.7,2.22 1.6,1.11 1.7,1.1 0,2.22 0,1.11 1.6,1.1 0-1.1 1.7,1.1 0,1.11 1.7,0 0,3.32 1.6,0 0,1.11 1.7,0 1.6,1.11 0,1.1 1.7-1.1 0,1.1 1.7,2.22 0,1.11 1.6-1.11 1.7,2.21 0,1.11 1.7-1.11 0,4.43 1.6-2.21 1.7,1.11 0,1.1 1.6,0 1.7,1.11 1.7,1.11 0,1.1 1.6-1.1 1.7,4.43 0-1.11 1.6,1.11" stroke-width="1.70"/><path transform="scale(1 2)" d="M760.7 427.71l0-0.83 1.7,1.66 1.7,0 0,2.49 1.6-1.66 0,0.83 1.7,0 0,1.66 1.6,1.66 1.7-0.83 0,1.66 1.7,0.83 1.6,0 1.7,0 0,1.66 1.6,0 0,0.83 1.7-0.83 1.7,1.66 0,1.67 1.6-0.84 1.7,0 1.7,0.84 1.6,0 0-0.84 1.7,1.67 1.6,0.83 1.7-0.83 1.7,0.83 1.6,0 0,0.83 1.7,0 1.6,0.83 1.7,0 1.7-0.83 1.6,2.49 0-1.66 1.7,0.83 1.6,0 1.7,0.83 0,1.66 1.7-0.83 1.6,0.83 1.7,0 0,0.83 1.7,0.83 0-0.83 1.6,1.66 1.7,1.66 1.6,0.83 1.7,0 0,1.66 1.7,0 0-1.66 1.6,2.49 0,0.83 1.7,0 0,1.67 1.6,0.83 1.7-0.83 1.7,1.66 1.6,0 1.7,2.49 1.6-0.83 0,0.83 1.7-1.66 1.7,2.49 1.6,0 0,1.66 1.7-0.83 1.6,1.66 0-1.66 1.7,2.49 1.7-1.66 1.6,1.66 0-2.49 1.7,3.32 1.7,0 1.6,1.66 0,1.66 1.7-0.83 1.6,0 0,2.49 1.7-0.83 0,0.83 1.7,1.66 0-0.83 1.6,0 0,0.83 1.7,0.83 0,0.84 1.6,2.49 1.7,0 1.7,1.66 1.6-0.83 0,0.83 1.7,0.83 1.6,0 1.7,0.83 1.7,0.83 1.6,0.83 0,1.66 1.7-0.83 1.7,1.66 1.6-0.83 0-0.83 1.7,1.66 1.6,0 1.7,0 0,0.83 1.7,0.83 1.6,0 1.7,1.66 1.6,0 0,0.83 1.7,0.83 1.7-0.83" stroke-width="1.70"/><path transform="scale(1 2.7)" d="M900.3 361.73l0,0.61 1.6,2.46 0-1.23 1.7,0 1.6,0.62 0,1.23 1.7,0 1.7,0.62 0,0.61 1.6,0 1.7,0 1.7,0.62 0,1.23 1.6,1.23 0-1.23 1.7,0.61 1.6,1.23 0,0.62 1.7-0.62 1.7-0.61 0,1.84 1.6,0 1.7,1.23 0-0.61 1.6,1.23 1.7-0.62 0,1.85 1.7-0.62 1.6,0.62 1.7,1.23 1.6,0 1.7,0.61 0,0.62 1.7,0 1.6-0.62 0,1.85 1.7,0 1.6,1.23 1.7,0.61 0-0.61 1.7,1.84 1.6,0 0,0.62 1.7,0 0,1.85 1.7-1.23 0,1.23 1.6,0 0,1.23 1.7,0.61 0-1.23 1.6,1.85 0-0.62 1.7,0.62 0,1.84 1.7-0.61 1.6,0.61 1.7,0 0,1.23 1.6,0 0,1.85 1.7-1.23 1.7,0.61 0,0.62 1.6,0.61 1.7,1.23 0-0.61 1.6,0.61 1.7,0 0,1.85 1.7-0.62 0-0.61 1.6,1.84 1.7-0.61 1.7,0.61 1.6,0.62 1.7,1.23 0,0.61 1.6,0 1.7,1.85 1.7-0.61 0,0.61 1.6,0 0,0.62 1.7,0.61 1.6,0.62 1.7,0 1.7,0 1.6,1.84 1.7-0.61 1.6,0.61 1.7,1.85 0-0.62 1.7-0.61 1.6,0 1.7,0 1.6,0.61 1.7,0 1.7,0.62 0,0.61 1.6-0.61 1.7,0.61 1.7,0 1.6-1.23 1.7,3.08 1.6-1.85 1.7,0 0,0.62 1.7,0 1.6,0 1.7,0.61 1.6-0.61 1.7,0.61 0,0.62 1.7-0.62 1.6,0 1.7,1.85 1.6,0 1.7,0.61 1.7,0 1.6-0.61 1.7,0.61 1.7,0 1.6,0.62 1.7,0.61 1.6,0 1.7,0.62 1.7-1.23 1.6-0.62 1.7,0.62 1.6,0.61 0,0.62 1.7,0 1.7,0 1.6,0 1.7-0.62 1.6,1.23 1.7-0.61 1.7,0.61 1.6,0 0-0.61 1.7,0.61 1.7,0.62 1.6,1.23 1.7-1.85 1.6,0 1.7,0.62 1.7,0 1.6,0.61 1.7-0.61 1.6-0.62 1.7,0.62 1.7,1.23 1.6-0.62 1.7,0 1.6,0 1.7-0.61 0,0.61 1.7,0 1.6,0 1.7-1.23 1.6,1.85 1.7-0.62 1.7-0.61 1.6,1.23 1.7,0 1.7-1.85 0,1.23 1.6-0.61 1.7,0.61 1.6,0.62 1.7-0.62 1.7,0 1.6,0 1.7-0.61 1.6,0.61 1.7-0.61 0,0.61 1.7,0 1.6-0.61 1.7,0 1.6,0 1.7-0.62 1.7,0.62 1.6-0.62 1.7,0 1.7,1.85 1.6-2.46 1.7,0.61 1.6,0.62 1.7-1.23 1.7-0.62 1.6,0.62 1.7,0.61 0,1.23 1.6-0.61 1.7,1.23 1.7-0.62 1.6,0.62 1.7,0.61 0-2.46 1.6,1.85 1.7,0.61 1.7,0 1.6,1.24 0,0.61 1.7,0 1.6,0 1.7,0.62 1.7-0.62 0,0.62 1.6,1.23 1.7-1.85 1.7,1.85 0,0.61 1.6,0 1.7,0.62 0-0.62 1.6,0.62 0,0.61 1.7,1.23 1.7-1.23 0,0.62 1.6,1.23 0,0.61 1.7-1.23 0,1.85 1.6-0.62 1.7,1.23 1.7,1.23 0,0.62 1.6,0.61 1.7,1.23 0-0.61 1.6,1.84" stroke-width="1.70"/><path d="M1207.5 1157.72l1.7,0 0,3.32 1.7,0 0,1.66 1.6,0 1.7,3.32 0-1.66 0,3.32 1.7,4.99 0-4.99 0,4.99 1.6,1.66 0,1.66 1.7,1.66 0,1.66 0,1.66 0,3.32 1.6,1.66 0-3.32 0,3.32 1.7,3.33 0,4.98 0-1.66 1.7,0 0,3.32 0,3.32 1.6-1.66 0,1.66 0,3.32 1.7,1.67 0,4.98 0,1.66 0-1.66 0,3.32 1.6,0 0,1.66 0,4.98 1.7-1.66 0,9.97 0-4.98 1.7,4.98 0,3.32 0-1.66 0,1.66 1.6,0 0,1.66 1.7,3.32 0,3.33 1.6-1.67" stroke-width="1.70"/><path transform="scale(1 2)" d="M1237.4 618.72l1.7,0 0-0.83 1.7-1.66 0,0.83 1.6-0.83 0-0.83 1.7,0 0-2.49 0-0.83 1.7,0 1.6,1.66 1.7-0.83 0,2.49 1.6-0.83 1.7,0 0,2.49 1.7-0.83 1.6,1.66 1.7-0.83 1.6,1.66 1.7-0.83 1.7-0.83 1.6,0 1.7-0.83 1.6,0 1.7,0 1.7-0.83 1.6,0.83 1.7,1.66 0-1.66 1.6,0 1.7,1.66 1.7,0 0,0.83 1.6,0 0,0.83 1.7,0 1.7,1.66 0,0.83 1.6,0 0-0.83 1.7,0.83 0,4.16 1.6-2.49 1.7,0.83" stroke-width="1.70"/></g><g font-family="Liberation Sans, sans-serif" fill="#000"><text transform="translate(307.00 978.00) rotate(-90)" x="-2.27" y="0" font-size="29.60" textLength="209.54" lengthAdjust="spacingAndGlyphs">Kraft / Force in N</text></g></svg><span class="t" style="left:323.10px;top:401.34px;font-size:29.60px;line-height:29.60px;transform:scaleX(1.0098);">200</span><span class="t" style="left:322.29px;top:616.54px;font-size:29.60px;line-height:29.60px;transform:scaleX(1.0266);">150</span><span class="t" style="left:322.29px;top:830.14px;font-size:29.60px;line-height:29.60px;transform:scaleX(1.0266);">100</span><span class="t" style="left:323.41px;top:1044.24px;font-size:29.60px;line-height:29.60px;transform:scaleX(1.0071);">50</span><span class="t" style="left:323.41px;top:1259.54px;font-size:29.60px;line-height:29.60px;transform:scaleX(1.0318);">0</span><span class="t" style="left:384.36px;top:1334.54px;font-size:29.60px;line-height:29.60px;transform:scaleX(0.9894);">0</span><span class="t" style="left:617.71px;top:1334.54px;font-size:29.60px;line-height:29.60px;transform:scaleX(1.0165);">10</span><span class="t" style="left:858.50px;top:1334.54px;font-size:29.60px;line-height:29.60px;transform:scaleX(1.0073);">20</span><span class="t" style="left:1100.38px;top:1334.54px;font-size:29.60px;line-height:29.60px;transform:scaleX(0.9954);">30</span><span class="t" style="left:615.35px;top:1374.14px;font-size:29.60px;line-height:29.60px;transform:scaleX(0.9674);">Durchbiegung / Flexure in mm</span><span class="t" style="left:332.99px;top:336.84px;font-size:29.60px;line-height:29.60px;">62855320 ...</span><span class="t" style="left:639.37px;top:336.84px;font-size:29.60px;line-height:29.60px;transform:scaleX(0.9770);">Unterscheidung der Proben durch Farben</span>
<svg style="left:1332.70px;top:328.60px" width="22.00" height="24.00" viewBox="1332.70 328.60 22.00 24.00" ><defs><radialGradient id="z4" cx="40%" cy="35%" r="70%"><stop offset="0" stop-color="#eef1ff"/><stop offset="1" stop-color="#9aa9f6"/></radialGradient></defs><rect x="1332.7" y="328.6" width="19.6" height="21.6" fill="#dcd8d0"/><path d="M1353.0 328.6 v22.4 h-20.6" stroke="#262626" stroke-width="1.7" fill="none"/><path d="M1346.3 343.2 l5.2 5.2" stroke="#5e5546" stroke-width="2.2"/><circle cx="1341.8" cy="338.4" r="7" fill="url(#z4)" stroke="#6c6252" stroke-width="1.5"/><path d="M1337.5 338.4 h8.6 M1341.8 334.1 v8.6" stroke="#5a5040" stroke-width="1.5"/></svg>
<div class="b" style="left:1355.20px;top:328.40px;width:9.00px;height:1090.60px;background:linear-gradient(to right,#e6e3dc 0%,#dedbd3 35%,#cfcbc1 65%,#b3ada2 90%,#a8a297 100%);"></div>
<div class="b chart-panel-r" style="left:1364.00px;top:328.40px;width:762.00px;height:779.60px;background:#fff;"></div>
<svg style="left:1370px;top:330px" width="45" height="50" viewBox="1370 330 45 50"><g fill="none" stroke="#3f93e6" stroke-width="2.00" stroke-linejoin="round"><path d="M1385.1 354.8 L1392.9 350.3 L1406.2 357.0 M1392.9 335.9 L1392.9 350.3" opacity="0.5" stroke-width="1.60"/><polygon points="1385.1,340.4 1392.9,335.9 1406.2,342.6 1398.9,347.4"/><path d="M1385.1 354.8 L1398.9 361.8 L1406.2 357.0"/><path d="M1385.1 340.4 L1385.1 354.8"/><path d="M1406.2 342.6 L1406.2 357.0"/><path d="M1398.9 347.4 L1398.9 361.8"/></g><g fill="none" stroke="#3f93e6" stroke-width="2.00" stroke-linejoin="round"><path d="M1376.3 368.1 L1383.7 363.5 L1398.3 370.4 M1383.7 349.1 L1383.7 363.5" opacity="0.5" stroke-width="1.60"/><polygon points="1376.3,353.7 1383.7,349.1 1398.3,355.9 1390.7,360.7"/><path d="M1376.3 368.1 L1390.7 375.2 L1398.3 370.4"/><path d="M1376.3 353.7 L1376.3 368.1"/><path d="M1398.3 355.9 L1398.3 370.4"/><path d="M1390.7 360.7 L1390.7 375.2"/></g></svg>
<svg class="chart-right" style="left:1364px;top:328px" width="762" height="780" viewBox="1364 328 762 780"><g stroke="#000" stroke-width="1.7" fill="none"><path d="M1461.2 372.5 V1024.3 M1460.4 1023.5 H2090.5"/><g stroke-dasharray="5 4.96"><path d="M1473 1003.8 H2090.5"/><path d="M1473 852.6 H2090.5"/><path d="M1473 701.5 H2090.5"/><path d="M1473 550.4 H2090.5"/><path d="M1473 399.2 H2090.5"/><path d="M1587.0 374 V1012"/><path d="M1713.1 374 V1012"/><path d="M1839.2 374 V1012"/><path d="M1965.2 374 V1012"/></g><path d="M1449 1003.8 H1473.5M1453.8 973.5 H1466.3M1453.8 943.3 H1466.3M1453.8 913.1 H1466.3M1453.8 882.9 H1466.3M1449 852.6 H1473.5M1453.8 822.4 H1466.3M1453.8 792.2 H1466.3M1453.8 762.0 H1466.3M1453.8 731.7 H1466.3M1449 701.5 H1473.5M1453.8 671.3 H1466.3M1453.8 641.0 H1466.3M1453.8 610.8 H1466.3M1453.8 580.6 H1466.3M1449 550.4 H1473.5M1453.8 520.1 H1466.3M1453.8 489.9 H1466.3M1453.8 459.7 H1466.3M1453.8 429.5 H1466.3M1449 399.2 H1473.5M1486.2 1015.5 V1029M1511.4 1015.5 V1029M1536.6 1015.5 V1029M1561.8 1015.5 V1029M1587.0 1011.5 V1031M1612.3 1015.5 V1029M1637.5 1015.5 V1029M1662.7 1015.5 V1029M1687.9 1015.5 V1029M1713.1 1011.5 V1031M1738.3 1015.5 V1029M1763.5 1015.5 V1029M1788.7 1015.5 V1029M1813.9 1015.5 V1029M1839.2 1011.5 V1031M1864.4 1015.5 V1029M1889.6 1015.5 V1029M1914.8 1015.5 V1029M1940.0 1015.5 V1029M1965.2 1011.5 V1031M1990.4 1015.5 V1029M2015.6 1015.5 V1029M2040.8 1015.5 V1029M2066.0 1015.5 V1029"/></g><g stroke="#0000ff" stroke-width="1.7" fill="none"><path d="M1461 975.2 H1539.5 M1461 986 H1876 V1017"/><circle cx="1541" cy="1022.3" r="4.6"/><circle cx="1875.8" cy="1022.3" r="4.6"/></g><path d="M1459 969 l4.5 -2 l3 3 l-2 4 l3 3 l-3.5 4 l2.5 4 l-4 3 l-4.5 -3.5 l1 -4 l-2 -4 l2.5 -3.5 z" fill="#0000ff"/><g stroke="#00135f" fill="none" stroke-linejoin="miter" stroke-miterlimit="1.6" stroke-linecap="square"><path d="M1461.7 988.30l1.6,0 1.7,1.66 0,1.66 1.7-3.32 1.6,1.66 1.7,0 1.6,0 1.7,1.66 1.7,0 0,1.66 1.6-1.66 1.7,3.32 1.7-1.66 1.6,1.66 1.7,1.66 1.6,0 1.7,0 1.7,1.66 0,1.66 1.6,0 1.7,3.32 1.6-1.66 0,1.66 1.7,0 1.7,0 1.6,0 1.7,3.33 1.6,1.66 1.7,1.66 1.7-1.66 1.6-1.66 0,3.32 1.7,0 1.6-1.66 1.7,1.66 1.7,1.66 1.6,0 1.7,0 1.7-1.66 1.6,1.66 1.7-1.66 1.6,1.66 1.7-1.66 1.7,1.66 1.6,0 1.7,0 1.6-1.66 1.7,0 0-1.66 1.7,1.66 1.6-1.66 1.7,0 0-1.66 0-1.67 0-1.66 0-1.66 1.6,0 0-1.66 0-1.66 0-3.32 0-1.66 0-1.66 0-3.32 0-1.67 0-1.66 0-1.66 1.7,0 0-3.32 0-3.32 0-3.32 0-1.66 0-1.67 0-1.66 0-3.32 0-3.32 0-3.32 0-1.66 0-3.33 0-1.66 0-1.66 0-1.66 0-1.66 0-1.66 0-1.66 0-1.66 0-1.66 0-1.66 1.7-1.67 0-1.66 0-3.32 0-1.66 0-1.66 0-1.66 0,1.66 0-4.98 0-1.66 0-3.33 0-1.66 0-1.66 0-1.66 0-1.66 0-1.66 0-1.66 0-1.66 0-1.66 0-1.67 0-1.66 0-3.32 0,1.66 0-3.32 1.6,0 0-1.66 0-3.32 0-1.66 0-1.67 0-1.66 0-1.66 0-3.32 0-1.66 0-3.32 0-1.66 0-1.66 0-1.67 0-1.66 0-3.32 0-1.66 0-1.66 0-3.32 1.7,1.66 0-3.32 0-1.66 0-3.33 0-1.66 0-3.32 0-3.32 0-1.66 0-1.66 0-1.66 0-1.66 0-1.67 0-1.66 0-1.66 0-3.32 0-1.66 1.7-1.66 0-1.66 0-1.66 0-1.66 0-1.67 0-1.66 0-1.66 0-3.32 0-4.98 0-1.66 0-1.66 0-3.33 0-3.32 0-1.66 0-1.66 0-1.66 1.6-1.66 0-1.66 0-1.66 0-1.67 0-1.66 0-1.66 0-1.66 0-1.66 0-3.32 0-3.32 0,1.66 0-4.99 0,1.67 0-3.33 0-3.32 0-3.32 1.7,0 0-3.32 0-1.66 0-1.67 0-1.66 0-3.32 0-1.66 0-3.32 0-1.66 0-3.32 0-1.67 1.6-3.32 0-1.66 0-3.32 0-1.66 0-3.32 0-1.66 0-4.99 0-3.32 1.7,0 0-3.32 0-1.66 0-4.98 0,1.66 0-3.33 0-1.66 0-1.66 0-1.66 1.7,0 0-3.32 0-1.66 0-1.66 0-4.99 0-1.66 0-1.66 0-3.32 0-1.66 1.6,0 0-3.32 0-3.32 0-3.33 0,1.66 0-3.32 0-3.32 0-1.66 0-1.66 0-1.66 0-1.66 0-1.66 0-1.67 1.7-1.66 0-3.32 0-3.32 0-1.66 0-3.32 0,1.66 0-1.66 0-3.33 0-1.66 0-1.66 0-1.66 0-1.66 0-3.32 1.6-1.66 0-1.66 0-1.66 0-1.67 0-1.66 0-3.32 0-3.32 0-3.32 0-1.66 0-3.33 0-1.66 1.7,0 0-1.66 0-1.66 0-3.32 0-1.66 0-1.66 0,1.66 0-3.32 0-3.33 0,1.66 0-3.32 0-1.66 0-3.32 1.7-1.66 0-3.32 0-1.66 0-1.67 0-3.32 0-1.66 0-3.32 0-3.32 1.6-1.66 0-1.66 0-1.66 0-1.67 0-4.98 0,1.66 0-4.98 1.7-1.66 0-1.66 0-1.66 0-1.66 0-3.33 0,1.66 0-4.98 0-1.66 0-1.66 0-1.66 0-1.66 1.6-1.66 0-1.66 0-1.67 0-1.66 0-3.32 0-1.66 0-1.66 0-1.66 0-1.66 1.7-3.32 0,1.66 0-1.66 0-3.33 0-1.66 0-1.66 0-1.66 1.7-3.32 0-1.66 0-1.66 0-1.66 0-1.67 0-1.66 1.6-3.32 0,1.66 0-3.32 0-1.66 0-1.66 0-3.32 1.7-1.67 0-1.66 0-3.32 0-1.66 0-1.66 0-1.66 1.7,0 0-1.66 0-1.66 0-3.32 0-1.67 0-1.66 1.6-1.66 0-1.66 0-1.66 0-1.66 0-1.66 1.7-1.66 0-1.66 0-1.66 0-1.67 0-1.66 1.6-3.32 0-1.66 0-1.66 1.7,0 0-3.32 0-1.66 0-1.66 1.7,0 0-1.67 0-1.66 1.6-1.66 0-1.66 1.7-1.66 0-1.66 0-1.66 1.6-1.66 1.7,0 1.7-4.99 1.6,1.66 1.7-1.66 1.6,1.66 1.7,0 1.7,1.67 1.6,1.66 1.7,0 0,1.66 1.6,1.66 1.7,0 1.7,1.66 0,1.66 0,1.66 1.6,0 0,3.32 0,1.67 1.7,3.32 0,1.66 0,3.32 0,1.66 1.7,0 0,1.66 0,1.66 0,3.33 0,1.66 0,3.32 0,1.66 1.6,1.66 0,3.32 0-1.66 0,3.32 0,1.66 0,3.33 0,1.66 0,1.66 0,1.66 0,1.66 0,1.66 0,1.66 0,1.66 1.7,1.66 0,1.66 0,3.33 0,1.66 0,1.66 0,3.32 0,1.66 0,1.66 0,1.66 0,3.33 1.6,3.32 0,1.66 0,3.32 0,1.66 0,1.66 0,1.66 0,3.33 0,1.66 0,1.66 0,1.66 1.7,1.66 0,4.98 0-1.66 0,3.32 0,1.67 0,1.66 0,3.32 1.7,0 0,3.32 0,1.66 0,3.32 0,3.33 1.6,1.66 0,3.32 0,1.66 0,3.32 0,3.32 0-3.32 0,3.32 0,3.33 1.7,0 0,1.66 0,1.66 0,1.66 0,1.66 0,3.32 0,1.66 1.6,3.32 0,1.66 0,3.33 0,1.66 1.7,1.66 0,3.32 0,1.66 0,1.66 0,1.66 0,3.33 1.7,1.66 0,1.66 0,1.66 0,1.66 0,1.66 1.6,3.32 0,1.66 0,1.66 0,1.67 0,1.66 0,1.66 1.7,0 0,1.66 0,1.66 0,1.66 0,1.66 0,1.66 1.6,0 0,3.33 0,3.32 0,1.66 0,3.32 1.7,0 0,1.66 0,1.66 0,3.32 1.7,1.67" stroke-width="4.60"/><path transform="scale(1 1.18)" d="M1641.1 541.94l0,1.4 0,1.41 0,1.41 1.6,2.81 0,1.41 0,1.41 0,1.41 0,1.41 1.7,1.4 0,1.41 0,1.41 0,1.41 1.7,1.4 0,2.82 0,2.81 0,1.41 1.6,0 0,2.82 0,1.4 0,2.82 1.7,0 0,1.41 0,1.4 0,1.41 0,1.41 1.6,2.82 0,1.4 0,2.82 0-1.41 1.7,2.82 0,1.4 0,1.41 0,1.41 1.7,0 0,2.81 0,2.82 0,1.41 1.6,1.4 0,1.41 0,1.41 1.7,2.81 0,1.41 0,2.82 1.6,1.41 0,2.81 0,1.41 1.7,1.41 0,2.81 0,1.41 0,1.41 1.7,0 0,1.4 0,1.41 1.6,1.41 0,2.81 0,2.82 1.7,0 0,1.41 1.6,2.81 0,1.41 0,1.41 0,1.41 1.7,0 0,2.81 1.7,1.41 0,2.81 1.6,0 0,2.82 1.7,1.41 0,1.4 1.6,2.82 0,1.41 0-1.41 1.7,1.41 0,2.81 1.7,1.41 0,2.82 0-1.41 0,2.81 1.6,0 0,2.82 1.7,1.41 0,1.4 1.7,1.41 0,2.82 1.6,0 0,2.81 1.7,1.41 0,1.41 1.6,1.4 0-1.4 0,1.4 1.7,2.82 0,1.41 1.7,1.4 0,1.41 0-1.41 1.6,1.41 0,1.41 1.7,1.41 0,2.81 1.6,1.41 1.7,1.41 0,2.81 0-1.4 1.7,2.81 1.6,1.41 0,1.41 1.7,1.4 0,2.82 1.6-1.41 0,1.41 1.7,1.41 1.7,1.4 1.6,2.82 1.7,2.82 1.7,0 0,4.22 1.6,0 0,1.41 1.7,0 0,1.4 0,1.41 1.6,0 0,2.82 1.7,0 0,1.4 1.7,1.41 1.6,0 0,2.82 1.7,1.4 0-1.4 1.6,2.81 0,1.41 1.7,0 1.7,2.81 1.6,1.41 0,1.41 1.7,1.41 1.6,1.41 0,2.81 1.7,0 1.7,1.41 1.6,2.81 1.7,1.41 0,1.41 1.6,1.41 0,1.4 0,1.41 1.7,1.41 1.7,0 0,2.81 1.6,1.41 1.7,1.41 0,1.41 0,1.4 1.7,1.41 1.6,1.41 1.7,1.41 0,1.41 1.6,1.4 1.7,1.41 1.7,1.41" stroke-width="4.60"/><path transform="scale(1 1.6)" d="M1760.7 578.24l0,1.03 1.6,0 0,1.04 1.7,0 1.6,2.08 1.7,0 0,1.04 1.7,1.03 1.6,1.04 1.7,2.08 0-1.04 1.6,1.04 1.7,1.04 1.7,0 0,2.07 1.6-1.04 1.7,1.04 1.7,0 0,1.04 1.6,0 1.7,0 1.6,1.04 1.7,0 1.7,0 1.6,1.04 1.7,0 1.6,0 1.7,1.04 1.7,0 1.6,1.03 1.7,0 1.6,1.04 1.7-1.04 1.7,0 1.6-1.03 1.7,1.03 1.7-1.03 1.6,0 1.7,0 1.6,0 1.7,0 1.7-1.04 1.6,0 1.7,0 1.6-1.04 1.7,1.04 1.7-2.08 1.6,1.04 1.7,1.04 1.6-2.08 1.7,2.08 1.7-1.04 1.6,1.04 1.7,0 1.6,1.04 1.7-1.04 1.7,1.04 1.6,0 0,1.03 1.7,0 1.7,0 1.6,2.08 1.7-2.08 1.6,1.04 1.7,1.04 1.7,1.04 1.6,2.07 1.7,0 1.6,2.08 1.7,1.04 0,1.04 1.7,0 0,2.07 1.6,0 0-1.04 1.7,3.12 0-1.04 1.6,1.04 0,2.08 1.7,0 0,1.03 1.7,1.04 0,1.04 1.6,0 1.7,1.04 0-1.04 1.7,2.08 1.6,1.03 1.7,0 1.6,1.04 1.7-1.04 1.7,2.08 1.6,0 1.7,0 1.6,1.04 1.7,0 1.7,2.08 0-1.04 1.6,0 1.7,1.04 1.6,1.03 0-1.03 1.7,2.07 1.7,0 1.6,1.04 1.7,0 1.7,1.04 1.6,1.04 0,1.03 1.7,0 1.6,0" stroke-width="4.60"/></g><g stroke="#800080" fill="none" stroke-linejoin="miter" stroke-miterlimit="1.6" stroke-linecap="square"><path d="M1461.7 989.96l1.6,0 1.7,0 0,1.66 1.7-1.66 1.6,0 1.7,1.66 1.6,0 1.7,0 1.7,1.66 1.6,1.66 1.7,0 1.7,0 1.6,0 1.7,0 0,1.66 1.6,1.66 1.7,0 1.7,1.66 1.6,0 1.7,1.66 1.6,1.66 0,1.66 1.7,0 1.7,0 1.6,1.67 1.7,0 1.6,1.66 1.7,0 1.7,0 1.6,1.66 1.7,1.66 1.6,0 1.7-1.66 1.7,1.66 1.6,0 1.7,0 1.7,0 1.6,0 0,1.66 1.7-1.66 1.6,0 1.7,0 1.7,0 1.6,0 1.7-1.66 1.6,0 0-3.32 1.7,1.66 0-3.33 1.7-1.66 1.6,0 0-3.32 0-1.66 1.7-3.32 0-1.66 0-1.66 0-3.32 0-1.67 0-1.66 0-1.66 0-3.32 0-3.32 1.6-1.66 0-1.66 0-1.66 0-1.67 0-3.32 0-1.66 0-1.66 0-1.66 0-1.66 0-3.32 0-1.66 0-1.67 0-1.66 0-1.66 0-3.32 0-1.66 1.7-3.32 0-3.32 0-1.67 0-3.32 0-1.66 0-3.32 0-1.66 0-3.32 0,1.66 0-1.66 0-3.33 0-1.66 0-4.98 0-3.32 0-1.66 0-3.32 0-3.33 0-1.66 1.7,0 0-3.32 0-3.32 0-1.66 0-4.99 0-1.66 0-1.66 0-3.32 0-1.66 0-1.66 0-1.66 0-3.33 0-1.66 0-3.32 0-1.66 1.6-1.66 0-1.66 0-3.32 0-1.66 0-1.67 0-1.66 0-3.32 0-1.66 0-1.66 0-1.66 0-3.32 0-1.66 0-1.66 0-3.33 0-1.66 0-3.32 1.7-1.66 0-1.66 0-1.66 0-1.66 0-3.33 0-3.32 0-1.66 0-1.66 0-1.66 0-1.66 0-1.66 0-1.66 0-1.66 0-3.33 0-1.66 1.7-4.98 0-1.66 0-1.66 0-3.32 0,1.66 0-4.99 0-1.66 0-1.66 0-1.66 0-1.66 0-1.66 0-3.32 0,1.66 0-3.32 0,1.66 0-4.99 0-3.32 1.6-3.32 0-1.66 0-1.66 0-1.66 0-3.33 0-3.32 0-3.32 0-3.32 0-1.66 0-3.33 0-1.66 1.7,0 0-1.66 0-1.66 0-1.66 0-1.66 0-1.66 0-1.66 0-3.32 0-1.67 0-3.32 0-3.32 1.6-1.66 0-1.66 0-1.66 0-1.66 0,1.66 0-4.98 0-1.67 0-3.32 0,1.66 0-3.32 1.7-3.32 0-1.66 0-1.66 0-1.66 0-3.33 0-1.66 0-1.66 0-3.32 0-1.66 0-1.66 1.7-1.66 0-1.66 0-3.33 0-1.66 0-1.66 0-1.66 0-1.66 0-3.32 0-1.66 0-1.66 0-1.66 0-3.33 0-1.66 1.6-1.66 0-1.66 0-1.66 0-1.66 0-1.66 0-1.66 0-1.66 0-1.67 0-1.66 0-1.66 0-1.66 0-1.66 0-1.66 0-1.66 0-3.32 1.7,0 0-1.66 0-1.67 0-1.66 0-1.66 0-3.32 0-1.66 0-1.66 0-4.99 0-3.32 0,1.66 0-3.32 1.6-1.66 0-1.66 0-3.32 0-1.66 0-1.66 0-1.67 0-3.32 0-1.66 0-3.32 1.7-1.66 0-1.66 0-1.66 0-1.66 0-1.67 0-1.66 0-3.32 0-1.66 0-1.66 0-1.66 0-1.66 1.7-1.66 0-3.32 0-1.67 0-1.66 0-1.66 0-1.66 0-1.66 0-1.66 0-1.66 1.6-1.66 0-1.66 0-1.66 0-3.33 0-3.32 0-1.66 0-1.66 0-1.66 0-3.32 1.7-1.66 0-1.67 0,1.67 0-3.33 0-1.66 0-1.66 0-3.32 0-1.66 0-1.66 0-3.32 1.6-3.33 0-1.66 0-1.66 0-1.66 0-3.32 0-1.66 0-1.66 0-1.66 0-1.67 1.7-3.32 0,1.66 0-1.66 0-3.32 0-1.66 0-1.66 0-1.66 0-1.66 1.7-1.67 0-1.66 0-1.66 0-1.66 0-1.66 0-1.66 0-1.66 0-1.66 1.6-1.66 0-1.66 0-1.66 0-3.33 0-1.66 0-1.66 1.7-1.66 0-3.32 0,1.66 0-1.66 0-1.66 0-3.32 1.7-1.67 0-1.66 0-4.98 0,1.66 1.6-3.32 0-3.32 1.7-1.66 0,1.66 0-3.32 1.6,0 1.7-1.67 1.7,0 1.6,3.33 0-1.66 1.7,1.66 0,3.32 1.6,3.32 1.7,1.66 0,1.66 0,3.32 1.7,1.67 0,1.66 0,1.66 0,1.66 1.6,1.66 0,1.66 0,1.66 0,1.66 1.7,1.66 0,1.66 0,1.67 0,3.32 1.6,0 0,1.66 0,3.32 0-1.66 0,3.32 0,1.66 1.7,0 0,3.32 0,1.66 0-1.66 0,1.66 0,3.33 1.7,0 0,3.32 0,1.66 0,1.66 1.6,1.66 0,1.66 0,3.33 0,1.66 0,1.66 1.7,1.66 0,1.66 0,1.66 0,3.32 0,1.66 1.6,0 0,1.66 0,1.67 0,1.66 0,1.66 1.7,0 0,3.32 0,1.66 0,1.66 1.7,3.32 0,1.66 0,1.67 0,3.32 1.6,0 0,1.66 0,1.66 0,1.66 0,3.32 0,3.32 1.7,0 0,3.33 0,1.66 0,1.66 0,1.66 0,3.32 1.7,1.66 0,1.66 0,3.33 0-1.67 0,3.33 0,1.66 1.6,3.32 0,1.66 0,1.66 0,1.66 0,1.66 0,3.32 1.7,1.67 0,1.66 0,3.32 0,1.66 1.6,1.66 0,3.32 0,1.66 0,3.33 0,3.32 0,1.66 1.7-1.66 0,1.66 0,3.32 0,1.66 0,3.32 1.7,3.33 0,1.66 0,3.32 0,3.32 1.6,0 0,1.66 0,1.66 0,1.66 1.7,3.33 0,1.66 0,1.66 0,1.66 0,1.66 1.6,3.32 0-1.66 0,4.98 0,4.99 1.7-1.66 0,3.32 0,1.66 0-1.66 0,3.32 1.7,1.66 0,1.66 0,1.66 0,3.33 1.6,1.66 0,1.66 0,1.66 0,1.66 1.7,1.66 0,1.66 0,1.66 0,1.66 0,1.66 1.6,1.67 0,1.66 0,1.66 0,1.66 0,1.66 1.7,1.66 0,1.66 0,3.32 0,1.66 1.7,0" stroke-width="2.20"/><path transform="scale(1 1.3)" d="M1641.1 528.96l0,1.28 0,2.56 0,1.28 0,1.27 1.6,1.28 0,2.56 0,1.27 0,1.28 1.7,1.28 0,1.28 0,1.27 0,1.28 1.7,1.28 0,2.56 0,1.27 0,2.56 1.6,1.28 0,2.55 0,1.28 0,1.28 1.7,0 0,1.27 0,1.28 0,1.28 0,1.28 1.6,1.28 0,1.27 0,1.28 0,1.28 1.7,1.28 0,2.55 0,1.28 1.7,1.28 0,1.27 0,1.28 0,2.56 1.6,1.28 0,1.27 0,1.28 1.7,1.28 0,2.55 0,1.28 0,1.28 1.6,1.28 0,1.27 1.7,1.28 0,1.28 0,2.56 1.7,0 0,1.27 0,2.56 1.6,1.28 0,1.27 1.7,2.56 0,1.28 1.6,1.27 0,1.28 0,2.56 1.7,1.28 1.7,3.83 1.6,2.55 0,1.28 1.7,1.28 0,1.28 0,2.55 1.6,0 0,1.28 1.7,0 0,3.83 0-2.55 1.7,1.28 0,1.27 1.6,2.56 1.7,2.55 0,1.28 1.7,0 1.6,1.28 0,1.28 1.7,1.27 0,1.28 0,1.28 1.6,0 0,1.28 1.7,1.28 0,2.55 1.7-1.28 0,3.84 1.6-1.28 1.7,1.28 0,2.55 1.6,0 0,2.56 1.7-1.28 0,2.55 1.7,1.28 1.6,0 0,1.28 1.7,1.28 1.6,1.28 1.7,0 0,2.55 1.7,0 1.6,2.56 1.7,2.55 0,1.28 0,1.28 1.7,0 0,1.27 1.6,1.28 0,1.28 1.7,0 0,1.28 1.6,2.55 1.7-1.27 0,1.27 1.7,1.28 0,1.28 1.6-1.28 0,1.28 1.7,1.28 1.6,1.27 0,1.28 1.7,1.28 1.7,0 1.6,1.28 0,1.27 1.7,0 0,2.56 1.6-1.28 0,2.56 1.7,1.28 1.7-1.28 0,3.83 1.6-1.28 0,1.28 1.7,1.28 0,1.28 1.6-1.28 0,1.28 1.7,2.55 0,1.28 1.7,0 0,1.28 0,1.27 1.6,1.28 1.7,2.56 0,1.28 1.7,1.27 0-1.27 1.6,1.27 0,1.28 1.7,1.28 0,1.28 1.6,0 0,1.27 1.7,1.28 1.7,0" stroke-width="2.20"/><path transform="scale(1 2)" d="M1760.7 470.89l0,0.83 1.6,1.66 1.7,0.84 1.6,0 1.7,0.83 0,0.83 1.7,0 1.6,0.83 0,0.83 1.7,0 1.6,0 0,0.83 1.7,0.83 1.7-0.83 1.6,1.66 1.7,1.66 1.7-0.83 1.6,0 1.7,1.66 0-0.83 1.6,0 1.7,0.83 1.7,0 1.6,0 1.7,0.83 1.6,0 0,0.83 1.7-0.83 1.7,1.66 1.6-1.66 1.7,0.83 1.6-0.83 1.7,0.83 1.7,0 1.6,0 1.7-0.83 1.7-0.83 1.6,1.66 1.7-0.83 1.6-0.83 1.7,0 1.7,0 1.6-1.66 1.7,0 1.6,0 1.7,0 1.7-0.83 1.6,0 1.7,0.83 1.6-0.83 1.7,0 1.7-0.83 0,0.83 1.6,0 1.7,0 1.6,0.83 1.7-0.83 1.7,0.83 1.6,0 1.7-0.83 0,1.66 1.7-0.83 1.6,0 1.7,0.83 1.6,1.66 0-0.83 1.7,0.83 1.7,0 1.6,0.83 1.7,0.83 1.6,0.83 1.7,1.66 1.7,0 0,1.66 1.6,0 1.7,0 0,1.67 1.6,0 1.7,0.83 0,0.83 1.7,1.66 1.6-0.83 0,0.83 1.7,0 1.7,0.83 1.6,0 1.7,0.83 1.6,0 1.7,0.83 1.7,0.83 1.6,0 1.7,0 1.6,0.83 1.7,0.83 1.7,0 1.6,1.66 1.7,0 1.6-0.83 1.7,1.66 0-0.83 1.7,1.66 1.6,0.83 1.7-0.83 1.7,0.83 1.6,0.83 1.7,0 1.6,0.83" stroke-width="2.20"/></g><g stroke="#008080" fill="none" stroke-linejoin="miter" stroke-miterlimit="1.6" stroke-linecap="square"><path d="M1461.7 988.30l1.6,0 1.7,0 0,1.66 1.7-1.66 1.6,0 1.7,0 1.6,1.66 1.7,1.66 1.7,0 0-1.66 1.6,3.32 1.7-1.66 1.7,1.66 1.6,0 1.7,1.66 0,1.66 1.6-1.66 1.7,1.66 1.7,1.66 0-1.66 1.6,1.66 1.7,1.66 1.6,0 1.7,1.66 1.7,1.66 1.6,0 1.7,3.33 1.6,0 1.7,0 1.7,1.66 1.6-1.66 0,3.32 1.7,0 1.6-3.32 1.7,1.66 1.7,1.66 1.6,0 1.7-1.66 1.7,0 1.6,1.66 1.7-1.66 1.6,1.66 1.7,0 1.7,1.66 1.6-1.66 1.7,0 1.6-1.66 1.7,0 0,1.66 1.7,0 1.6,0 1.7-3.32 0-1.67 1.6-1.66 0-3.32 0-1.66 1.7,0 0-3.32 0-1.66 0-1.66 0-1.66 0-1.66 0-1.67 0-1.66 0-3.32 0-3.32 0-1.66 0-1.66 0-1.66 0-3.33 0,1.67 0-3.33 0-1.66 0-3.32 1.7,0 0-1.66 0-3.32 0-1.66 0-1.66 0-1.67 0-4.98 0-1.66 0-1.66 0-3.32 0-1.66 0-1.66 0-1.67 0-1.66 0-3.32 0,1.66 0-3.32 0-1.66 0-1.66 0-1.66 0-4.99 0,3.33 0-3.33 0-1.66 1.6-1.66 0-1.66 0-3.32 0-3.32 0-3.32 0-1.67 0-1.66 0-3.32 0-1.66 0-1.66 0-1.66 0-1.66 0-1.66 0-1.67 0-1.66 0-1.66 0-1.66 0-1.66 1.7-1.66 0-1.66 0-1.66 0-1.66 0-3.33 0-1.66 0-1.66 0-1.66 0-1.66 0-3.32 0-1.66 0-1.66 0-1.66 0-1.67 0-1.66 0-1.66 0-3.32 0-1.66 1.7-1.66 0-1.66 0-1.66 0-1.66 0-1.66 0-3.33 0-1.66 0-1.66 0-3.32 0-1.66 0-3.32 0-1.66 0-3.33 0-1.66 0-1.66 1.6-1.66 0-1.66 0-1.66 0-1.66 0-3.32 0-1.67 0-3.32 0-1.66 0,1.66 0-3.32 0-1.66 0-1.66 0-3.32 0-4.99 0,3.33 0-3.33 0-3.32 1.7-1.66 0-1.66 0-3.32 0-1.66 0-4.99 0-1.66 0-1.66 0-3.32 0-1.66 0-1.66 0-3.33 0-1.66 1.6-1.66 0-1.66 0-1.66 0-1.66 0-1.66 0-3.32 0-3.33 0-3.32 0-1.66 0-3.32 0-3.32 1.7,0 0-1.66 0-3.33 0-1.66 0-3.32 0,1.66 0-3.32 0-1.66 0-1.66 1.7-4.98 0-1.66 0-1.67 0-3.32 0-1.66 0-1.66 0-4.98 1.6-1.66 0-1.66 0-1.67 0-1.66 0-3.32 0-1.66 0-3.32 0-1.66 0-1.66 1.7-1.66 0-3.33 0-1.66 0,1.66 0-4.98 0-3.32 0-1.66 0-1.66 0-1.66 0-1.67 0-3.32 0,1.66 0-3.32 0-1.66 0-1.66 1.6-1.66 0-1.66 0-1.66 0-1.66 0-1.67 0-1.66 0-1.66 0-1.66 0-1.66 0-1.66 0-1.66 0-1.66 0-1.66 0-1.66 0-1.67 1.7-1.66 0-1.66 0-1.66 0-1.66 0-1.66 0-3.32 0-3.33 0,1.67 0-3.33 0-3.32 0-3.32 1.7-1.66 0-3.32 0-1.66 0-1.67 0-1.66 0-3.32 0,1.66 0-3.32 0-1.66 0-1.66 0-1.66 0-1.66 1.6-1.66 0-1.67 0-3.32 0-1.66 0-1.66 0-1.66 0-3.32 0-1.66 0-1.66 1.7-1.66 0-3.33 0-1.66 0-1.66 0-3.32 0-1.66 0-1.66 0-3.32 1.6,1.66 0-4.99 0-3.32 0-1.66 0-1.66 0-3.32 0-1.66 0-1.66 0-1.67 1.7-1.66 0-1.66 0-1.66 0-3.32 0-1.66 0-1.66 0-1.66 0-1.66 0-1.67 1.7,0 0-3.32 0-1.66 0-1.66 0-3.32 0-3.32 1.6-1.66 0-3.33 0-1.66 0-1.66 0-3.32 0-1.66 0-1.66 0-1.66 1.7-1.67 0-1.66 0-3.32 0-1.66 0-1.66 0-1.66 0-1.66 0-3.32 0-1.66 1.7,0 0-3.33 0-3.32 0-1.66 0-3.32 1.6,0 0-3.32 0-3.33 0-3.32 1.7,0 0-4.98 0,1.66 0-1.66 0-1.66 1.6-3.32 0,1.66 0-3.32 0-3.33 0-1.66 1.7,0 0-1.66 0-3.32 0-1.66 1.7,0 0-3.32 0-1.67 0-3.32 1.6,0 0-1.66 0-3.32 1.7-1.66 0-1.66 0-1.66 0-1.66 1.6-1.67 1.7-3.32 0-1.66 1.7-1.66 0-1.66 1.6,0 1.7-3.32 1.6,1.66 1.7,1.66 0-1.66 1.7,0 1.6,0 1.7,0 1.6,0 1.7,0 1.7,0 1.6,0 1.7,1.66 0,1.66 1.7-1.66 1.6,1.66 1.7,1.66 0,3.32 1.6,0 0,3.33 1.7,0 0,3.32 1.7,3.32 0,4.98 0-1.66 1.6,3.32 0,1.66 0,1.67 0,1.66 0,3.32 0,1.66 0,1.66 1.7,1.66 0,1.66 0,3.33 0,3.32 1.6,3.32 0,1.66 0,1.66 0,1.66 0,1.66 0,1.66 0,1.67 1.7,1.66 0,1.66 0,3.32 0,1.66 0-1.66 0,1.66 1.7,4.98 0,1.66 0,1.67 0,3.32 1.6,1.66 0,3.32 0,1.66 0,1.66 1.7,0 0,4.98 0-1.66 0,1.66 0,3.33 0,1.66 1.6-1.66 0,3.32 0,1.66 0,1.66 0,1.66 1.7,3.32 0,1.67 0,1.66 1.7,3.32" stroke-width="2.20"/><path transform="scale(1 1.18)" d="M1641.1 419.47l0,1.41 0,1.41 0,1.41 0,1.4 1.6,1.41 0,1.41 0,1.41 0,1.4 1.7,1.41 0,2.82 0,1.4 0,1.41 1.7,2.82 0,2.81 1.6,1.41 0,1.41 0,1.41 0,1.4 0,1.41 0,1.41 1.7,0 0,2.81 0,1.41 0,2.82 1.6,0 0,1.4 0,2.82 0,1.41 1.7,2.81 0,1.41 0,2.82 0,1.4 1.7,0 0,2.82 0,1.41 0,2.81 0-2.81 1.6,4.22 0,1.41 0,2.81 1.7,2.82 0,1.4 0,1.41 0,1.41 1.6,1.41 0,1.4 0,1.41 0,1.41 0-1.41 1.7,4.23 0-1.41 0,1.41 0,1.4 0,1.41 1.7,1.41 0,2.81 0,1.41 1.6,1.41 0,2.81 0,1.41 1.7,1.41 0,1.41 0,2.81 1.6,0 0,1.41 0,1.41 0,1.4 1.7,1.41 0,1.41 0,1.41 0,1.41 1.7,0 0,2.81 0,2.82 1.6,2.81 0,1.41 0,1.41 1.7,1.4 0,1.41 0-1.41 0,1.41 1.6,2.82 0,1.4 0,1.41 1.7,2.82 1.7,2.81 0,1.41 0,4.22 1.6-1.4 0,1.4 0,1.41 1.7,1.41 0,1.41 1.7,1.4 0,1.41 0,1.41 1.6,1.41 0,1.4 1.7,2.82 0,1.41 1.6,2.81 0,2.82 1.7,1.41 0,2.81 1.7,0 0,1.41 0,2.81 1.6,0 0,1.41 0,2.82 1.7,1.4 0,1.41 0,1.41 1.6,0 0,1.41 0,2.81 1.7,0 0,1.41 0,1.41 0,1.4 1.7,1.41 0,1.41 1.6,1.41 0-1.41 0,1.41 1.7,1.41 0,1.4 0,1.41 1.6,1.41 0,1.41 0,1.4 1.7-1.4 0,2.81 1.7,2.82 0-1.41 0,1.41 0,1.4 1.6,2.82 1.7,1.41 0,2.81 1.7,1.41 0,1.41 0,1.41 1.6,1.4 0,4.23 1.7-1.41 0,1.41 0,1.4 1.6,1.41 0,1.41 1.7,1.41 0,1.4 1.7,1.41 0,1.41 0,1.41 1.6,0 0,1.4 1.7,2.82 0,1.41 1.6,1.4 0,1.41 1.7,1.41 0,1.41 0,1.41 1.7,1.4 0-1.4 1.6,1.4 0,2.82 1.7,1.41 0,1.4 1.6,0 0,2.82 1.7,1.41 0,1.4 1.7,1.41 0,1.41 1.6,1.41 0,1.4 1.7,0 0,2.82 1.6,1.41 0,1.4 1.7,1.41 0,1.41 0,1.41 1.7,1.41 0,1.4 1.6,1.41 0,1.41 0,1.41 1.7,1.4 0,2.82 1.7,0 0,1.41 0,1.4 1.6-1.4 0,2.81 0,1.41 1.7,1.41 1.6,2.81 0,1.41 0,1.41 1.7,1.41 1.7,2.81" stroke-width="2.20"/><path transform="scale(1 1.6)" d="M1760.7 533.60l1.6,2.07 0,1.04 1.7,0 0,2.08 0,1.03 1.6,1.04 1.7,2.08 0,1.04 0,1.04 1.7,0 0,1.03 1.6,1.04 0,2.08 1.7,1.04 1.6,1.03 0,1.04 0,1.04 1.7,0 0,1.04 1.7,0 0,2.07 1.6,0 0,1.04 1.7,1.04 0,1.04 1.7,1.04 1.6,1.04 0,1.03 1.7,0 1.6,1.04 1.7,2.08 1.7,1.04 1.6-1.04 1.7,1.04 1.6,1.03 0-1.03 1.7,2.07 1.7-1.04 1.6,2.08 1.7,0 1.6,0 1.7,0 1.7,0 1.6,1.04 1.7,0 0,1.04 1.7,0 1.6,1.03 1.7,0 1.6,0 1.7,0 0,1.04 1.7,0 1.6,0 1.7,0 1.6,1.04 1.7,1.04 1.7-1.04 1.6,1.04 0-1.04 1.7,0 1.6,0 1.7,1.04 1.7,1.04 1.6,0 1.7,0 1.6,2.07 1.7-1.03 1.7,0 1.6,1.03 0,1.04 1.7,0 1.7,1.04 1.6-1.04 0,1.04 1.7,1.04 1.6,0 1.7,2.07 1.7,0 1.6,2.08 1.7,0 1.6,2.08 0,1.03 0,1.04 1.7,0 0,1.04 1.7,1.04 0,2.08 1.6,1.03 0,2.08 1.7,0 1.6,1.04 0,1.04 0,1.03 1.7,1.04 0,1.04 1.7,1.04 0,2.07 1.6,2.08 0-1.04 0,2.08 1.7,1.04 0,1.04 1.7,0 1.6,2.07 1.7-1.04 1.6,2.08 0,1.04 1.7,0 1.7,1.04 1.6-1.04 1.7,0 1.6,0 1.7,0 0,2.07 1.7,0 1.6,1.04 1.7-1.04 1.6,2.08 1.7-1.04 0,1.04 1.7,0 1.6,0 1.7-1.04 1.7,1.04 1.6,0 1.7,0 1.6,1.04 0-1.04 1.7,1.04 1.7-1.04 1.6,0 1.7,0 1.6,0 1.7,1.04 0,1.04 1.7,0 1.6-1.04 1.7,1.04 1.6,0 1.7,1.04 1.7,0 0-1.04 1.6,0 1.7-1.04 1.6,0 1.7-1.04 0,1.04 1.7-1.04 1.6,0 1.7-1.04 1.7,1.04 1.6-1.04 0-1.04 1.7,1.04 1.6-1.04 1.7,0 1.7-1.03 1.6,0 1.7-1.04 1.6,1.04 1.7,1.03 1.7-2.07 1.6,0 1.7,1.04 1.6,0 1.7,0 1.7-1.04 1.6,1.04 0-1.04 1.7,1.04 1.7-1.04 1.6,1.04 1.7,0 1.6,1.03 1.7-1.03 1.7,1.03 1.6,1.04 1.7,0 1.6,0 1.7,1.04 1.7,0 1.6,1.04 1.7,1.04 1.6,0 1.7-1.04 0,2.08 1.7-1.04 1.6,1.04 1.7,1.03 1.6-1.03 1.7,1.03 1.7,0 1.6,2.08 1.7-1.04 1.7,1.04 0,1.04 1.6,0 1.7,0 1.6,0 1.7,0 1.7,0 1.6,1.04 1.7,0 1.6,0 1.7,0 1.7,1.03 1.6,0 1.7-1.03 1.6,0 1.7,0 1.7,0 1.6,0 1.7,0 1.7-1.04 1.6,0 1.7,0 1.6-1.04 0,1.04 1.7-1.04 1.7-1.04 1.6,0 1.7-1.04 1.6,0 1.7,0 1.7-1.03 0-1.04 1.6,0 1.7,0 1.6-1.04 0-1.04 1.7-1.04 1.7,0 1.6-2.07 1.7,0 1.6,0 0-1.04 1.7,0 1.7,0 1.6,0 1.7,0 1.7,1.04 0,1.03 1.6,0 1.7,1.04 1.6,0 1.7,2.08" stroke-width="2.20"/></g><g stroke="#808000" fill="none" stroke-linejoin="miter" stroke-miterlimit="1.6" stroke-linecap="square"><path d="M1461.7 989.96l1.6,1.66 1.7,0 1.7,0 1.6,0 1.7,1.66 1.6,0 1.7,0 1.7,1.66 0,1.66 1.6-1.66 1.7,0 1.7,1.66 1.6,0 1.7,0 0,3.32 1.6,0 1.7,0 1.7,0 0,1.66 1.6,0 1.7,1.66 1.6,0 1.7,0 1.7,3.33 1.6,0 1.7,0 0,1.66 1.6,1.66 1.7,0 1.7,0 1.6,1.66 0-1.66 1.7,0 1.6,1.66 1.7,0 1.7,0 1.6,0 1.7,1.66 1.7-1.66 1.6,1.66 0-1.66 1.7,0 1.6,0 1.7,1.66 1.7,0 1.6,0 1.7-1.66 1.6,0 1.7,1.66 1.7-1.66 1.6,0 1.7,0 1.6,0 0-3.32 1.7-1.66 1.7,0 0-3.33 0-1.66 0-3.32 0,1.66 0-3.32 0-1.66 0-1.66 1.6-1.66 0-1.66 0-1.66 0-1.67 0-1.66 0-3.32 1.7-3.32 0-1.66 0-1.66 0-3.32 0-1.67 0-3.32 0-3.32 0-1.66 0-3.32 0-1.66 1.7-1.66 0-1.67 0-1.66 0-4.98 0-1.66 0-1.66 0-3.32 0-1.66 0-3.33 0-1.66 0,1.66 1.6-1.66 0-3.32 0-1.66 0-1.66 0-1.66 0-3.32 0-1.67 0-1.66 0-1.66 0-1.66 0-1.66 0-1.66 0-3.32 0-1.66 0-1.66 0-3.33 1.7-1.66 0-1.66 0-3.32 0-3.32 0,1.66 0-3.32 0-1.67 0-1.66 0-1.66 0-1.66 0-1.66 0-1.66 0-1.66 0-1.66 0-1.66 0-1.66 0-1.67 0-1.66 0-3.32 0-1.66 0-1.66 1.6-3.32 0-1.66 0-1.66 0-1.67 0-3.32 0-1.66 0-1.66 0-1.66 0-1.66 0-1.66 0-1.66 0-1.66 0-1.66 0-1.67 0-3.32 0-3.32 0-1.66 0-1.66 1.7-1.66 0-3.32 0-1.67 0-1.66 0-1.66 0-1.66 0-3.32 0-3.32 0-3.32 0-1.67 0-1.66 0-1.66 0-1.66 0-3.32 1.7,0 0-1.66 0-1.66 0-1.66 0-3.33 0-1.66 0-3.32 0-1.66 0-1.66 1.6-1.66 0-3.32 0-1.66 0-1.67 0-3.32 0-1.66 0-3.32 0-1.66 1.7-3.32 0-1.67 0-3.32 0-3.32 0-1.66 0-1.66 1.6-1.66 0-1.66 0-3.33 0-1.66 0-1.66 0-3.32 0-3.32 1.7,0 0-3.32 0-1.66 0-1.67 0-3.32 0-1.66 0-3.32 1.7-1.66 0-1.66 0-3.32 0-1.66 0-1.67 0-1.66 0-3.32 0,1.66 0-3.32 0-1.66 1.6,1.66 0-4.98 0-1.66 0-3.33 0-1.66 0-3.32 1.7-1.66 0-3.32 0-1.66 0-1.66 0-1.66 0-1.67 0-1.66 1.6-1.66 0-1.66 0-1.66 0-1.66 0-3.32 1.7,0 0-3.32 0-3.33 0-3.32 1.7,0 0-1.66 0-1.66 0-1.66 0-1.66 0-1.66 1.6-1.66 0-3.33 0-1.66 1.7-3.32 0-3.32 0-1.66 1.7-3.32 0-1.67 0-1.66 0-1.66 1.6-1.66 0-1.66 0-1.66 0-1.66 1.7-3.32 0-3.33 1.6-1.66 0-1.66 1.7-3.32 0,1.66 1.7-4.98 0-1.66 1.6-1.66 1.7-1.67 1.6,0 0-1.66 1.7-1.66 0-1.66 1.7-1.66 1.6,1.66 1.7-3.32 1.6,0 1.7,3.32 1.7,0 1.6,0 1.7,1.66 1.6,0 0,1.66 1.7,0 1.7,1.66 1.6-1.66 1.7,1.66 1.7,0 1.6,0 0-1.66 1.7,0 1.6,3.33 1.7-1.67 1.7,0 1.6,0 1.7,1.67 0,1.66 1.6-1.66 1.7,3.32 1.7,1.66 1.6-1.66 0,3.32 1.7,1.66 1.6,1.66 0-1.66 1.7,3.32 1.7,1.66" stroke-width="2.40"/><path transform="scale(1 1.3)" d="M1641.1 465.08l0,1.28 1.6,2.55 0,1.28 1.7,2.56 0,1.27 1.7,1.28 0,2.56 0,1.27 1.6,0 0,3.84 0,1.28 0,1.27 1.7,1.28 0,1.28 0,2.55 1.6,1.28 0,1.28 0,1.28 0,1.27 1.7,0 0,1.28 0,1.28 1.7,1.28 0,1.28 0,1.27 1.6,2.56 0,1.28 1.7,2.55 0,1.28 1.6,2.55 0,1.28 0-1.28 1.7,2.56 0,1.28 0,1.28 1.7,0 0,1.27 0,1.28 0,1.28 1.6,1.28 0,1.27 1.7,1.28 0,1.28 0,2.55 1.6,0 0,2.56 0,1.28 1.7,1.28 1.7,1.27 0,1.28 1.6,2.56 1.7,0 0,1.27 1.6,1.28 0,1.28 1.7,1.28 0-1.28 1.7,1.28 0,2.55 1.6,1.28 1.7-1.28 0,2.56 1.7,0 0,2.55 1.6,0 0,1.28 1.7,0 0,1.28 1.6,1.28 0,1.27 1.7,0 1.7,1.28 0,1.28 1.6,0 0,1.28 1.7,1.27 0,1.28 1.6,0 1.7,1.28 0,1.28 1.7,1.28 0,1.27 1.6,0 0,1.28 1.7,0 0,2.56 0,1.27 1.6,0 0,2.56 1.7,0 1.7,1.28 0,1.27 1.6,0 0,1.28 1.7,1.28 0,1.28 1.7,0 0,1.28 1.6,2.55 1.7,1.28 1.6,1.28 1.7,1.27 0,1.28 1.7,1.28 0,1.28 1.6,1.27 0-1.27 1.7,2.55 1.6,1.28 1.7,2.56 1.7,1.27 0,1.28 1.6,1.28 0,1.28 1.7-1.28 0,3.83 1.6,0 0,1.28 1.7,1.28 0,2.55 1.7-1.28 0,1.28 1.6,2.56 1.7,2.55 1.6,2.56 1.7,0 0,2.55 1.7,0 0,1.28 1.6,1.28 0,1.28 1.7,0 0,1.27 0,2.56 1.7,1.28 0-1.28 1.6,1.28 0,1.28 0,1.27 1.7,1.28 0,1.28 0,1.28 1.6,0 0,3.83 1.7-1.28 0,1.28 1.7,2.55" stroke-width="2.40"/><path transform="scale(1 2)" d="M1760.7 419.40l1.6,0.83 1.7,1.66 0-0.83 0,2.5 1.6,0 0,0.83 1.7,0 0,0.83 1.7,0 0,1.66 1.6,0 0,1.66 1.7-1.66 1.6,1.66 0,0.83 1.7,0.83 1.7,0.83 1.6,0 1.7,0 0,1.66 1.7,0 1.6,0.83 1.7,1.66 1.6,0 1.7,0 1.7,1.66 1.6,0 1.7,0 0-0.83 1.6,1.66 1.7,0.83 1.7,0 0,0.83 1.6,0 1.7,0 1.6,0.84 1.7,0 1.7,0 0,0.83 1.6,0 1.7,0 1.7,0 1.6,0 1.7,0 1.6,0 1.7,0.83 1.7-0.83 1.6,0.83 1.7,0 1.6-0.83 1.7-0.83 1.7,0.83 1.6,0.83 1.7,0.83 1.6,0 0-0.83 1.7,0 1.7-0.83 1.6,1.66 1.7-0.83 1.6,0.83 1.7,0.83 1.7,0 1.6,1.66 0-0.83 1.7,0.83" stroke-width="2.40"/><path d="M1848.7 890.30l0,1.66 1.7,1.66 0,1.66 1.6,1.66 1.7,1.66 0,1.66 1.6,1.66 0,1.66 1.7,1.67 0,3.32 0,1.66 0,1.66 1.7,1.66 0-1.66 0,3.32 1.6,1.66 0,3.32 0,1.67 0,3.32 1.7,0 0,3.32 0,1.66 1.6,1.66 0,3.32 0-1.66 0,3.32 0,1.67 1.7,1.66 0,1.66 0,1.66 0,1.66 0,1.66 1.7,1.66 0,1.66 0,3.32 0,1.67 0,1.66 1.6,0 0,3.32 0-1.66 0,3.32 0,1.66 1.7,1.66 0,1.66 0,1.66 1.6,1.66 1.7,3.33 0,1.66 1.7,0 1.6,0" stroke-width="2.40"/><path transform="scale(1 1.5)" d="M1876.9 650.00l1.7,0 1.7-1.1 1.6,0 0-1.11 1.7,0 1.6,1.11 1.7,0 1.7,1.1 1.6,1.11 0,1.11 1.7,1.11 1.6,2.21 0,1.11 0,1.11 1.7,0 0,2.21 0,1.11 1.7,0 0,1.11 0,1.1 1.6,1.11 0,1.11 0,2.21 1.7,0 0,1.11 1.6,1.11 0,1.1 0,2.22 1.7,0 0,1.11 1.7-1.11 0,1.11 1.6,1.1 0,1.11 1.7,0 1.7,1.11 1.6,0 1.7,1.11 1.6-1.11 0,1.11 1.7-2.22 1.7,1.11 1.6-1.11 1.7-1.11 1.6-1.1 1.7-1.11 1.7-1.11 1.6,0 0-1.11 1.7,0 1.6-1.1 1.7,0 0-1.11 1.7,0 1.6,0 1.7-1.11 1.6-2.21 0,1.1 1.7,0 1.7,0 1.6,0 1.7-1.1 1.7-1.11 1.6,0 0,1.11 1.7-1.11 1.6,0 1.7,0 1.7-1.11 1.6,0 1.7,0 1.6-1.1 1.7,0 1.7,0 1.6,0 1.7-1.11 1.6,0 1.7-1.11 1.7,2.22 0-1.11 1.6,0 1.7-1.11 1.7,2.22 1.6-1.11 1.7,0 1.6,0 1.7,1.11 1.7,1.1 1.6,1.11 1.7-1.11 1.6,2.22 0-1.11 1.7,1.11 1.7,1.1 1.6,0 0,1.11 1.7,0 1.6,1.11 1.7,0 1.7,1.11 1.6,2.21 1.7-1.11 1.6,1.11 1.7,0 1.7,1.11 1.6,0 1.7,2.21 1.7,0 1.6-1.1 1.7,1.1 0,1.11 1.6,0 1.7,0 1.7,0 1.6,0 1.7,1.11 1.6-1.11 1.7,0 0,2.22 1.7-2.22 1.6,2.22 1.7-2.22 1.6,2.22 1.7-1.11 1.7,0 1.6,0 1.7,0 1.7,0 1.6,0 1.7,0 1.6-1.11 1.7,0 1.7,0 1.6-1.11 1.7-1.1 1.6,0 1.7,0 1.7,0 0-1.11 1.6,0 1.7-1.11 1.6,0 0-1.11 1.7-1.1 1.7,0 1.6,0 1.7-2.22 1.6,0 1.7,0 1.7-1.11 0-1.1 1.6,1.1 1.7-1.1 1.7,0 1.6,0 0-1.11 1.7,1.11 1.6-1.11 1.7,0" stroke-width="2.40"/></g><g stroke="#c00000" fill="none" stroke-linejoin="miter" stroke-miterlimit="1.6" stroke-linecap="square"><path d="M1461.7 989.96l1.6,1.66 1.7,0 1.7,0 1.6,0 1.7,0 1.6,1.66 1.7-1.66 1.7,3.32 1.6,0 1.7,1.66 1.7,0 1.6,0 1.7,0 0,1.66 1.6-1.66 1.7,3.32 1.7,0 1.6,0 1.7,3.32 1.6,0 0,1.66 1.7-1.66 1.7,3.33 1.6,0 1.7,0 1.6,0 1.7,3.32 1.7,0 1.6,0 0,1.66 1.7-1.66 1.6,1.66 1.7-1.66 1.7,1.66 1.6,0 1.7,1.66 1.7-1.66 1.6,0 0,1.66 1.7,0 1.6,0 1.7-1.66 1.7,0 1.6,0 1.7,1.66 1.6,0 1.7-1.66 1.7,0 1.6,0 1.7-1.66 1.6,1.66 1.7-3.32 0-1.66 0-1.67 0-1.66 1.7-1.66 0-1.66 0-1.66 0-1.66 0-1.66 0-3.32 1.6-1.66 0-3.33 0-3.32 0-1.66 0-1.66 0-1.66 0-1.66 0-3.32 0-1.66 0-1.67 0-4.98 0,1.66 0-1.66 0-3.32 1.7,0 0-3.32 0-1.66 0-1.66 0-3.33 0-3.32 0-1.66 0-1.66 0-3.32 0,1.66 0-1.66 0-1.66 0-3.33 0-1.66 0-1.66 0-1.66 0-1.66 1.7-1.66 0-3.32 0-1.66 0-1.66 0-3.33 0-1.66 0-1.66 0-1.66 0-3.32 0-1.66 0-3.32 0-1.67 0-1.66 0-1.66 0,1.66 0-3.32 0-1.66 0-1.66 1.6,0 0-1.66 0-1.66 0-1.66 0-1.67 0-1.66 0-3.32 0,1.66 0-1.66 0-1.66 0-3.32 0-1.66 0-1.66 0-1.66 0-1.67 0-1.66 0-3.32 0-1.66 0-1.66 0-1.66 0-1.66 0-1.66 0-3.33 1.7,0 0-3.32 0-3.32 0-1.66 0-3.32 0-1.66 0-1.66 0-1.66 0-3.33 0-1.66 0-1.66 0-1.66 0-1.66 0-1.66 0-1.66 0-1.66 0-1.66 1.6-3.33 0-1.66 0-3.32 0-1.66 0-1.66 0-1.66 0-1.66 0-3.33 0-1.66 0-3.32 0-1.66 0-3.32 0-1.66 0-3.32 1.7-1.67 0-1.66 0-1.66 0-4.98 0-1.66 0-1.66 0-1.66 0-1.66 0-1.67 1.7-3.32 0-3.32 0-1.66 0-1.66 0-1.66 0-1.66 0-1.67 0-3.32 0-1.66 0-1.66 1.6-3.32 0-1.66 0-1.66 0-3.33 0-3.32 0-1.66 0-1.66 0-3.32 1.7-1.66 0,1.66 0-3.32 0-1.66 0-1.67 0-3.32 0-1.66 0-1.66 0-1.66 0-3.32 1.6-3.32 0-3.33 0-1.66 0-1.66 0-1.66 0-1.66 0-1.66 0-3.32 0-1.66 0-1.66 1.7-1.67 0-1.66 0-1.66 0-1.66 0-4.98 0,1.66 0-1.66 0-3.32 0-1.66 0-1.67 0-1.66 1.7-1.66 0-3.32 0-1.66 0-3.32 0-1.66 0-1.66 0-1.67 1.6-1.66 0-1.66 0-1.66 0-3.32 0-3.32 0-1.66 0-1.66 1.7,0 0-3.33 0-1.66 0-3.32 0-1.66 0-1.66 0-1.66 1.6,0 0-3.32 0-3.33 0-3.32 0-1.66 0-1.66 1.7,0 0-1.66 0-3.32 0-1.67 0-3.32 0-3.32 1.7,0 0-1.66 0-1.66 0-1.66 0-1.66 0-1.66 1.6-3.33 0-1.66 0-1.66 0-3.32 0-1.66 1.7-1.66 0-1.66 0-3.33 1.7-3.32 0-1.66 0-1.66 0-1.66 1.6-1.66 0-3.32 0-3.32 1.7,1.66 0-3.33 0-3.32 1.6-1.66 0-1.66 0-1.66 1.7-3.32 0-1.66 1.7-1.66 0-3.33 1.6,0 0-3.32 1.7,0 0-1.66 1.6,1.66 1.7-3.32 1.7-1.66 1.6,1.66 1.7,1.66 0-3.32 1.6,4.98 1.7-1.66 1.7,0 0,1.66 1.6,1.66 1.7,0 1.6,3.32 0-1.66 1.7,1.66 1.7,1.67 1.6-1.67 0,3.33 1.7,0 1.7-1.66 1.6,1.66 1.7,0 1.6,1.66 1.7,1.66 1.7,0 0,1.66 1.6,0 0,1.66 1.7,3.32 1.6,1.66 0,3.33 0,1.66 1.7,1.66 0,1.66 0,1.66 0,1.66 1.7,1.66 0,1.66 0,1.66 0,1.66 1.6,1.66 0,1.67 0,1.66 0,1.66 0,1.66 1.7,1.66 0,1.66 0,1.66 0,1.66 1.6,1.66 0,1.66 0,3.33 0,1.66 1.7,0 0,1.66 0,1.66 0,1.66 0,3.32 1.7,1.66" stroke-width="2.40"/><path transform="scale(1 1.3)" d="M1641.1 465.08l0,1.28 0,1.28 0,1.27 1.6,1.28 0,2.56 0,1.27 1.7,2.56 0,1.28 0,1.27 0,1.28 1.7,0 0,2.56 0,2.55 1.6,1.28 0-1.28 0,1.28 0,3.83 1.7,1.28 0-1.28 0,2.56 0,2.55 1.6,0 0,1.28 0,1.28 1.7,0 0,3.83 0,1.28 1.7,1.28 0,1.28 1.6,1.27 0,1.28 0,2.56 0,1.27 1.7,0 0,1.28 0,2.56 1.6-1.28 0,1.28 0,1.28 1.7,1.27 0,2.56 0,1.28 1.7,1.27 1.6,2.56 0,1.28 1.7,1.27 0,2.56 1.6,0 0,1.28 1.7,1.28 0,2.55 1.7,1.28 0,1.28 1.6,1.27 0,1.28 1.7,0 0,1.28 1.6,1.28 0,1.27 1.7,1.28 1.7,1.28 0,2.56 0,1.27 1.6-1.27 0,1.27 1.7,2.56 1.7,1.28 0,1.27 1.6,0 1.7,0 0,2.56 1.6,1.28 1.7,0 1.7,1.27 0,2.56 1.6,0 1.7,1.28 0,1.28 1.6,2.55 1.7,0 0,2.56 1.7,0 0,1.27 0,1.28 1.6,0 0,1.28 1.7,1.28 0,1.27 1.6,1.28 0,1.28 1.7,0 0,1.28 1.7,1.28 1.6,1.27 0,1.28 1.7,2.56 1.7,0 0,1.27 1.6,1.28 0,1.28 1.7,1.28 0,1.27 0,1.28 1.6,0 0,1.28 1.7,1.28 0,1.28 1.7,1.27 1.6,1.28 1.7,1.28 0,2.55 1.6-1.27 0,2.55 1.7,1.28 1.7,1.28 0,2.55 1.6-1.28 0,2.56 1.7,1.28 1.6,2.55 1.7,1.28 0,1.28 0,1.28 1.7,0 0,2.55 1.6-1.28 0,1.28 1.7,1.28 0,1.28 0,1.27 1.6,1.28 0,1.28 1.7,1.28 0,1.28 1.7,0 0,2.55 1.6,0 0,1.28 1.7,1.28 0,1.27 1.7,0 0,2.56 1.6,0 0,1.28 1.7,1.27 0,1.28 0,1.28 1.6-1.28 0,2.56 1.7,1.28 0,1.27 1.7-1.27" stroke-width="2.40"/><path transform="scale(1 2)" d="M1760.7 422.72l0,0.84 0,1.66 1.6,0.83 0-0.83 1.7,1.66 0,0.83 0,0.83 1.6,0.83 0,0.83 1.7,0.83 0,0.83 1.7,0.83 1.6,0.83 0,0.83 1.7,0.83 1.6,0.83 0,0.83 1.7,0 1.7,0.83 0,0.83 1.6,0 1.7,1.67 1.7-0.84 1.6,0.84 1.7,0.83 1.6,0 1.7,0 0,0.83 1.7,0 1.6,0.83 1.7-0.83 1.6,0.83 0,0.83 1.7,0 1.7,0.83 1.6,0 1.7,0 1.6,0 0,0.83 1.7,0 1.7,0.83 1.6,0 1.7-0.83 1.7,0 1.6,0.83 1.7,0.83 0-0.83 1.6,0 1.7,0 1.7,0 1.6,0 1.7,0 1.6,0 1.7,0 1.7,0.83 0-0.83 1.6,0 1.7,0 1.6-0.83 1.7,0.83 1.7-0.83 1.6,1.66 1.7-0.83 1.6,0 0,0.83 1.7,0.83 1.7,0 0,0.83 1.6,0 1.7,0.83" stroke-width="2.40"/><path d="M1848.7 898.60l0,1.66 1.7,0 0,1.66 1.6,1.66 1.7,1.67 0,1.66 1.6,1.66 0,1.66 1.7,1.66 0,1.66 1.7,1.66 0,1.66 0,3.32 1.6,0 0,3.33 1.7,1.66 0,1.66 0,1.66 1.6,0 0,4.98 0,1.66 1.7,0 0,1.66 0,1.67 0,1.66 1.7,3.32 0,1.66 0,1.66 0,3.32 1.6,0 0,3.32 0,1.67 0,1.66 1.7,3.32 0,1.66 0,1.66 1.6,3.32 0,1.66 1.7,1.66 0,1.67 0,1.66 1.7,1.66 1.6,0" stroke-width="2.40"/><path transform="scale(1 1.5)" d="M1876.9 650.00l1.7-1.1 0,2.21 1.7-1.11 1.6,0 1.7,1.11 1.6,0 1.7-1.11 1.7,1.11 1.6,1.11 1.7,0 0,1.11 1.6,0 0,1.1 1.7,1.11 0,1.11 1.7,2.21 1.6,1.11 0,2.22 0-1.11 1.7,1.11 0,1.1 1.6,0 0,1.11 0,2.21 1.7,0 0,2.22 1.7,0 0,1.11 1.6,1.1 0,1.11 1.7,1.11 1.7,1.11 0,1.1 1.6,0 0,1.11 1.7,1.11 1.6-1.11 1.7,1.11 1.7-1.11 1.6-1.11 1.7,0 1.6-1.1 0,1.1 1.7-2.21 1.7,0 1.6-1.11 1.7-1.11 1.6-1.1 1.7-1.11 1.7,0 1.6,0 0-1.11 1.7,0 1.6,0 1.7,0 1.7-1.11 1.6-1.1 0-1.11 1.7,0 1.7,0 1.6,0 1.7,0 1.6-1.11 1.7,0 1.7,0 1.6-1.1 1.7,0 1.6,0 1.7-1.11 1.7,0 1.6,0 1.7,0 1.6-1.11 1.7,0 1.7,1.11 1.6-1.11 1.7,0 0,1.11 1.7-1.11 1.6,1.11 1.7,0 1.6,0 1.7,1.11 1.7,1.1 0-2.21 1.6,2.21 1.7-1.1 1.6,2.21 1.7-1.11 0,2.22 1.7,0 1.6,1.1 1.7-1.1 0,2.21 1.6,0 1.7,0 1.7,1.11 0,1.11 1.6-1.11 1.7,1.11 1.6,1.1 1.7,1.11 1.7,0 1.6,1.11 1.7-1.11 0,1.11 1.7,1.11 1.6-1.11 1.7,1.11 1.6,0 1.7,1.1 1.7,0 0,1.11 1.6-1.11 1.7,1.11 1.6,0 1.7,0 1.7,0 1.6,0 1.7-1.11 1.6,1.11 1.7,0 1.7,1.11 1.6-1.11 1.7,0 1.7,0 1.6-1.11 1.7,0 1.6,0 1.7-2.21 1.7,1.11 1.6,0 1.7,0 1.6-1.11 1.7-1.11 1.7-1.11 1.6,1.11 0-1.11 1.7-2.21 1.6,2.21 1.7-1.1 0-2.22 1.7,0 1.6,0 1.7-1.11 1.6-1.1 1.7,0 1.7,0 1.6-1.11 1.7-1.11 1.7,0 1.6,0 1.7-1.1 1.6,0 1.7,0" stroke-width="2.40"/></g><g stroke="#000000" fill="none" stroke-linejoin="miter" stroke-miterlimit="1.6" stroke-linecap="square"><path d="M1730.8 793.96l1.6,1.66" stroke-width="1.70"/><path d="M1732.4 795.62l0,1.66 1.7,1.66 0,1.66 1.6,1.66 0,1.66 1.7,1.67 0,1.66 1.7,1.66 0,1.66 1.6,1.66 0,1.66 1.7,1.66 0,1.66 1.6,1.66 0,1.66 1.7,0 0,1.67 1.7,1.66 0,1.66 1.6,3.32 1.7,1.66 0,1.66 1.7,1.66 0,1.66 1.6,1.66 0,1.67 1.7,1.66 0,1.66 1.6,1.66 0,1.66 1.7,1.66 0,1.66 1.7,1.66" stroke-width="1.70"/><path d="M1760.7 850.43l0,1.66" stroke-width="1.70"/></g><g stroke="#000000" fill="none" stroke-linejoin="miter" stroke-miterlimit="1.6" stroke-linecap="square"><path d="M1461.7 988.30l1.6,1.66 1.7-1.66 0,1.66 1.7-1.66 1.6,1.66 1.7,1.66 1.6,0 1.7,0 1.7,0 1.6,3.32 1.7-1.66 1.7,1.66 1.6,1.66 1.7-1.66 1.6,1.66 1.7,0 1.7,1.66 0,1.66 1.6,0 1.7,0 1.6,3.32 0-1.66 1.7,1.66 1.7,1.66 1.6,0 1.7,1.67 0-1.67 1.6,3.33 1.7,0 1.7,0 1.6,1.66 0-1.66 1.7,1.66 1.6-1.66 1.7,0 1.7,3.32 1.6-1.66 1.7,1.66 1.7,0 1.6,0 0-1.66 1.7,0 1.6,0 1.7,1.66 1.7-1.66 1.6,0 1.7,0 1.6,0 1.7,0 1.7,0 0,1.66 1.6-1.66 1.7,1.66 1.6-1.66" stroke-width="5.60"/></g><g stroke="#000000" fill="none" stroke-linejoin="miter" stroke-miterlimit="1.6" stroke-linecap="square"><path d="M1539.7 993.28l0-1.66 0-1.66 0-1.66 0-3.33 0-1.66 0-1.66 0-1.66 1.7-1.66 0-1.66 0-1.66 0-1.66 0-3.33 0-1.66 0-1.66 0-1.66 0-1.66 0-1.66 0-1.66 0-1.66 0-1.66 0-1.66 0-1.67 0-3.32 0-1.66 0-1.66 0-1.66 0-1.66 0-1.66 0-1.66 0-3.33 0-1.66 0-1.66 0-1.66 0-1.66 0-1.66 0-1.66 1.7-3.32 0-1.66 0-1.67 0-1.66 0-1.66 0-1.66 0-1.66 0-1.66 0-3.32 0-1.66 0-1.66 0-1.67 0-1.66 0-1.66 0-1.66 0-3.32 0-1.66 0-1.66 0-1.66 0-1.67 0-1.66 0-1.66 0-1.66 1.6-3.32 0-1.66 0-1.66 0-3.32 0-1.67 0-1.66 0-1.66 0-1.66 0-1.66 0-1.66 0-1.66 0-1.66 0-3.32 0-1.67 0-3.32 0-1.66 0-1.66 0-1.66 1.7-3.32 0-1.66 0-1.66 0-1.66 0-1.67 0-1.66 0-1.66 0-1.66 0-3.32 0-1.66 0-1.66 0-3.32 0-1.67 0-1.66 0-1.66 0-1.66 1.7-1.66 0-1.66 0-1.66 0-1.66 0-3.32 0-1.67 0-1.66 0-1.66 0-3.32 0-3.32 0-1.66 0-1.66 0-1.66 0-1.67 0-1.66 1.6-1.66 0-1.66 0-1.66 0-1.66 0-1.66 0-1.66 0-1.66 0-1.66 0-1.67 0-1.66 0-1.66 0-1.66 0-1.66 0-1.66 0-1.66 0-1.66 1.7-3.33 0-1.66 0-1.66 0-1.66 0-1.66 0-1.66 0-1.66 0-3.32 0,1.66 0-3.32 0-1.67 0-1.66 1.6,0 0-1.66 0-1.66 0-1.66 0-1.66 0-1.66 0-1.66 0-1.66 0-1.66 0-1.67 0-3.32 0-1.66 1.7-1.66 0-1.66 0-1.66 0-1.66 0-1.66 0-3.32 0-1.67 0-3.32 1.7-1.66 0-1.66 0-3.32 0-1.66 0-1.66 0-1.66 0-1.67 0-1.66 0-1.66 0-1.66 0-1.66 1.6-3.32 0-1.66 0-1.66 0-3.33 0-1.66 0-1.66 0-1.66 0-1.66 0-1.66 0-1.66 0-3.32 0,1.66 0-3.32 0-1.67 1.7-1.66 0-1.66 0-1.66 0-1.66 0-3.32 0-3.32 0-3.33 0-1.66 0-1.66 0-1.66 0-1.66 0-1.66 0-1.66 1.6-1.66 0-1.66 0-1.66 0-3.33 0-3.32 0-3.32 0-1.66 0-1.66 0-3.33 0-1.66 0-1.66 1.7-1.66 0-1.66 0-1.66 0-1.66 0-1.66 0-1.66 0-1.66 0-3.33 0-1.66 0-1.66 0-1.66 0-1.66 1.7-1.66 0-1.66 0-3.32 0-1.67 0-1.66 0-1.66 0-1.66 0-1.66 0-1.66 0-1.66 0-1.66 1.6,0 0-1.66 0-1.66 0-1.66 0-1.67 0-1.66 0-1.66 0-1.66 0-3.32 1.7-1.66 0-1.66 0-1.66 0-3.33 0-1.66 0-1.66 0-1.66 0-1.66 0-1.66 0-3.32 1.6-1.66 0-3.33 0-1.66 0-1.66 0-1.66 0-1.66 0-3.32 0-1.66 1.7-1.66 0-3.33 0-1.66 0-1.66 0-1.66 1.7-3.32 0-1.66 0-1.66 0-3.32 0-1.67 0-1.66 1.6-1.66 0-1.66 0-1.66 0-3.32 0-3.32 0-1.67 1.7,0 0-1.66 0-1.66 0-1.66 0-1.66 0-3.32 1.7,0 0-1.66 0-1.66 0-1.66 0-1.66 0-1.67 0-1.66 1.6-1.66 0-1.66 0-1.66 0-3.32 0-1.66 1.7-1.66 0-1.66 0-1.67 0-1.66 0-1.66 1.6-1.66 0,1.66 0-1.66 0-3.32 1.7-1.66 0-3.32 1.7,0 0-1.66 0-1.67" stroke-width="3.40"/></g><g stroke="#000000" fill="none" stroke-linejoin="miter" stroke-miterlimit="1.6" stroke-linecap="square"><path d="M1870.3 975.01l0,1.66" stroke-width="5.00"/><path transform="scale(1 1.09)" d="M1870.3 896.03l1.6,1.52" stroke-width="5.00"/><path transform="scale(1 1.3)" d="M1871.9 752.56l0,1.28 1.7,0 1.7,1.28 0,1.27 1.6,0 0,1.28 1.7,1.28 1.7-1.28 0,1.28 1.6,1.28 1.7-1.28 1.6,1.28 1.7,1.27 1.7,1.28 1.6-1.28 1.7,1.28 1.6,1.28 1.7-1.28 1.7,2.56 1.6-1.28 1.7,1.28 1.6,1.28 0-1.28 1.7,2.55 1.7,1.28 1.6,0 0,1.28 1.7,0 1.7,0 1.6,0 0,1.28 1.7,1.27 1.6,1.28 1.7-2.55 1.7,0 1.6,0 1.7,1.27 1.6,1.28 0-2.55 1.7,0 1.7,0 1.6,0 1.7-1.28 1.6,1.28 0-1.28 1.7-1.28 1.7-1.28 1.6,0 1.7-1.27 1.6,0 1.7,0 1.7,0 1.6-1.28 1.7,0 0-1.28 1.7,0 1.6-2.56 1.7,2.56 1.6,0 1.7-1.28 1.7,0 0-1.28 1.6,1.28 1.7-1.28 1.6-1.27 1.7,0 1.7-1.28 1.6,1.28 1.7-1.28 1.6,0 1.7,1.28 1.7-1.28 1.6,0 1.7,1.28 1.7,0 1.6-1.28 0,1.28 1.7,0 1.6,2.55 1.7-1.28 1.7,0 1.6,1.28 1.7-1.28 0,1.28 1.6,0 1.7,0 1.7,1.28 1.6,0 1.7,0 0,1.28 1.6,1.28 1.7-1.28 1.7,1.28 1.6-1.28 1.7,1.28 0,2.55 1.6-1.28 1.7,1.28 1.7,0 1.6-1.28 0,2.56 1.7,0 1.7,1.28 1.6,1.27 1.7,0 1.6,1.28 1.7-1.28 0-1.27 1.7,0 1.6,1.27 1.7-1.27 1.6,2.55 1.7,0 1.7,0 1.6,1.28 1.7,0 0-1.28 1.6,0 1.7,0 1.7,0 1.6,1.28 1.7-1.28 1.7-1.28 1.6,0 1.7,0 1.6,0 1.7,0 1.7-1.27 1.6,1.27 1.7-1.27 0-2.56 1.6,1.28 1.7-1.28 1.7,0 1.6,0 1.7,0 0-1.28 1.6-1.27 1.7,0 1.7,0 1.6-1.28 1.7,0 0,1.28 1.6,0 1.7-1.28 1.7-1.28 1.6,1.28 1.7-1.28 1.7,0 0-1.28 1.6,1.28 1.7-1.28 1.6,0 1.7,0" stroke-width="5.00"/></g><g font-family="Liberation Sans, sans-serif" fill="#000"><text transform="translate(1400.30 803.50) rotate(-90)" x="-0.84" y="0" font-size="19.60" textLength="177.48" lengthAdjust="spacingAndGlyphs">geglättete Kraft in N</text></g></svg><span class="t" style="left:1411.56px;top:389.23px;font-size:19.40px;line-height:19.40px;transform:scaleX(0.9630);">200</span><span class="t" style="left:1411.05px;top:540.35px;font-size:19.40px;line-height:19.40px;transform:scaleX(0.9790);">150</span><span class="t" style="left:1411.05px;top:691.48px;font-size:19.40px;line-height:19.40px;transform:scaleX(0.9790);">100</span><span class="t" style="left:1411.72px;top:842.60px;font-size:19.40px;line-height:19.40px;">50</span><span class="t" style="left:1411.73px;top:993.73px;font-size:19.40px;line-height:19.40px;transform:scaleX(1.0136);">0</span><span class="t" style="left:1574.51px;top:1043.18px;font-size:19.40px;line-height:19.40px;transform:scaleX(1.0081);">10</span><span class="t" style="left:1701.54px;top:1043.18px;font-size:19.40px;line-height:19.40px;transform:scaleX(0.9826);">20</span><span class="t" style="left:1828.10px;top:1043.18px;font-size:19.40px;line-height:19.40px;transform:scaleX(0.9461);">30</span><span class="t" style="left:1954.99px;top:1043.18px;font-size:19.40px;line-height:19.40px;transform:scaleX(0.9276);">40</span><span class="t" style="left:1685.92px;top:1073.95px;font-size:19.90px;line-height:19.90px;transform:scaleX(0.9688);">Prüfzeit in ms</span><span class="t" style="left:1418.55px;top:337.75px;font-size:19.90px;line-height:19.90px;transform:scaleX(0.9413);">62855320 ...</span><span class="t" style="left:1623.43px;top:337.75px;font-size:19.90px;line-height:19.90px;transform:scaleX(1.0207);">Unterscheidung der Proben durch Farben</span>
<svg style="left:2104.30px;top:328.60px" width="22.00" height="24.00" viewBox="2104.30 328.60 22.00 24.00" ><defs><radialGradient id="z5" cx="40%" cy="35%" r="70%"><stop offset="0" stop-color="#eef1ff"/><stop offset="1" stop-color="#9aa9f6"/></radialGradient></defs><rect x="2104.3" y="328.6" width="19.6" height="21.6" fill="#dcd8d0"/><path d="M2124.6 328.6 v22.4 h-20.6" stroke="#262626" stroke-width="1.7" fill="none"/><path d="M2117.9 343.2 l5.2 5.2" stroke="#5e5546" stroke-width="2.2"/><circle cx="2113.4" cy="338.4" r="7" fill="url(#z5)" stroke="#6c6252" stroke-width="1.5"/><path d="M2109.1 338.4 h8.6 M2113.4 334.1 v8.6" stroke="#5a5040" stroke-width="1.5"/></svg>
<div class="b" style="left:1364.00px;top:1108.00px;width:762.00px;height:9.00px;background:linear-gradient(to bottom,#c9c5bc 0%,#e4e1da 35%,#dedbd4 60%,#b9b4a9 100%);"></div>
<div class="b table-panel" style="left:1364.00px;top:1117.00px;width:762.00px;height:302.00px;background:#fff;"></div>
<svg style="left:2104.30px;top:1117.20px" width="22.00" height="24.00" viewBox="2104.30 1117.20 22.00 24.00" ><defs><radialGradient id="z6" cx="40%" cy="35%" r="70%"><stop offset="0" stop-color="#eef1ff"/><stop offset="1" stop-color="#9aa9f6"/></radialGradient></defs><rect x="2104.3" y="1117.2" width="19.6" height="21.6" fill="#dcd8d0"/><path d="M2124.6 1117.2 v22.4 h-20.6" stroke="#262626" stroke-width="1.7" fill="none"/><path d="M2117.9 1131.8 l5.2 5.2" stroke="#5e5546" stroke-width="2.2"/><circle cx="2113.4" cy="1127.0" r="7" fill="url(#z6)" stroke="#6c6252" stroke-width="1.5"/><path d="M2109.1 1127.0 h8.6 M2113.4 1122.7 v8.6" stroke="#5a5040" stroke-width="1.5"/></svg>
<div class="b" style="left:1369.00px;top:1122.00px;width:701.80px;height:52.00px;background:#d4d0c8;"></div>
<div class="b" style="left:1369.00px;top:1204.30px;width:79.00px;height:110.30px;background:#d4d0c8;"></div>
<div class="b" style="left:1369.00px;top:1174.70px;width:701.80px;height:29.60px;background:#0a246a;"></div>
<svg class="table-lines" style="left:1364px;top:1117px" width="762" height="302" viewBox="1364 1117 762 302"><g stroke="#000" fill="none"><path d="M1369.0 1174.8 H2071.8" stroke-width="3.3"/><path d="M1449.4 1121 V1316" stroke-width="3.3"/><path d="M1369.0 1204.3 H2070.8M1369.0 1231.6 H2070.8M1369.0 1260.0 H2070.8M1369.0 1288.2 H2070.8M1531.5 1121.5 V1314.6M1612.8 1121.5 V1314.6M1693.2 1121.5 V1314.6M1773.5 1121.5 V1314.6M1854.2 1121.5 V1314.6M1933.2 1121.5 V1314.6" stroke-width="1.7"/></g><path d="M1383.6 1186.9 h11 M1383.6 1192.1 h11 M1393 1184.2 l7.6 5.3 l-7.6 5.3" stroke="#fff" stroke-width="1.7" fill="none"/><path d="M1383.6 1215.2 h11 M1383.6 1220.4 h11 M1393 1212.5 l7.6 5.3 l-7.6 5.3" stroke="#000" stroke-width="1.7" fill="none"/><path d="M1383.6 1243.0 h11 M1383.6 1248.2 h11 M1393 1240.3 l7.6 5.3 l-7.6 5.3" stroke="#000" stroke-width="1.7" fill="none"/><path d="M1383.6 1271.9 h11 M1383.6 1277.1 h11 M1393 1269.2 l7.6 5.3 l-7.6 5.3" stroke="#000" stroke-width="1.7" fill="none"/><path d="M1383.6 1299.4 h11 M1383.6 1304.6 h11 M1393 1296.7 l7.6 5.3 l-7.6 5.3" stroke="#000" stroke-width="1.7" fill="none"/></svg>
<span class="t" style="left:1396.23px;top:1150.99px;font-size:20.80px;line-height:20.80px;transform:scaleX(1.0354);">Nr</span>
<span class="t" style="left:1464.27px;top:1126.19px;font-size:20.80px;line-height:20.80px;transform:scaleX(1.0146);">Fmax</span>
<span class="t" style="left:1482.47px;top:1150.99px;font-size:20.80px;line-height:20.80px;transform:scaleX(1.1877);">N</span>
<span class="t" style="left:1555.05px;top:1126.19px;font-size:20.80px;line-height:20.80px;transform:scaleX(1.0040);">Sm</span>
<span class="t" style="left:1553.11px;top:1150.99px;font-size:20.80px;line-height:20.80px;">mm</span>
<span class="t" style="left:1632.91px;top:1126.19px;font-size:20.80px;line-height:20.80px;transform:scaleX(1.0142);">Wm</span>
<span class="t" style="left:1646.43px;top:1150.99px;font-size:20.80px;line-height:20.80px;">J</span>
<span class="t" style="left:1802.40px;top:1126.19px;font-size:20.80px;line-height:20.80px;transform:scaleX(1.0889);">W</span>
<span class="t" style="left:1808.53px;top:1150.99px;font-size:20.80px;line-height:20.80px;">J</span>
<span class="t" style="left:1867.91px;top:1126.19px;font-size:20.80px;line-height:20.80px;">W(%)</span>
<span class="t" style="left:1884.87px;top:1150.99px;font-size:20.80px;line-height:20.80px;transform:scaleX(0.9111);">%</span>
<span class="t" style="left:1939.91px;top:1126.19px;font-size:20.80px;line-height:20.80px;">Versagensart</span>
<span class="t" style="left:1705.91px;top:1126.19px;font-size:20.80px;line-height:20.80px;">W</span>
<span class="t" style="left:1725.94px;top:1135.99px;font-size:13.60px;line-height:13.60px;transform:scaleX(0.9475);font-weight:bold;">Ende</span>
<span class="t" style="left:1728.73px;top:1150.99px;font-size:20.80px;line-height:20.80px;">J</span>
<span class="t" style="left:1407.78px;top:1178.19px;font-size:20.80px;line-height:20.80px;transform:scaleX(0.7821);color:#fff;">3.1</span>
<span class="t" style="left:1460.94px;top:1178.19px;font-size:20.80px;line-height:20.80px;transform:scaleX(0.9215);color:#fff;">198,77</span>
<span class="t" style="left:1552.14px;top:1178.19px;font-size:20.80px;line-height:20.80px;transform:scaleX(0.9112);color:#fff;">6,81</span>
<span class="t" style="left:1633.47px;top:1178.19px;font-size:20.80px;line-height:20.80px;transform:scaleX(0.9031);color:#fff;">0,93</span>
<span class="t" style="left:1713.85px;top:1178.19px;font-size:20.80px;line-height:20.80px;transform:scaleX(0.9086);color:#fff;">2,66</span>
<span class="t" style="left:1794.05px;top:1178.19px;font-size:20.80px;line-height:20.80px;transform:scaleX(0.9083);color:#fff;">2,78</span>
<span class="t" style="left:1874.98px;top:1178.19px;font-size:20.80px;line-height:20.80px;transform:scaleX(0.9057);color:#fff;">35,2</span>
<span class="t" style="left:1994.53px;top:1178.19px;font-size:20.80px;line-height:20.80px;transform:scaleX(1.2104);color:#fff;">P</span>
<span class="t" style="left:1407.78px;top:1206.59px;font-size:20.80px;line-height:20.80px;transform:scaleX(0.7830);">3.2</span>
<span class="t" style="left:1460.94px;top:1206.59px;font-size:20.80px;line-height:20.80px;transform:scaleX(0.9210);">192,91</span>
<span class="t" style="left:1552.35px;top:1206.59px;font-size:20.80px;line-height:20.80px;transform:scaleX(0.9052);">5,09</span>
<span class="t" style="left:1633.47px;top:1206.59px;font-size:20.80px;line-height:20.80px;transform:scaleX(0.8960);">0,64</span>
<span class="t" style="left:1713.85px;top:1206.59px;font-size:20.80px;line-height:20.80px;transform:scaleX(0.9102);">2,39</span>
<span class="t" style="left:1794.05px;top:1206.59px;font-size:20.80px;line-height:20.80px;transform:scaleX(0.9110);">2,51</span>
<span class="t" style="left:1874.99px;top:1206.59px;font-size:20.80px;line-height:20.80px;transform:scaleX(0.9024);">31,8</span>
<span class="t" style="left:1994.53px;top:1206.59px;font-size:20.80px;line-height:20.80px;transform:scaleX(1.2104);">P</span>
<span class="t" style="left:1407.78px;top:1234.39px;font-size:20.80px;line-height:20.80px;transform:scaleX(0.7792);">3.3</span>
<span class="t" style="left:1461.45px;top:1234.39px;font-size:20.80px;line-height:20.80px;transform:scaleX(0.9115);">207,06</span>
<span class="t" style="left:1552.14px;top:1234.39px;font-size:20.80px;line-height:20.80px;transform:scaleX(0.9064);">6,80</span>
<span class="t" style="left:1633.47px;top:1234.39px;font-size:20.80px;line-height:20.80px;transform:scaleX(0.9031);">0,96</span>
<span class="t" style="left:1714.08px;top:1234.39px;font-size:20.80px;line-height:20.80px;transform:scaleX(0.9026);">3,33</span>
<span class="t" style="left:1794.28px;top:1234.39px;font-size:20.80px;line-height:20.80px;transform:scaleX(0.9050);">3,51</span>
<span class="t" style="left:1875.27px;top:1234.39px;font-size:20.80px;line-height:20.80px;transform:scaleX(0.8944);">44,5</span>
<span class="t" style="left:1994.53px;top:1234.39px;font-size:20.80px;line-height:20.80px;transform:scaleX(1.2104);">P</span>
<span class="t" style="left:1407.79px;top:1263.19px;font-size:20.80px;line-height:20.80px;transform:scaleX(0.7705);">3.4</span>
<span class="t" style="left:1460.95px;top:1263.19px;font-size:20.80px;line-height:20.80px;transform:scaleX(0.9180);">140,30</span>
<span class="t" style="left:1552.13px;top:1263.19px;font-size:20.80px;line-height:20.80px;transform:scaleX(0.9088);">7,18</span>
<span class="t" style="left:1633.47px;top:1263.19px;font-size:20.80px;line-height:20.80px;transform:scaleX(0.9028);">0,68</span>
<span class="t" style="left:1713.85px;top:1263.19px;font-size:20.80px;line-height:20.80px;transform:scaleX(0.9117);">2,87</span>
<span class="t" style="left:1794.28px;top:1263.19px;font-size:20.80px;line-height:20.80px;transform:scaleX(0.9043);">3,19</span>
<span class="t" style="left:1875.28px;top:1263.19px;font-size:20.80px;line-height:20.80px;transform:scaleX(0.8884);">40,4</span>
<span class="t" style="left:1994.63px;top:1263.19px;font-size:20.80px;line-height:20.80px;transform:scaleX(1.1533);">N</span>
<span class="t" style="left:1407.78px;top:1290.69px;font-size:20.80px;line-height:20.80px;transform:scaleX(0.7780);">3.5</span>
<span class="t" style="left:1460.95px;top:1290.69px;font-size:20.80px;line-height:20.80px;transform:scaleX(0.9149);">158,14</span>
<span class="t" style="left:1552.14px;top:1290.69px;font-size:20.80px;line-height:20.80px;transform:scaleX(0.9105);">6,59</span>
<span class="t" style="left:1633.47px;top:1290.69px;font-size:20.80px;line-height:20.80px;transform:scaleX(0.9007);">0,70</span>
<span class="t" style="left:1713.85px;top:1290.69px;font-size:20.80px;line-height:20.80px;transform:scaleX(0.9086);">2,93</span>
<span class="t" style="left:1794.28px;top:1290.69px;font-size:20.80px;line-height:20.80px;transform:scaleX(0.9057);">3,22</span>
<span class="t" style="left:1875.27px;top:1290.69px;font-size:20.80px;line-height:20.80px;transform:scaleX(0.8970);">40,9</span>
<span class="t" style="left:1994.63px;top:1290.69px;font-size:20.80px;line-height:20.80px;transform:scaleX(1.1533);">N</span>
<div class="b" style="left:0.00px;top:1419.00px;width:2126.00px;height:10.30px;background:linear-gradient(to bottom,#a9d060 0%,#c1dd7e 30%,#c1dd7e 70%,#aed466 100%);"></div>
<div class="b channels" style="left:0.00px;top:1429.30px;width:2126.00px;height:88.00px;background:linear-gradient(to bottom,#f6f5f2 0%,#e0ddd6 9%,#d4d0c8 14%,#d4d0c8 84%,#b9b5ad 91%,#aeaaa2 97%,#9a968e 100%);"></div>
<div class="b" style="left:12.00px;top:1441.50px;width:1045.00px;height:63.50px;background:#efeeea;"></div>
<div class="b" style="left:1069.50px;top:1441.50px;width:1045.50px;height:63.50px;background:#efeeea;"></div>
<span class="t" style="left:17.52px;top:1447.36px;font-size:20.60px;line-height:20.60px;transform:scaleX(1.0773);font-weight:bold;">Drehwinkelgeber</span>
<span class="t" style="left:18.32px;top:1482.16px;font-size:20.60px;line-height:20.60px;transform:scaleX(1.0181);font-weight:bold;">[°]</span>
<span class="t" style="left:1075.87px;top:1447.36px;font-size:20.60px;line-height:20.60px;transform:scaleX(1.0557);font-weight:bold;">Standardkraft</span>
<span class="t" style="left:1075.53px;top:1482.16px;font-size:20.60px;line-height:20.60px;transform:scaleX(1.0996);font-weight:bold;">[kN]</span>
<div class="b" style="left:969.50px;top:1476.30px;width:13.40px;height:3.40px;background:#000;"></div>
<div class="b" style="left:997.00px;top:1476.30px;width:13.40px;height:3.40px;background:#000;"></div>
<div class="b" style="left:1024.30px;top:1476.30px;width:13.40px;height:3.40px;background:#000;"></div>
<div class="b" style="left:2027.80px;top:1476.30px;width:13.40px;height:3.40px;background:#000;"></div>
<div class="b" style="left:2055.00px;top:1476.30px;width:13.40px;height:3.40px;background:#000;"></div>
<div class="b" style="left:2082.00px;top:1476.30px;width:13.40px;height:3.40px;background:#000;"></div>
<div class="b statusbar" style="left:0.00px;top:1517.30px;width:2126.00px;height:31.00px;background:#d4d0c8;"></div>
<span class="t" style="left:1805.69px;top:1523.99px;font-size:18.80px;line-height:18.80px;transform:scaleX(0.8472);">Prüfplatzname: Default   Benutzer: MuellerG</span>
<div class="b taskbar" style="left:0.00px;top:1548.30px;width:2126.00px;height:43.70px;background:#d4d0c8;"></div>
<div class="b" style="left:0.00px;top:1549.60px;width:2126.00px;height:1.80px;background:#fff;"></div>
<div class="b" style="left:3.00px;top:1554.30px;width:78.80px;height:31.90px;background:#d4d0c8;border-top:1.7px solid #fff;border-left:1.7px solid #fff;border-right:1.7px solid #404040;border-bottom:1.7px solid #404040;box-shadow:inset -1.6px -1.6px 0 #808080;"></div>
<svg style="left:6.20px;top:1557.50px" width="24.00" height="22.00" viewBox="6.20 1557.50 24.00 22.00" ><path d="M8.4 1559.0 q5 -3 9.5 -0.5 l-1.6 8.5 q-4.5 -2.2 -9.5 0.6 z" fill="#f05a28"/><path d="M18.8 1559.1 q5 2.6 9.5 -0.4 l-1.6 8.6 q-4.6 3 -9.5 0.4 z" fill="#7cc243"/><path d="M6.6 1568.5 q5 -3 9.5 -0.5 l-1.6 8.5 q-4.5 -2.2 -9.5 0.6 z" fill="#3a7be0"/><path d="M17.0 1568.6 q5 2.6 9.5 -0.4 l-1.6 8.6 q-4.6 3 -9.5 0.4 z" fill="#fcc822"/></svg>
<span class="t" style="left:32.45px;top:1562.87px;font-size:17.40px;line-height:17.40px;transform:scaleX(1.0969);font-weight:bold;">Start</span>
<div class="b" style="left:92.30px;top:1557.00px;width:4.20px;height:29.00px;background:#d4d0c8;border-left:1.7px solid #fff;border-top:1.7px solid #fff;border-right:1.7px solid #808080;border-bottom:1.7px solid #808080;"></div>
<svg style="left:114.50px;top:1559.50px" width="24.00" height="24.00" viewBox="114.50 1559.50 24.00 24.00" ><rect x="116.0" y="1561.5" width="19" height="19" rx="3" fill="#2a6ae0" transform="rotate(-8 125.5 1570.5)"/><rect x="119.0" y="1564.5" width="13" height="13" rx="2" fill="#e8f0ff" transform="rotate(-8 125.5 1570.5)"/><path d="M122.5 1572.0 l8 -5 l-1 6 z" fill="#1a3c90"/><circle cx="135.0" cy="1566.5" r="2" fill="#e84020"/></svg>
<svg style="left:149.50px;top:1559.50px" width="25.00" height="24.00" viewBox="149.50 1559.50 25.00 24.00" ><path d="M150.5 1578.0 l0 -13 q0 -2 2 -2 l5.5 0 l2 2.4 l9 0 q2 0 2 2 l0 10.6 q0 2 -2 2 l-16.5 0 q-2 0 -2 -2 z" fill="#e8b030" stroke="#a87808" stroke-width="1.2"/><path d="M150.8 1579.0 l3 -9 q0.5 -1.5 2 -1.5 l15.5 0 q1.6 0 1 1.8 l-2.8 8.7 q-0.5 1.5 -2 1.5 l-16 0 z" fill="#ffe08a" stroke="#b88a10" stroke-width="1.1"/><circle cx="160.0" cy="1570.5" r="5" fill="#cfe4ff" stroke="#7a90c8" stroke-width="1.4"/><path d="M164.0 1574.5 l5 5" stroke="#c07838" stroke-width="2.4"/></svg>
<svg style="left:185.00px;top:1559.00px" width="26.00" height="25.00" viewBox="185.00 1559.00 26.00 25.00" ><circle cx="197.5" cy="1571.0" r="9.2" fill="#2a8cf0"/><circle cx="197.9" cy="1570.5" r="4.6" fill="#d4d0c8"/><rect x="190.0" y="1570.4" width="16" height="3.2" fill="#2a8cf0"/><path d="M199.0 1573.6 l10 0 l0 6 z" fill="#d4d0c8"/><ellipse cx="197.5" cy="1571.0" rx="13" ry="4.6" fill="none" stroke="#f0b820" stroke-width="2" transform="rotate(-32 197.5 1571.0)"/><path d="M189.0 1567.5 a9.2 9.2 0 0 1 12 -5" fill="none" stroke="#2a8cf0" stroke-width="3"/></svg>
<svg style="left:220.00px;top:1559.80px" width="24.30" height="24.30" viewBox="220.00 1559.80 24.30 24.30" ><rect x="221.3" y="1561.1" width="21.7" height="21.7" fill="#fff4dc" stroke="#e88a10" stroke-width="2.6"/><circle cx="232.2" cy="1572.0" r="7.3" fill="#fff8e8" stroke="#d08018" stroke-width="1.9"/><path d="M232.2 1567.1 v5.3 h4.1" fill="none" stroke="#c07010" stroke-width="1.7"/></svg>
<div class="b" style="left:311.00px;top:1557.00px;width:4.20px;height:29.00px;background:#d4d0c8;border-left:1.7px solid #fff;border-top:1.7px solid #fff;border-right:1.7px solid #808080;border-bottom:1.7px solid #808080;"></div>
<div class="b" style="left:322.00px;top:1554.30px;width:215.00px;height:31.90px;background:#d4d0c8;border-top:1.7px solid #fff;border-left:1.7px solid #fff;border-right:1.7px solid #404040;border-bottom:1.7px solid #404040;box-shadow:inset -1.6px -1.6px 0 #808080;"></div>
<svg style="left:329.00px;top:1558.50px" width="24.00" height="24.00" viewBox="329.00 1558.50 24.00 24.00" ><rect x="330.5" y="1560.0" width="20" height="20" fill="#ffe8b8" stroke="#f0a020" stroke-width="2.2"/><path d="M334.0 1577.0 v-9 h4 v5 h5 v-3 h4 v7 z" fill="#fff" stroke="#d88810" stroke-width="1.6"/><rect x="334.5" y="1563.0" width="4" height="4" fill="#e89818"/></svg>
<span class="t" style="left:356.34px;top:1563.31px;font-size:17.00px;line-height:17.00px;transform:scaleX(0.9748);">Posteingang - Micros...</span>
<div class="b" style="left:542.00px;top:1554.30px;width:215.00px;height:31.90px;background:#d4d0c8;border-top:1.7px solid #fff;border-left:1.7px solid #fff;border-right:1.7px solid #404040;border-bottom:1.7px solid #404040;box-shadow:inset -1.6px -1.6px 0 #808080;"></div>
<svg style="left:549.00px;top:1558.50px" width="25.00" height="25.00" viewBox="549.00 1558.50 25.00 25.00" ><path d="M555.0 1559.5 l12.5 0 l4.5 4.5 l0 18 l-17 0 z" fill="#f4f8ff" stroke="#5a78c0" stroke-width="1.3"/><rect x="549.8" y="1561.7" width="15" height="13.5" fill="#2850b0"/><path d="M552.2 1564.5 l2.3 8 l2.3 -7 l2.3 7 l2.3 -8" fill="none" stroke="#fff" stroke-width="1.8"/><path d="M558.0 1577.5 h10 M558.0 1580.0 h10" stroke="#8aa0d8" stroke-width="1.2"/></svg>
<span class="t" style="left:576.66px;top:1563.31px;font-size:17.00px;line-height:17.00px;transform:scaleX(0.9602);">Borealis_Vordruck Pr...</span>
<div class="b" style="left:762.00px;top:1554.30px;width:215.00px;height:31.90px;background:#d4d0c8;border-top:1.7px solid #fff;border-left:1.7px solid #fff;border-right:1.7px solid #404040;border-bottom:1.7px solid #404040;box-shadow:inset -1.6px -1.6px 0 #808080;"></div>
<svg style="left:769.00px;top:1558.50px" width="25.00" height="24.00" viewBox="769.00 1558.50 25.00 24.00" ><path d="M770.0 1577.0 l0 -13 q0 -2 2 -2 l5.5 0 l2 2.4 l9 0 q2 0 2 2 l0 10.6 q0 2 -2 2 l-16.5 0 q-2 0 -2 -2 z" fill="#e8b030" stroke="#a87808" stroke-width="1.2"/><path d="M770.3 1578.0 l3 -9 q0.5 -1.5 2 -1.5 l15.5 0 q1.6 0 1 1.8 l-2.8 8.7 q-0.5 1.5 -2 1.5 l-16 0 z" fill="#ffe08a" stroke="#b88a10" stroke-width="1.1"/></svg>
<span class="t" style="left:797.46px;top:1563.31px;font-size:17.00px;line-height:17.00px;">Z:\User\MuellerG\Auf...</span>
<div class="b" style="left:982.00px;top:1554.30px;width:217.00px;height:31.90px;background:#d4d0c8;border-top:1.7px solid #fff;border-left:1.7px solid #fff;border-right:1.7px solid #404040;border-bottom:1.7px solid #404040;box-shadow:inset -1.6px -1.6px 0 #808080;"></div>
<svg style="left:989.00px;top:1558.50px" width="26.00" height="25.00" viewBox="989.00 1558.50 26.00 25.00" ><circle cx="1001.5" cy="1570.5" r="9.2" fill="#2a8cf0"/><circle cx="1001.9" cy="1570.0" r="4.6" fill="#d4d0c8"/><rect x="994.0" y="1569.9" width="16" height="3.2" fill="#2a8cf0"/><path d="M1003.0 1573.1 l10 0 l0 6 z" fill="#d4d0c8"/><ellipse cx="1001.5" cy="1570.5" rx="13" ry="4.6" fill="none" stroke="#f0b820" stroke-width="2" transform="rotate(-32 1001.5 1570.5)"/><path d="M993.0 1567.0 a9.2 9.2 0 0 1 12 -5" fill="none" stroke="#2a8cf0" stroke-width="3"/></svg>
<span class="t" style="left:1016.67px;top:1563.31px;font-size:17.00px;line-height:17.00px;transform:scaleX(0.9526);">Deutsche Linksammlu...</span>
<div class="b" style="left:1205.00px;top:1554.30px;width:215.00px;height:31.90px;background:#e9e7e2;border-top:1.7px solid #404040;border-left:1.7px solid #404040;border-right:1.7px solid #fff;border-bottom:1.7px solid #fff;box-shadow:inset 1.6px 1.6px 0 #808080;"></div>
<svg style="left:1213.50px;top:1559.50px" width="23.00" height="23.00" viewBox="1213.50 1559.50 23.00 23.00" ><polygon points="1225.0,1559.5 1235.6,1565.0 1225.0,1570.3 1214.4,1565.0" fill="#3f86ff"/><polygon points="1214.4,1565.0 1225.0,1570.3 1225.0,1582.5 1214.4,1577.4" fill="#0f4ce0"/><polygon points="1225.0,1570.3 1235.6,1565.0 1235.6,1577.4 1225.0,1582.5" fill="#0a36b8"/></svg>
<span class="t" style="left:1241.77px;top:1563.44px;font-size:17.20px;line-height:17.20px;transform:scaleX(1.1073);font-weight:bold;">testXpert II  - Z:\U...</span>
<div class="b" style="left:1426.50px;top:1554.30px;width:216.50px;height:31.90px;background:#d4d0c8;border-top:1.7px solid #fff;border-left:1.7px solid #fff;border-right:1.7px solid #404040;border-bottom:1.7px solid #404040;box-shadow:inset -1.6px -1.6px 0 #808080;"></div>
<svg style="left:1433.50px;top:1558.50px" width="25.00" height="24.00" viewBox="1433.50 1558.50 25.00 24.00" ><path d="M1434.5 1577.0 l0 -13 q0 -2 2 -2 l5.5 0 l2 2.4 l9 0 q2 0 2 2 l0 10.6 q0 2 -2 2 l-16.5 0 q-2 0 -2 -2 z" fill="#e8b030" stroke="#a87808" stroke-width="1.2"/><path d="M1434.8 1578.0 l3 -9 q0.5 -1.5 2 -1.5 l15.5 0 q1.6 0 1 1.8 l-2.8 8.7 q-0.5 1.5 -2 1.5 l-16 0 z" fill="#ffe08a" stroke="#b88a10" stroke-width="1.1"/></svg>
<span class="t" style="left:1461.47px;top:1563.31px;font-size:17.00px;line-height:17.00px;transform:scaleX(0.9806);">Z:\Transfer\MuellerG</span>
<div class="b" style="left:1648.50px;top:1554.30px;width:216.50px;height:31.90px;background:#d4d0c8;border-top:1.7px solid #fff;border-left:1.7px solid #fff;border-right:1.7px solid #404040;border-bottom:1.7px solid #404040;box-shadow:inset -1.6px -1.6px 0 #808080;"></div>
<svg style="left:1655.50px;top:1558.50px" width="25.00" height="25.00" viewBox="1655.50 1558.50 25.00 25.00" ><path d="M1660.0 1559.5 l13 0 l4.5 4.5 l0 17 l-17.5 0 z" fill="#fff" stroke="#c02020" stroke-width="1.4"/><rect x="1656.5" y="1562.0" width="3" height="21" fill="#d02828"/><path d="M1663.7 1574.5 l4.2 -10 l4.2 10 M1665.5 1571.0 h5" fill="none" stroke="#e02020" stroke-width="2"/><rect x="1661.5" y="1577.0" width="14" height="2.6" fill="#d02828"/></svg>
<span class="t" style="left:1684.47px;top:1563.31px;font-size:17.00px;line-height:17.00px;transform:scaleX(0.9911);">Adobe Reader - [iso ...</span>
<div class="b" style="left:1879.00px;top:1557.00px;width:4.20px;height:29.00px;background:#d4d0c8;border-left:1.7px solid #fff;border-top:1.7px solid #fff;border-right:1.7px solid #808080;border-bottom:1.7px solid #808080;"></div>
<div class="b" style="left:1896.30px;top:1560.00px;width:18.40px;height:23.80px;background:#0a246a;"></div>
<span class="t" style="left:1896.55px;top:1564.91px;font-size:17.00px;line-height:17.00px;transform:scaleX(0.7538);color:#fff;">DE</span>
<div class="b" style="left:1921.30px;top:1554.30px;width:201.50px;height:34.60px;background:#d4d0c8;border-top:1.7px solid #808080;border-left:1.7px solid #808080;border-right:1.7px solid #fff;border-bottom:1.7px solid #fff;"></div>
<svg style="left:1926.50px;top:1559.00px" width="24.00" height="25.00" viewBox="1926.50 1559.00 24.00 25.00" ><path d="M1928.0 1564.0 q6 -1 10 -4 q4 3 10 4 q0.5 13 -10 19.5 q-10.5 -6.5 -10 -19.5 z" fill="#f8d020" stroke="#4a62b8" stroke-width="2"/><rect x="1936.8" y="1566.0" width="2.6" height="8" fill="#303030"/><rect x="1936.8" y="1575.5" width="2.6" height="2.6" fill="#303030"/></svg><svg style="left:1952.00px;top:1559.00px" width="25.00" height="25.00" viewBox="1952.00 1559.00 25.00 25.00" ><rect x="1953.3" y="1560.3" width="22.4" height="22.4" fill="#fff4dc" stroke="#e88a10" stroke-width="2.6"/><circle cx="1964.5" cy="1571.5" r="7.5" fill="#fff8e8" stroke="#d08018" stroke-width="1.9"/><path d="M1964.5 1566.5 v5.5 h4.2" fill="none" stroke="#c07010" stroke-width="1.7"/></svg><svg style="left:1979.50px;top:1560.00px" width="25.00" height="24.00" viewBox="1979.50 1560.00 25.00 24.00" ><path d="M1980.0 1561.5 l24 0 l-12 21 z" fill="#1038d0"/><path d="M1987.0 1568.0 l11 0 l-5.5 9.5 z" fill="#e8eef8" stroke="#101010" stroke-width="1.3"/><path d="M1981.0 1562.5 l22 0" stroke="#68a0ff" stroke-width="1.6"/></svg><svg style="left:2007.50px;top:1559.00px" width="27.00" height="26.00" viewBox="2007.50 1559.00 27.00 26.00" ><path d="M2008.5 1567.5 l5.5 0 l7 -6.5 l0 21.5 l-7 -6.5 l-5.5 0 z" fill="#e04828" stroke="#601808" stroke-width="1.2"/><path d="M2024.5 1563.5 q4 8 0 17 M2029.0 1561.5 q5 10 0 21" fill="none" stroke="#202020" stroke-width="1.7"/></svg><svg style="left:2035.00px;top:1558.00px" width="28.00" height="28.00" viewBox="2035.00 1558.00 28.00 28.00" ><rect x="2037.0" y="1561.0" width="21" height="17" fill="#1848d8" stroke="#0a2890" stroke-width="1.5" transform="rotate(-4 2047.0 1570.0)"/><rect x="2040.5" y="1564.5" width="14" height="10" fill="#3a6cf0" stroke="#8ab0ff" stroke-width="1" stroke-dasharray="1.6 1.6" transform="rotate(-4 2047.0 1570.0)"/><path d="M2038.0 1582.5 l20 -1" stroke="#0a2890" stroke-width="2.4"/></svg>
<span class="t" style="left:2069.72px;top:1564.98px;font-size:16.80px;line-height:16.80px;">16:16</span>
</body></html>
